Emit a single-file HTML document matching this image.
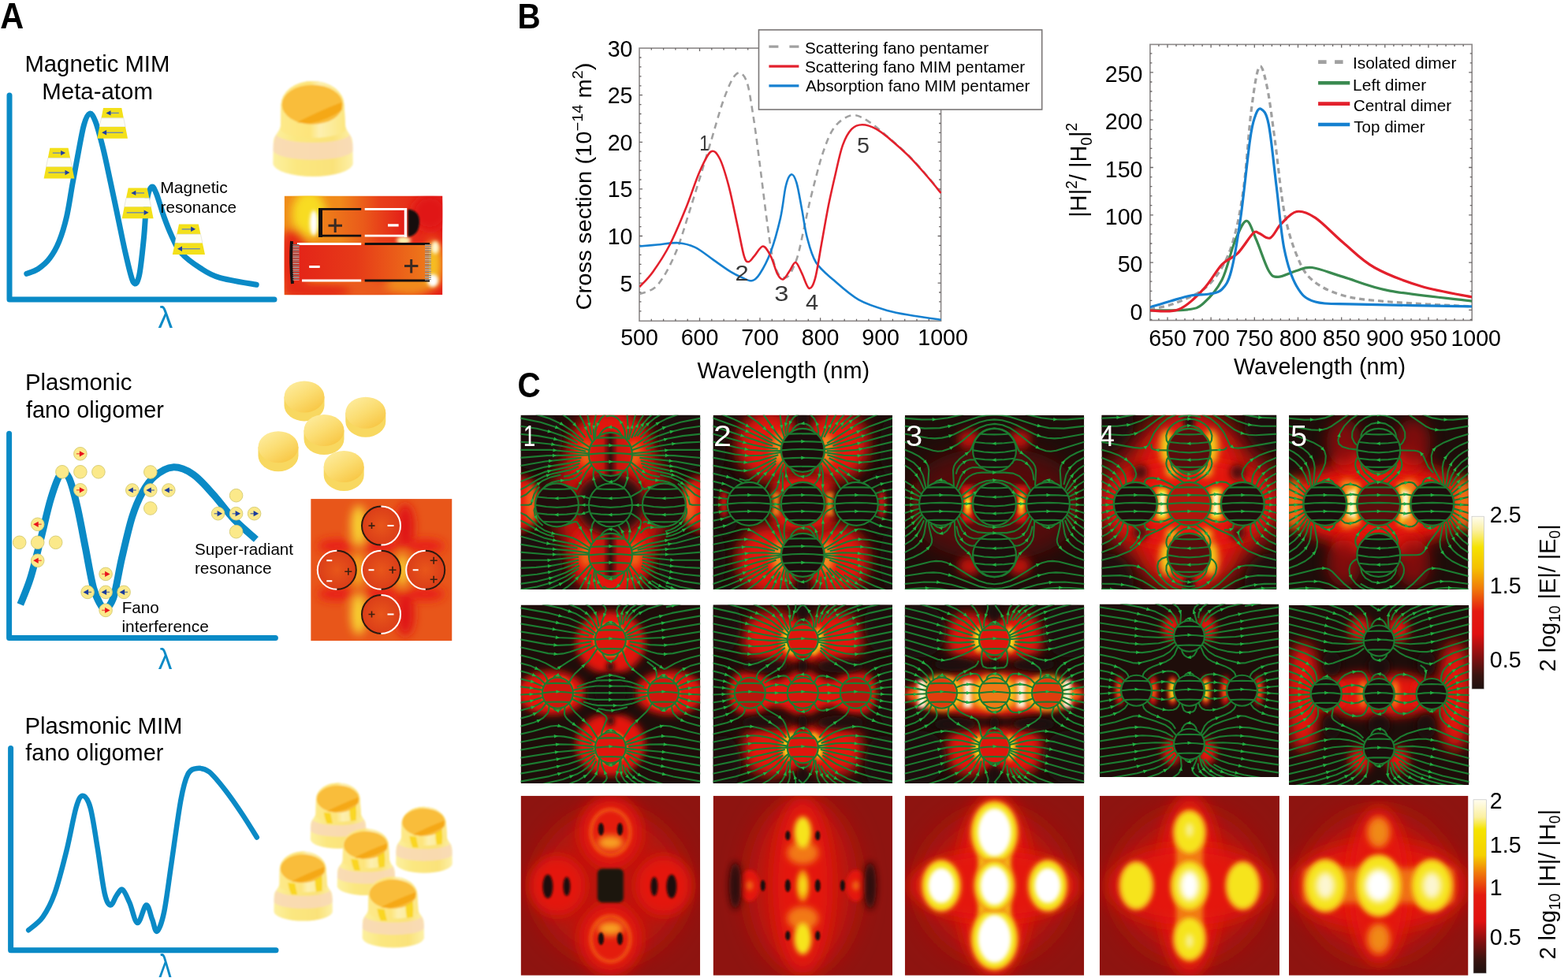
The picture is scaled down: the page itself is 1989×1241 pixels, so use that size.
<!DOCTYPE html>
<html><head><meta charset="utf-8"><title>Fano MIM oligomer figure</title>
<style>
html,body{margin:0;padding:0;background:#fff;overflow:hidden;}
svg{display:block;font-family:"Liberation Sans", Arial, Helvetica, sans-serif;}
</style></head><body>
<svg width="1989" height="1241" viewBox="0 0 1989 1241">
<defs>
<filter id="bl05" x="-20%" y="-20%" width="140%" height="140%"><feGaussianBlur stdDeviation="0.5"/></filter>
<filter id="bl1" x="-20%" y="-20%" width="140%" height="140%"><feGaussianBlur stdDeviation="1"/></filter>
<filter id="bl2" x="-50%" y="-50%" width="200%" height="200%"><feGaussianBlur stdDeviation="2"/></filter>
<filter id="bl6" x="-50%" y="-50%" width="200%" height="200%"><feGaussianBlur stdDeviation="6"/></filter>
<filter id="bl8" x="-50%" y="-50%" width="200%" height="200%"><feGaussianBlur stdDeviation="8"/></filter>
<filter id="bl12" x="-20%" y="-20%" width="140%" height="140%"><feGaussianBlur stdDeviation="1.2"/></filter>
<linearGradient id="gcylLow" x1="0" y1="0" x2="1" y2="0"><stop offset="0" stop-color="#fdf0a0"/><stop offset="0.3" stop-color="#fbe780"/><stop offset="0.75" stop-color="#fae27a"/><stop offset="1" stop-color="#fdf0a8"/></linearGradient>
<linearGradient id="gcylUp" x1="0" y1="0" x2="1" y2="0"><stop offset="0" stop-color="#fde98a"/><stop offset="0.45" stop-color="#fde47a"/><stop offset="0.6" stop-color="#fdf0b0"/><stop offset="1" stop-color="#fce680"/></linearGradient>
<linearGradient id="gcylBody" x1="0" y1="0" x2="1" y2="0"><stop offset="0" stop-color="#fbe890"/><stop offset="0.35" stop-color="#f9e070"/><stop offset="0.7" stop-color="#f8d850"/><stop offset="1" stop-color="#fbe8a0"/></linearGradient>
<radialGradient id="gcylTop" cx="0.4" cy="0.4" r="0.7"><stop offset="0" stop-color="#f7b83a"/><stop offset="0.7" stop-color="#f5a623"/><stop offset="1" stop-color="#f6b640"/></radialGradient>
<linearGradient id="gdiscTop" x1="0.2" y1="0.1" x2="0.8" y2="0.9"><stop offset="0" stop-color="#fdea98"/><stop offset="0.5" stop-color="#fbdc70"/><stop offset="1" stop-color="#f8c848"/></linearGradient>
<radialGradient id="gA2disc" cx="0.5" cy="0.5" r="0.6"><stop offset="0" stop-color="#e8561a"/><stop offset="1" stop-color="#d83818"/></radialGradient>

<filter id="b2" x="-100%" y="-100%" width="300%" height="300%"><feGaussianBlur stdDeviation="1.0"/></filter>
<filter id="b3" x="-100%" y="-100%" width="300%" height="300%"><feGaussianBlur stdDeviation="1.5"/></filter>
<filter id="b4" x="-100%" y="-100%" width="300%" height="300%"><feGaussianBlur stdDeviation="2.0"/></filter>
<filter id="b5" x="-100%" y="-100%" width="300%" height="300%"><feGaussianBlur stdDeviation="2.5"/></filter>
<filter id="b6" x="-100%" y="-100%" width="300%" height="300%"><feGaussianBlur stdDeviation="3.0"/></filter>
<filter id="b8" x="-100%" y="-100%" width="300%" height="300%"><feGaussianBlur stdDeviation="4.0"/></filter>
<filter id="b10" x="-100%" y="-100%" width="300%" height="300%"><feGaussianBlur stdDeviation="5.0"/></filter>
<filter id="b12" x="-100%" y="-100%" width="300%" height="300%"><feGaussianBlur stdDeviation="6.0"/></filter>
<filter id="b14" x="-100%" y="-100%" width="300%" height="300%"><feGaussianBlur stdDeviation="7.0"/></filter>
<filter id="b16" x="-100%" y="-100%" width="300%" height="300%"><feGaussianBlur stdDeviation="8.0"/></filter>
<filter id="b18" x="-100%" y="-100%" width="300%" height="300%"><feGaussianBlur stdDeviation="9.0"/></filter>
<filter id="b20" x="-100%" y="-100%" width="300%" height="300%"><feGaussianBlur stdDeviation="10.0"/></filter>
<filter id="b24" x="-100%" y="-100%" width="300%" height="300%"><feGaussianBlur stdDeviation="12.0"/></filter>
<filter id="b28" x="-100%" y="-100%" width="300%" height="300%"><feGaussianBlur stdDeviation="14.0"/></filter>
<filter id="b32" x="-100%" y="-100%" width="300%" height="300%"><feGaussianBlur stdDeviation="16.0"/></filter>
<filter id="b36" x="-100%" y="-100%" width="300%" height="300%"><feGaussianBlur stdDeviation="18.0"/></filter>
</defs>
<rect width="1989" height="1241" fill="#fff"/>
<text x="0.2" y="36" font-size="45.35" font-weight="bold" textLength="29.9" lengthAdjust="spacingAndGlyphs">A</text>
<text x="31.4" y="90.5" font-size="28.92" textLength="184" lengthAdjust="spacingAndGlyphs">Magnetic MIM</text>
<text x="53.3" y="125.5" font-size="28.92" textLength="140.6" lengthAdjust="spacingAndGlyphs">Meta-atom</text>
<text x="32" y="494.8" font-size="29.65" textLength="135.4" lengthAdjust="spacingAndGlyphs">Plasmonic</text>
<text x="32.9" y="529.7" font-size="29.65" textLength="175.1" lengthAdjust="spacingAndGlyphs">fano oligomer</text>
<text x="31.4" y="931" font-size="29.65" textLength="200" lengthAdjust="spacingAndGlyphs">Plasmonic MIM</text>
<text x="32.3" y="965.2" font-size="29.65" textLength="175.1" lengthAdjust="spacingAndGlyphs">fano oligomer</text>
<path d="M12,121V380H348M11.6,550.3V809.5H349.4M13.6,949.4V1205.8H350" stroke="#0a8ac6" stroke-width="7" fill="none" stroke-linecap="round" stroke-linejoin="round"/>
<path d="M33.8,347.3C36.2,346.3 43.5,344.4 48.4,341.2C53.2,338 58.5,333.7 62.9,327.9C67.3,322.1 71.4,315.1 75,306.2C78.6,297.3 81.8,286.8 84.6,274.7C87.4,262.6 89.5,246.9 91.9,233.6C94.3,220.3 96.7,207.5 99.1,195C101.5,182.5 104,167.2 106.4,158.7C108.8,150.2 111.2,145 113.6,144.2C116,143.4 118.1,146.6 120.9,153.8C123.7,161.1 127.4,174.8 130.6,187.7C133.8,200.6 137,216.3 140.2,231.2C143.4,246.1 146.7,261.9 149.9,277.2C153.1,292.5 156.4,309.6 159.6,323.1C162.8,336.6 166.4,353.8 169.2,358.2C172,362.6 174.3,359.2 176.5,349.7C178.7,340.2 180.9,317 182.5,301.3C184.1,285.6 184.6,266.1 186.2,255.4C187.8,244.7 190.2,238.9 192.2,237.3C194.2,235.7 195.7,239.5 198.3,245.7C200.9,251.9 204.7,265.8 207.9,274.7C211.1,283.6 214,291.2 217.6,298.9C221.2,306.6 223.6,313.8 229.7,320.7C235.8,327.6 245.8,334.8 253.9,340C261.9,345.2 266.1,348.6 278,352.1C289.9,355.7 317.3,359.8 325.2,361.3" stroke="#0a8ac6" stroke-width="7" fill="none" stroke-linecap="round"/>
<path d="M25.8,767C28,761.4 34.4,747.2 38.7,733.4C43,719.6 47.3,701.2 51.6,684.4C55.9,667.6 60.2,646.8 64.5,632.8C68.8,618.8 73.5,604.9 77.4,600.6C81.3,596.3 84.3,599.9 87.7,607C91.1,614.1 94.6,628.5 98,643.1C101.4,657.7 104.9,677.5 108.3,694.7C111.7,711.9 115.2,733.8 118.6,746.3C122,758.8 126.1,765.2 128.9,769.5C131.7,773.8 132.8,774.1 135.4,772C138,769.9 141.2,767.3 144.4,756.6C147.6,745.9 150.8,724.4 154.7,707.6C158.6,690.8 163.3,669.8 167.6,656C171.9,642.2 175.8,633.7 180.5,625.1C185.2,616.5 189.6,609.9 196,604.5C202.4,599.1 211,593.3 219.2,592.9C227.4,592.5 236.4,596.1 245,601.9C253.6,607.7 262.2,618.2 270.8,627.7C279.4,637.2 287.5,649.2 296.5,658.6C305.5,668 320.2,680.1 324.9,684.4" stroke="#0a8ac6" stroke-width="9" fill="none" stroke-linecap="butt"/>
<path d="M36.2,1180.2C39.2,1177.4 48.8,1171.4 54.3,1163.6C59.8,1155.8 64.4,1147.5 69.4,1133.4C74.4,1119.3 80,1097.2 84.5,1079.1C89,1061 93.1,1036.4 96.5,1024.8C99.9,1013.2 102,1009.7 105,1009.7C108,1009.7 111.5,1013.8 114.6,1024.8C117.7,1035.8 120.7,1057.9 123.7,1076C126.7,1094.1 129.9,1121.3 132.7,1133.4C135.5,1145.5 137.8,1148 140.3,1148.5C142.8,1149 145.3,1139.7 147.8,1136.4C150.3,1133.1 152.6,1127.4 155.4,1128.9C158.2,1130.4 161.2,1138.5 164.4,1145.5C167.6,1152.5 170.9,1170.6 174.4,1171.1C177.9,1171.6 182.4,1149.2 185.5,1148.5C188.6,1147.8 190.8,1161.1 193.1,1166.6C195.4,1172.1 196.6,1183.2 199.1,1181.7C201.6,1180.2 205.1,1171.6 208.1,1157.5C211.1,1143.4 213.7,1120.8 217.2,1097.2C220.7,1073.6 225.8,1034.8 229.3,1015.7C232.8,996.6 234.8,989.4 238.3,982.6C241.8,975.8 245.9,975.5 250.4,975C254.9,974.5 259.5,974.7 265.5,979.5C271.5,984.3 279.6,994.7 286.6,1003.7C293.6,1012.8 301.2,1024 307.7,1033.8C314.2,1043.6 322.8,1057.7 325.8,1062.5" stroke="#0a8ac6" stroke-width="6.5" fill="none" stroke-linecap="round"/>
<text x="200.4" y="416.2" font-size="38.34" fill="#0a8ac6" textLength="18.7" lengthAdjust="spacingAndGlyphs">λ</text>
<text x="200.8" y="849.4" font-size="37.24" fill="#0a8ac6" textLength="17.6" lengthAdjust="spacingAndGlyphs">λ</text>
<text x="201.3" y="1240" font-size="40.00" fill="#0a8ac6" textLength="16.5" lengthAdjust="spacingAndGlyphs">λ</text>
<path d="M63.3,187.7H86.6L89.1,200.5H60.8Z" fill="#f3e01a"/>
<path d="M60.8,200.5H89.1L91.4,211.7H58.5Z" fill="#fdfdf6" stroke="#d8d8c8" stroke-width="0.6"/>
<path d="M58.5,211.7H91.4L94.3,226.4H55.6Z" fill="#f3e01a"/>
<path d="M66.8,194.1H79.1" stroke="#6c8ab0" stroke-width="1.4"/>
<path d="M83.1,194.1l-6,-3.2v6.4z" fill="#1f3fa0"/>
<path d="M61.4,219H84.5" stroke="#6c8ab0" stroke-width="1.4"/>
<path d="M88.5,219l-6,-3.2v6.4z" fill="#1f3fa0"/>
<path d="M131,137H154.3L156.8,149.8H128.5Z" fill="#f3e01a"/>
<path d="M128.5,149.8H156.8L159.1,161H126.2Z" fill="#fdfdf6" stroke="#d8d8c8" stroke-width="0.6"/>
<path d="M126.2,161H159.1L162,175.7H123.3Z" fill="#f3e01a"/>
<path d="M138.5,143.4H150.8" stroke="#6c8ab0" stroke-width="1.4"/>
<path d="M134.5,143.4l6,-3.2v6.4z" fill="#1f3fa0"/>
<path d="M133.1,168.3H156.2" stroke="#6c8ab0" stroke-width="1.4"/>
<path d="M129.1,168.3l6,-3.2v6.4z" fill="#1f3fa0"/>
<path d="M162.7,238.5H186.6L189.3,251.3H160Z" fill="#f3e01a"/>
<path d="M160,251.3H189.3L191.6,262.5H157.7Z" fill="#fdfdf6" stroke="#d8d8c8" stroke-width="0.6"/>
<path d="M157.7,262.5H191.6L194.6,277.2H154.7Z" fill="#f3e01a"/>
<path d="M170.3,244.9H183" stroke="#6c8ab0" stroke-width="1.4"/>
<path d="M166.3,244.9l6,-3.2v6.4z" fill="#1f3fa0"/>
<path d="M160.7,269.8H184.6" stroke="#6c8ab0" stroke-width="1.4"/>
<path d="M188.6,269.8l-6,-3.2v6.4z" fill="#1f3fa0"/>
<path d="M227,284.4H251.8L254.5,297.2H224.3Z" fill="#f3e01a"/>
<path d="M224.3,297.2H254.5L256.9,308.4H221.9Z" fill="#fdfdf6" stroke="#d8d8c8" stroke-width="0.6"/>
<path d="M221.9,308.4H256.9L260,323.1H218.8Z" fill="#f3e01a"/>
<path d="M230.7,290.8H244.1" stroke="#6c8ab0" stroke-width="1.4"/>
<path d="M248.1,290.8l-6,-3.2v6.4z" fill="#1f3fa0"/>
<path d="M229,315.7H253.8" stroke="#6c8ab0" stroke-width="1.4"/>
<path d="M225,315.7l6,-3.2v6.4z" fill="#1f3fa0"/>
<text x="203.3" y="244.7" font-size="20.64" textLength="85.5" lengthAdjust="spacingAndGlyphs">Magnetic</text>
<text x="203.6" y="269.8" font-size="20.64">resonance</text>
<circle cx="24.7" cy="688.3" r="8.3" fill="#fbe98a" stroke="#d9cf7a" stroke-width="1"/>
<circle cx="70.7" cy="688.3" r="8.3" fill="#fbe98a" stroke="#d9cf7a" stroke-width="1"/>
<circle cx="47.7" cy="688.3" r="8.3" fill="#fbe98a" stroke="#d9cf7a" stroke-width="1"/>
<circle cx="47.7" cy="665.3" r="8.3" fill="#fbe98a" stroke="#d9cf7a" stroke-width="1"/><path d="M52.7,665.3H46.7" stroke="#e8141c" stroke-width="1.5" opacity="0.6"/><path d="M42.2,665.3L48.7,661.7V668.9Z" fill="#e8141c"/>
<circle cx="47.7" cy="711.3" r="8.3" fill="#fbe98a" stroke="#d9cf7a" stroke-width="1"/><path d="M52.7,711.3H46.7" stroke="#e8141c" stroke-width="1.5" opacity="0.6"/><path d="M42.2,711.3L48.7,707.7V714.9Z" fill="#e8141c"/>
<circle cx="78.9" cy="598.8" r="8.3" fill="#fbe98a" stroke="#d9cf7a" stroke-width="1"/>
<circle cx="124.9" cy="598.8" r="8.3" fill="#fbe98a" stroke="#d9cf7a" stroke-width="1"/>
<circle cx="101.9" cy="598.8" r="8.3" fill="#fbe98a" stroke="#d9cf7a" stroke-width="1"/>
<circle cx="101.9" cy="575.8" r="8.3" fill="#fbe98a" stroke="#d9cf7a" stroke-width="1"/><path d="M96.9,575.8H102.9" stroke="#e8141c" stroke-width="1.5" opacity="0.6"/><path d="M107.4,575.8L100.9,572.2V579.4Z" fill="#e8141c"/>
<circle cx="101.9" cy="621.8" r="8.3" fill="#fbe98a" stroke="#d9cf7a" stroke-width="1"/><path d="M96.9,621.8H102.9" stroke="#e8141c" stroke-width="1.5" opacity="0.6"/><path d="M107.4,621.8L100.9,618.2V625.4Z" fill="#e8141c"/>
<circle cx="167.8" cy="622" r="8.3" fill="#fbe98a" stroke="#d9cf7a" stroke-width="1"/><path d="M172.8,622H166.8" stroke="#1a3c9c" stroke-width="1.5" opacity="0.6"/><path d="M162.3,622L168.8,618.4V625.6Z" fill="#1a3c9c"/>
<circle cx="213.8" cy="622" r="8.3" fill="#fbe98a" stroke="#d9cf7a" stroke-width="1"/><path d="M218.8,622H212.8" stroke="#1a3c9c" stroke-width="1.5" opacity="0.6"/><path d="M208.3,622L214.8,618.4V625.6Z" fill="#1a3c9c"/>
<circle cx="190.8" cy="622" r="8.3" fill="#fbe98a" stroke="#d9cf7a" stroke-width="1"/><path d="M195.8,622H189.8" stroke="#1a3c9c" stroke-width="1.5" opacity="0.6"/><path d="M185.3,622L191.8,618.4V625.6Z" fill="#1a3c9c"/>
<circle cx="190.8" cy="599" r="8.3" fill="#fbe98a" stroke="#d9cf7a" stroke-width="1"/>
<circle cx="190.8" cy="645" r="8.3" fill="#fbe98a" stroke="#d9cf7a" stroke-width="1"/>
<circle cx="276.6" cy="651.7" r="8.3" fill="#fbe98a" stroke="#d9cf7a" stroke-width="1"/><path d="M271.6,651.7H277.6" stroke="#1a3c9c" stroke-width="1.5" opacity="0.6"/><path d="M282.1,651.7L275.6,648.1V655.3Z" fill="#1a3c9c"/>
<circle cx="322.6" cy="651.7" r="8.3" fill="#fbe98a" stroke="#d9cf7a" stroke-width="1"/><path d="M317.6,651.7H323.6" stroke="#1a3c9c" stroke-width="1.5" opacity="0.6"/><path d="M328.1,651.7L321.6,648.1V655.3Z" fill="#1a3c9c"/>
<circle cx="299.6" cy="651.7" r="8.3" fill="#fbe98a" stroke="#d9cf7a" stroke-width="1"/><path d="M294.6,651.7H300.6" stroke="#1a3c9c" stroke-width="1.5" opacity="0.6"/><path d="M305.1,651.7L298.6,648.1V655.3Z" fill="#1a3c9c"/>
<circle cx="299.6" cy="628.7" r="8.3" fill="#fbe98a" stroke="#d9cf7a" stroke-width="1"/>
<circle cx="299.6" cy="674.7" r="8.3" fill="#fbe98a" stroke="#d9cf7a" stroke-width="1"/>
<circle cx="111.1" cy="751.4" r="8.3" fill="#fbe98a" stroke="#d9cf7a" stroke-width="1"/><path d="M116.1,751.4H110.1" stroke="#1a3c9c" stroke-width="1.5" opacity="0.6"/><path d="M105.6,751.4L112.1,747.8V755Z" fill="#1a3c9c"/>
<circle cx="157.1" cy="751.4" r="8.3" fill="#fbe98a" stroke="#d9cf7a" stroke-width="1"/><path d="M162.1,751.4H156.1" stroke="#1a3c9c" stroke-width="1.5" opacity="0.6"/><path d="M151.6,751.4L158.1,747.8V755Z" fill="#1a3c9c"/>
<circle cx="134.1" cy="751.4" r="8.3" fill="#fbe98a" stroke="#d9cf7a" stroke-width="1"/><path d="M139.1,751.4H133.1" stroke="#1a3c9c" stroke-width="1.5" opacity="0.6"/><path d="M128.6,751.4L135.1,747.8V755Z" fill="#1a3c9c"/>
<circle cx="134.1" cy="728.4" r="8.3" fill="#fbe98a" stroke="#d9cf7a" stroke-width="1"/><path d="M129.1,728.4H135.1" stroke="#e8141c" stroke-width="1.5" opacity="0.6"/><path d="M139.6,728.4L133.1,724.8V732Z" fill="#e8141c"/>
<circle cx="134.1" cy="774.4" r="8.3" fill="#fbe98a" stroke="#d9cf7a" stroke-width="1"/><path d="M129.1,774.4H135.1" stroke="#e8141c" stroke-width="1.5" opacity="0.6"/><path d="M139.6,774.4L133.1,770.8V778Z" fill="#e8141c"/>
<text x="247.1" y="703.7" font-size="20.64">Super-radiant</text>
<text x="246.9" y="728" font-size="20.64" textLength="97.7" lengthAdjust="spacingAndGlyphs">resonance</text>
<text x="154.7" y="777.7" font-size="20.64">Fano</text>
<text x="154.4" y="802" font-size="20.64" textLength="110.4" lengthAdjust="spacingAndGlyphs">interference</text>
<g filter="url(#bl12)"><path d="M356.4,133.3A40.1,30.4 0 0 1 436.6,133.3L438.2,160.1C440.7,169.9 446.8,171.1 447.3,180.9L447.8,207.6A50.8,17.1 0 0 1 346.3,207.6L346.8,180.9C347.3,171.1 353.4,169.9 355.9,160.1Z" fill="url(#gcylLow)"/>
<path d="M356.4,133.3A40.1,30.4 0 0 1 436.6,133.3L438.2,163.8A41.1,11 0 0 1 355.9,163.8Z" fill="url(#gcylUp)"/>
<path d="M350.4,170.5A46.7,11 0 0 0 443.7,170.5L447.3,183.3L447.5,190.6A50.4,12.2 0 0 1 346.6,190.6L346.8,183.3Z" fill="#f8d8b8" opacity="0.85"/>
<ellipse cx="396.2" cy="132.7" rx="38.6" ry="25" fill="#f9bd3a"/>
<path d="M376.8,155.3Q402.1,141.9 433.6,129.7L433.6,139.4Q417.4,151.6 392,157.1Z" fill="#f4a50e" opacity="0.85"/></g>
<g filter="url(#bl05)">
<path d="M360.5,503.4V514.4A25.5,20 0 0 0 411.5,514.4V503.4Z" fill="#f8d860"/>
<ellipse cx="386" cy="503.4" rx="25.5" ry="20" fill="url(#gdiscTop)"/>
<path d="M438.3,523.7V534.7A25.5,20 0 0 0 489.3,534.7V523.7Z" fill="#f8d860"/>
<ellipse cx="463.8" cy="523.7" rx="25.5" ry="20" fill="url(#gdiscTop)"/>
<path d="M385.5,546V557A25.5,20 0 0 0 436.5,557V546Z" fill="#f8d860"/>
<ellipse cx="411" cy="546" rx="25.5" ry="20" fill="url(#gdiscTop)"/>
<path d="M327.5,567.2V578.2A25.5,20 0 0 0 378.5,578.2V567.2Z" fill="#f8d860"/>
<ellipse cx="353" cy="567.2" rx="25.5" ry="20" fill="url(#gdiscTop)"/>
<path d="M410.7,591.9V602.9A25.5,20 0 0 0 461.7,602.9V591.9Z" fill="#f8d860"/>
<ellipse cx="436.2" cy="591.9" rx="25.5" ry="20" fill="url(#gdiscTop)"/>
</g>
<g filter="url(#bl12)">
<path d="M400.9,1014.3A27.9,20.8 0 0 1 456.7,1014.3L457.8,1032.6C459.6,1039.3 463.8,1040.1 464.1,1046.7L464.5,1065.1A35.3,11.6 0 0 1 393.8,1065.1L394.2,1046.7C394.5,1040.1 398.7,1039.3 400.5,1032.6Z" fill="url(#gcylLow)"/>
<path d="M400.9,1014.3A27.9,20.8 0 0 1 456.7,1014.3L457.8,1035.1A28.6,7.5 0 0 1 400.5,1035.1Z" fill="url(#gcylUp)"/>
<path d="M396.6,1039.7A32.5,7.5 0 0 0 461.7,1039.7L464.1,1048.4L464.3,1053.4A35.1,8.3 0 0 1 394,1053.4L394.2,1048.4Z" fill="#f8d8b8" opacity="0.85"/>
<ellipse cx="428.6" cy="1013.9" rx="26.9" ry="17.1" fill="#f9bd3a"/>
<path d="M415,1029.3Q432.7,1020.1 454.6,1011.8L454.6,1018.5Q443.3,1026.8 425.6,1030.5Z" fill="#f4a50e" opacity="0.85"/>
<path d="M410.8,1030.9Q412.2,1040.1 415,1045.1L422.1,1045.1Q420,1036.8 419.3,1031.8Z" fill="#f8d000" opacity="0.75"/>
<path d="M443.3,1027.6Q443.3,1035.1 444.7,1041.8L451.8,1040.9Q452.5,1032.6 451.8,1022.6Z" fill="#f8d000" opacity="0.75"/>
<path d="M509.4,1043.9A28.3,21.3 0 0 1 565.9,1043.9L567,1062.6C568.8,1069.4 573.1,1070.3 573.4,1077.1L573.8,1095.8A35.8,11.9 0 0 1 502.2,1095.8L502.6,1077.1C502.9,1070.3 507.2,1069.4 509,1062.6Z" fill="url(#gcylLow)"/>
<path d="M509.4,1043.9A28.3,21.3 0 0 1 565.9,1043.9L567,1065.2A29,7.7 0 0 1 509,1065.2Z" fill="url(#gcylUp)"/>
<path d="M505.1,1069.8A32.9,7.7 0 0 0 570.9,1069.8L573.4,1078.8L573.6,1083.9A35.6,8.5 0 0 1 502.4,1083.9L502.6,1078.8Z" fill="#f8d8b8" opacity="0.85"/>
<ellipse cx="537.4" cy="1043.4" rx="27.2" ry="17.4" fill="#f9bd3a"/>
<path d="M523.7,1059.2Q541.6,1049.8 563.8,1041.3L563.8,1048.1Q552.3,1056.6 534.4,1060.5Z" fill="#f4a50e" opacity="0.85"/>
<path d="M519.4,1060.9Q520.8,1070.3 523.7,1075.4L530.8,1075.4Q528.7,1066.9 528,1061.7Z" fill="#f8d000" opacity="0.75"/>
<path d="M552.3,1057.5Q552.3,1065.2 553.8,1072L560.9,1071.1Q561.6,1062.6 560.9,1052.4Z" fill="#f8d000" opacity="0.75"/>
<path d="M435.1,1072.9A29,21.3 0 0 1 493.1,1072.9L494.2,1091.6C496.1,1098.4 500.5,1099.3 500.8,1106.1L501.2,1124.8A36.8,11.9 0 0 1 427.7,1124.8L428.1,1106.1C428.4,1099.3 432.8,1098.4 434.7,1091.6Z" fill="url(#gcylLow)"/>
<path d="M435.1,1072.9A29,21.3 0 0 1 493.1,1072.9L494.2,1094.2A29.8,7.7 0 0 1 434.7,1094.2Z" fill="url(#gcylUp)"/>
<path d="M430.6,1098.8A33.8,7.7 0 0 0 498.3,1098.8L500.8,1107.8L501,1112.9A36.5,8.5 0 0 1 427.9,1112.9L428.1,1107.8Z" fill="#f8d8b8" opacity="0.85"/>
<ellipse cx="463.9" cy="1072.4" rx="27.9" ry="17.4" fill="#f9bd3a"/>
<path d="M449.8,1088.2Q468.1,1078.8 490.9,1070.3L490.9,1077.1Q479.1,1085.6 460.8,1089.5Z" fill="#f4a50e" opacity="0.85"/>
<path d="M445.3,1089.9Q446.8,1099.3 449.8,1104.4L457.1,1104.4Q454.9,1095.9 454.2,1090.7Z" fill="#f8d000" opacity="0.75"/>
<path d="M479.1,1086.5Q479.1,1094.2 480.6,1101L488,1100.1Q488.7,1091.6 488,1081.4Z" fill="#f8d000" opacity="0.75"/>
<path d="M354.8,1102.6A29.4,22 0 0 1 413.7,1102.6L414.8,1122C416.7,1129 421.2,1129.9 421.5,1136.9L421.9,1156.3A37.2,12.3 0 0 1 347.4,1156.3L347.8,1136.9C348.1,1129.9 352.6,1129 354.5,1122Z" fill="url(#gcylLow)"/>
<path d="M354.8,1102.6A29.4,22 0 0 1 413.7,1102.6L414.8,1124.6A30.2,7.9 0 0 1 354.5,1124.6Z" fill="url(#gcylUp)"/>
<path d="M350.4,1129.4A34.3,7.9 0 0 0 418.9,1129.4L421.5,1138.7L421.7,1144A37,8.8 0 0 1 347.6,1144L347.8,1138.7Z" fill="#f8d8b8" opacity="0.85"/>
<ellipse cx="384.1" cy="1102.2" rx="28.3" ry="18" fill="#f9bd3a"/>
<path d="M369.8,1118.4Q388.4,1108.8 411.5,1100L411.5,1107Q399.5,1115.8 380.9,1119.8Z" fill="#f4a50e" opacity="0.85"/>
<path d="M365.3,1120.2Q366.8,1129.9 369.8,1135.2L377.2,1135.2Q375,1126.4 374.2,1121.1Z" fill="#f8d000" opacity="0.75"/>
<path d="M399.5,1116.7Q399.5,1124.6 401,1131.6L408.5,1130.8Q409.2,1122 408.5,1111.4Z" fill="#f8d000" opacity="0.75"/>
<path d="M467.4,1135A31,22.5 0 0 1 529.4,1135L530.6,1154.8C532.5,1162 537.2,1162.9 537.6,1170.1L538,1189.9A39.2,12.6 0 0 1 459.6,1189.9L460,1170.1C460.4,1162.9 465.1,1162 467,1154.8Z" fill="url(#gcylLow)"/>
<path d="M467.4,1135A31,22.5 0 0 1 529.4,1135L530.6,1157.5A31.8,8.1 0 0 1 467,1157.5Z" fill="url(#gcylUp)"/>
<path d="M462.7,1162.5A36.1,8.1 0 0 0 534.9,1162.5L537.6,1171.9L537.8,1177.3A39,9 0 0 1 459.8,1177.3L460,1171.9Z" fill="#f8d8b8" opacity="0.85"/>
<ellipse cx="498.2" cy="1134.5" rx="29.8" ry="18.4" fill="#f9bd3a"/>
<path d="M483.1,1151.2Q502.7,1141.3 527,1132.3L527,1139.5Q514.5,1148.5 494.9,1152.5Z" fill="#f4a50e" opacity="0.85"/>
<path d="M478.4,1153Q480,1162.9 483.1,1168.3L491,1168.3Q488.6,1159.3 487.8,1153.9Z" fill="#f8d000" opacity="0.75"/>
<path d="M514.5,1149.4Q514.5,1157.5 516,1164.7L523.9,1163.8Q524.7,1154.8 523.9,1144Z" fill="#f8d000" opacity="0.75"/>
</g>
<clipPath id="cpA1"><rect x="360.6" y="248.5" width="200.8" height="125.7"/></clipPath>
<linearGradient id="gA1bg" x1="0" y1="0" x2="1" y2="0"><stop offset="0" stop-color="#ef8a1a"/><stop offset="0.35" stop-color="#f08a1a"/><stop offset="0.6" stop-color="#e8401a"/><stop offset="1" stop-color="#e41c18"/></linearGradient>
<linearGradient id="gA1up" x1="0" y1="0" x2="1" y2="0"><stop offset="0" stop-color="#ee801a"/><stop offset="0.5" stop-color="#ea5a1a"/><stop offset="1" stop-color="#e41c18"/></linearGradient>
<linearGradient id="gA1lo" x1="0" y1="0" x2="1" y2="0"><stop offset="0" stop-color="#e42418"/><stop offset="0.45" stop-color="#e63a18"/><stop offset="1" stop-color="#ee7a1a"/></linearGradient>
<g clip-path="url(#cpA1)">
<rect x="360.6" y="248.5" width="200.8" height="125.7" fill="url(#gA1bg)"/>
<g filter="url(#bl6)">
<ellipse cx="392" cy="272" rx="22" ry="30" fill="#f8dc20"/>
<ellipse cx="372" cy="330" rx="22" ry="40" fill="#e62a18"/>
<ellipse cx="455" cy="368" rx="50" ry="14" fill="#ea5a1a"/>
<ellipse cx="400" cy="370" rx="45" ry="12" fill="#e42a18"/>
<ellipse cx="520" cy="360" rx="30" ry="16" fill="#f08a1a"/>
<ellipse cx="550" cy="335" rx="12" ry="30" fill="#f6c020"/>
<ellipse cx="545" cy="270" rx="22" ry="22" fill="#e01818"/>
</g>
<g filter="url(#bl2)">
<ellipse cx="398" cy="283" rx="5" ry="16" fill="#ffffff"/>
<ellipse cx="512" cy="305" rx="9" ry="5" fill="#fff4b0"/>
<ellipse cx="552" cy="314" rx="5" ry="8" fill="#fff8d0"/>
<ellipse cx="549" cy="356" rx="7" ry="8" fill="#ffffff"/>
</g>
<rect x="377" y="310" width="167" height="46" fill="url(#gA1lo)"/>
<rect x="408" y="265.5" width="106" height="33.5" fill="url(#gA1up)"/>
<path d="M517.5,265.5Q533,267 532,283Q531,299 517.5,300.5Z" fill="#141010" filter="url(#bl1)"/>
<path d="M408,265.3H458.2M408,299.2H458.2" stroke="#141010" stroke-width="2.8"/>
<path d="M462.7,265.3H512.9M462.7,299.2H512.9" stroke="#fff" stroke-width="2.8"/>
<path d="M406.5,264V301" stroke="#141010" stroke-width="5"/>
<path d="M514.5,264V301" stroke="#fff" stroke-width="3.5"/>
<path d="M377,309.5H458.2" stroke="#fff" stroke-width="2.8"/><path d="M383,356H458.2" stroke="#fff" stroke-width="2.8"/>
<path d="M462.7,309.5H545M462.7,356H545" stroke="#141010" stroke-width="2.8"/>
<path d="M370,306Q368,333 371,360" stroke="#141010" stroke-width="4" fill="none"/>
<path d="M375.5,310V356" stroke="#ddd" stroke-width="8" stroke-dasharray="1.3 1.3"/>
<path d="M375.5,310V356" stroke="#333" stroke-width="8" stroke-dasharray="0.9 1.7" opacity="0.7"/>
<path d="M543,310V356" stroke="#ddd" stroke-width="8" stroke-dasharray="1.3 1.3"/>
<path d="M543,310V356" stroke="#333" stroke-width="8" stroke-dasharray="0.9 1.7" opacity="0.6"/>
<path d="M416.5,286.3h17.5M425.2,277.5v17.5" stroke="#3a2a22" stroke-width="3"/>
<path d="M492,285.8h13.6" stroke="#fff" stroke-width="3.2"/>
<path d="M392.2,338.5h13.5" stroke="#fff" stroke-width="3.2"/>
<path d="M513,337.5h17.4M521.7,329v17.4" stroke="#3a2a22" stroke-width="3"/>
</g>
<clipPath id="cpA2"><rect x="394.2" y="633.1" width="179.3" height="180.2"/></clipPath>
<g clip-path="url(#cpA2)">
<rect x="394.2" y="633.1" width="179.3" height="180.2" fill="#e8561a"/>
<g filter="url(#bl6)">
<ellipse cx="455" cy="667.1" rx="10" ry="26" fill="#f8d030"/>
<ellipse cx="514" cy="667.1" rx="12" ry="28" fill="#e01818"/>
<ellipse cx="455" cy="779.5" rx="10" ry="26" fill="#f8d030"/>
<ellipse cx="514" cy="779.5" rx="12" ry="28" fill="#e01818"/>
<ellipse cx="427.3" cy="692.8" rx="24" ry="9" fill="#e82018"/>
<ellipse cx="427.3" cy="753.8" rx="24" ry="9" fill="#e82018"/>
<ellipse cx="483.5" cy="692.8" rx="24" ry="9" fill="#e82018"/>
<ellipse cx="483.5" cy="753.8" rx="24" ry="9" fill="#e82018"/>
<ellipse cx="539.7" cy="692.8" rx="24" ry="9" fill="#e82018"/>
<ellipse cx="539.7" cy="753.8" rx="24" ry="9" fill="#e82018"/>
<ellipse cx="453.8" cy="723.3" rx="8" ry="22" fill="#f6b020"/>
<ellipse cx="510" cy="723.3" rx="8" ry="22" fill="#f6b020"/>
<ellipse cx="512.2" cy="723.3" rx="6" ry="18" fill="#f8d030"/>
</g>
<circle cx="483.5" cy="667.1" r="24.5" fill="url(#gA2disc)"/>
<circle cx="427.3" cy="723.3" r="24.5" fill="url(#gA2disc)"/>
<circle cx="483.5" cy="723.3" r="24.5" fill="url(#gA2disc)"/>
<circle cx="539.7" cy="723.3" r="24.5" fill="url(#gA2disc)"/>
<circle cx="483.5" cy="779.5" r="24.5" fill="url(#gA2disc)"/>
<path d="M483.5,691.6A24.5,24.5 0 0 1 483.5,642.6" stroke="#2a1a10" stroke-width="2" fill="none"/>
<path d="M483.5,642.6A24.5,24.5 0 0 1 483.5,691.6" stroke="#fff" stroke-width="2" fill="none"/>
<path d="M467.5,667.1h8M471.5,663.1v8" stroke="#3a2010" stroke-width="1.6"/>
<path d="M491.5,667.1h8" stroke="#fff" stroke-width="2"/>
<path d="M483.5,804A24.5,24.5 0 0 1 483.5,755" stroke="#2a1a10" stroke-width="2" fill="none"/>
<path d="M483.5,755A24.5,24.5 0 0 1 483.5,804" stroke="#fff" stroke-width="2" fill="none"/>
<path d="M467.5,779.5h8M471.5,775.5v8" stroke="#3a2010" stroke-width="1.6"/>
<path d="M491.5,779.5h8" stroke="#fff" stroke-width="2"/>
<path d="M427.3,698.8A24.5,24.5 0 0 1 427.3,747.8" stroke="#2a1a10" stroke-width="2" fill="none"/>
<path d="M427.3,747.8A24.5,24.5 0 0 1 427.3,698.8" stroke="#fff" stroke-width="2" fill="none"/>
<path d="M483.5,698.8A24.5,24.5 0 0 1 483.5,747.8" stroke="#2a1a10" stroke-width="2" fill="none"/>
<path d="M483.5,747.8A24.5,24.5 0 0 1 483.5,698.8" stroke="#fff" stroke-width="2" fill="none"/>
<path d="M539.7,698.8A24.5,24.5 0 0 1 539.7,747.8" stroke="#2a1a10" stroke-width="2" fill="none"/>
<path d="M539.7,747.8A24.5,24.5 0 0 1 539.7,698.8" stroke="#fff" stroke-width="2" fill="none"/>
<path d="M414.3,711.3h7M414.3,737.3h7" stroke="#fff" stroke-width="2"/>
<path d="M437.3,725.3h9M441.8,720.8v9" stroke="#3a2010" stroke-width="1.6"/>
<path d="M467.5,723.3h7" stroke="#fff" stroke-width="2"/><path d="M493.5,723.3h9M498,718.8v9" stroke="#3a2010" stroke-width="1.6"/>
<path d="M523.7,723.3h7" stroke="#fff" stroke-width="2"/><path d="M545.7,711.3h9M550.2,706.8v9M545.7,735.3h9M550.2,730.8v9" stroke="#3a2010" stroke-width="1.6"/>
</g>
<text x="656.6" y="35.9" font-size="44.91" font-weight="bold" textLength="29.1" lengthAdjust="spacingAndGlyphs">B</text>
<rect x="811" y="61.1" width="382.6" height="346.2" fill="none" stroke="#8c8888" stroke-width="1.6"/>
<path d="M826.3,61.1v2.5M826.3,407.3v-2.5M841.6,61.1v2.5M841.6,407.3v-2.5M856.9,61.1v2.5M856.9,407.3v-2.5M872.2,61.1v2.5M872.2,407.3v-2.5M902.8,61.1v2.5M902.8,407.3v-2.5M918.1,61.1v2.5M918.1,407.3v-2.5M933.4,61.1v2.5M933.4,407.3v-2.5M948.7,61.1v2.5M948.7,407.3v-2.5M979.3,61.1v2.5M979.3,407.3v-2.5M994.6,61.1v2.5M994.6,407.3v-2.5M1010,61.1v2.5M1010,407.3v-2.5M1025.3,61.1v2.5M1025.3,407.3v-2.5M1055.9,61.1v2.5M1055.9,407.3v-2.5M1071.2,61.1v2.5M1071.2,407.3v-2.5M1086.5,61.1v2.5M1086.5,407.3v-2.5M1101.8,61.1v2.5M1101.8,407.3v-2.5M1132.4,61.1v2.5M1132.4,407.3v-2.5M1147.7,61.1v2.5M1147.7,407.3v-2.5M1163,61.1v2.5M1163,407.3v-2.5M1178.3,61.1v2.5M1178.3,407.3v-2.5M887.5,61.1v4M887.5,407.3v-4M964,61.1v4M964,407.3v-4M1040.6,61.1v4M1040.6,407.3v-4M1117.1,61.1v4M1117.1,407.3v-4M811,394.9h2.5M1193.6,394.9h-2.5M811,382.9h2.5M1193.6,382.9h-2.5M811,371h2.5M1193.6,371h-2.5M811,347.2h2.5M1193.6,347.2h-2.5M811,335.3h2.5M1193.6,335.3h-2.5M811,323.3h2.5M1193.6,323.3h-2.5M811,311.4h2.5M1193.6,311.4h-2.5M811,287.6h2.5M1193.6,287.6h-2.5M811,275.7h2.5M1193.6,275.7h-2.5M811,263.7h2.5M1193.6,263.7h-2.5M811,251.8h2.5M1193.6,251.8h-2.5M811,228h2.5M1193.6,228h-2.5M811,216.1h2.5M1193.6,216.1h-2.5M811,204.1h2.5M1193.6,204.1h-2.5M811,192.2h2.5M1193.6,192.2h-2.5M811,168.4h2.5M1193.6,168.4h-2.5M811,156.5h2.5M1193.6,156.5h-2.5M811,144.5h2.5M1193.6,144.5h-2.5M811,132.6h2.5M1193.6,132.6h-2.5M811,108.8h2.5M1193.6,108.8h-2.5M811,96.9h2.5M1193.6,96.9h-2.5M811,84.9h2.5M1193.6,84.9h-2.5M811,73h2.5M1193.6,73h-2.5M811,359.1h4M1193.6,359.1h-4M811,299.5h4M1193.6,299.5h-4M811,239.9h4M1193.6,239.9h-4M811,180.3h4M1193.6,180.3h-4M811,120.7h4M1193.6,120.7h-4" stroke="#6a6666" stroke-width="1.3"/>
<clipPath id="cpB1"><rect x="811" y="61" width="383" height="346.5"/></clipPath>
<g clip-path="url(#cpB1)" fill="none" stroke-width="2.6" stroke-linejoin="round">
<path d="M811.3,373.1C815.1,371.2 826.4,370.3 833.9,361.8C841.4,353.3 849.3,338.8 856.4,322.3C863.5,305.9 869.2,285.2 876.2,263.1C883.2,241 891.7,212.8 898.7,189.8C905.8,166.8 912.6,140.9 918.5,124.9C924.4,108.9 929.3,97.7 934,93.9C938.7,90.1 943.2,93.8 946.7,102.3C950.2,110.8 952.3,127.2 955.1,144.6C957.9,162 960.8,185.1 963.6,206.7C966.4,228.3 969.5,255.1 972.1,274.4C974.7,293.7 976.8,310.5 979.1,322.3C981.4,334.1 983.7,340.1 986,345C988.3,349.9 990.5,351.4 993,352C995.5,352.6 998.2,353.1 1001.3,348.8C1004.4,344.5 1008.4,335.7 1011.4,326.3C1014.4,316.9 1016.8,303.3 1019.3,292.4C1021.8,281.5 1023.5,272.1 1026.1,260.8C1028.7,249.5 1032.1,236 1035.1,224.7C1038.1,213.4 1040.7,203 1044.1,193.2C1047.5,183.4 1051.2,173.1 1055.4,166.1C1059.6,159.1 1064.1,154.7 1069,151.4C1073.9,148.1 1079.1,145.6 1084.7,146.2C1090.3,146.8 1096,150.4 1102.8,154.8C1109.6,159.2 1117,165.8 1125.3,172.9C1133.6,180 1144.1,189 1152.4,197.2C1160.7,205.4 1168.1,214.1 1175,222C1181.9,229.9 1190.5,240.8 1193.6,244.5" stroke="#a0a0a0" stroke-dasharray="8 6"/>
<path d="M811.3,312.5C815.1,312.2 825.7,311.2 833.9,310.5C842.1,309.8 852.6,307.6 860.6,308.2C868.6,308.8 874.5,310.4 881.8,313.9C889.1,317.4 896.9,324.2 904.4,329.4C911.9,334.6 920.8,341.1 926.9,344.9C933,348.7 936.5,350.1 941,352C945.5,353.9 949.9,356.9 953.7,356.2C957.5,355.5 959.6,353.8 963.6,347.7C967.6,341.6 973.3,331.4 977.7,319.5C982.1,307.6 986.8,290.5 990,276.6C993.2,262.7 994.5,245.2 996.8,236C999,226.8 1001.2,222.2 1003.5,221.4C1005.8,220.7 1008,224.2 1010.3,231.5C1012.6,238.8 1014.9,253.7 1017.1,265.3C1019.4,276.9 1020.8,290.1 1023.8,301.4C1026.8,312.7 1029.4,324 1035.1,333C1040.8,342 1048.7,347.7 1057.7,355.6C1066.7,363.5 1078,374 1089.3,380.4C1100.6,386.8 1113.6,390.5 1125.3,393.9C1137,397.3 1147.8,398.7 1159.2,400.7C1170.6,402.7 1187.9,404.9 1193.6,405.7" stroke="#1580d0"/>
<path d="M811.3,364.1C814.1,360.9 821.9,353.8 828.2,344.9C834.6,336 842.4,324.6 849.4,311C856.4,297.4 864.2,278.5 870.5,263C876.8,247.5 882.2,229.7 887.4,218C892.6,206.3 897.3,195.4 901.5,192.6C905.7,189.8 909,193.9 912.8,201C916.6,208.1 920.3,220.8 924.1,234.9C927.9,249 932.1,270.6 935.4,285.7C938.7,300.8 941.5,317.4 943.9,325.2C946.2,332.9 947.4,332.2 949.5,332.2C951.6,332.2 953.6,328.5 956.6,325.2C959.6,321.9 964.3,312.5 967.8,312.5C971.3,312.5 974.6,319.3 977.7,325.2C980.8,331.1 983.6,342.8 986.2,347.7C988.8,352.6 990.9,355.1 993.4,354.5C995.9,353.9 998.7,347.9 1001.3,344.3C1003.9,340.7 1006.6,332.6 1009.2,333C1011.8,333.4 1014.3,341.2 1017.1,346.6C1019.9,352.1 1023.3,364.6 1026.1,365.7C1028.9,366.8 1031.4,362.5 1034,353.3C1036.6,344.1 1039.1,325.9 1041.9,310.5C1044.7,295.1 1047.9,275.9 1050.9,260.8C1053.9,245.8 1056.9,233 1059.9,220.2C1062.9,207.4 1065.6,193.5 1069,184.1C1072.4,174.7 1076.1,168.1 1080.2,163.8C1084.3,159.5 1088.5,158.2 1093.8,158.2C1099.1,158.2 1105.8,160.6 1111.8,163.8C1117.8,167 1123.1,171.8 1129.9,177.4C1136.7,183.1 1144.9,190.2 1152.4,197.7C1159.9,205.2 1168.1,214.6 1175,222.5C1181.9,230.4 1190.5,241.2 1193.6,245" stroke="#e3202c"/>
</g>
<text x="811" y="438.3" font-size="28.6" text-anchor="middle">500</text>
<text x="887.5" y="438.3" font-size="28.6" text-anchor="middle">600</text>
<text x="964" y="438.3" font-size="28.6" text-anchor="middle">700</text>
<text x="1040.6" y="438.3" font-size="28.6" text-anchor="middle">800</text>
<text x="1117.1" y="438.3" font-size="28.6" text-anchor="middle">900</text>
<text x="1196.1" y="438.3" font-size="28.6" text-anchor="middle">1000</text>
<text x="802.5" y="369.5" font-size="28.6" text-anchor="end">5</text>
<text x="802.5" y="309.9" font-size="28.6" text-anchor="end">10</text>
<text x="802.5" y="250.3" font-size="28.6" text-anchor="end">15</text>
<text x="802.5" y="190.7" font-size="28.6" text-anchor="end">20</text>
<text x="802.5" y="131.1" font-size="28.6" text-anchor="end">25</text>
<text x="802.5" y="71.5" font-size="28.6" text-anchor="end">30</text>
<text x="884.4" y="480" font-size="30.38" textLength="218.7" lengthAdjust="spacingAndGlyphs">Wavelength (nm)</text>
<text transform="translate(750.2,236.5) rotate(-90)" font-size="27.9" text-anchor="middle" textLength="314" lengthAdjust="spacingAndGlyphs">Cross section (10<tspan font-size="19" dy="-11">−14</tspan><tspan dy="11"> m</tspan><tspan font-size="19" dy="-11">2</tspan><tspan dy="11">)</tspan></text>
<text x="887.2" y="191.2" font-size="27.00" fill="#383838" textLength="12.6" lengthAdjust="spacingAndGlyphs">1</text>
<text x="932.5" y="356.2" font-size="27.00" fill="#383838" textLength="17.2" lengthAdjust="spacingAndGlyphs">2</text>
<text x="982.2" y="381.6" font-size="27.00" fill="#383838" textLength="18.2" lengthAdjust="spacingAndGlyphs">3</text>
<text x="1022" y="392.8" font-size="27.00" fill="#383838" textLength="16.2" lengthAdjust="spacingAndGlyphs">4</text>
<text x="1087" y="194.3" font-size="27.00" fill="#383838" textLength="16" lengthAdjust="spacingAndGlyphs">5</text>
<rect x="962.5" y="37.9" width="359.2" height="101.1" fill="#fff" stroke="#7a7676" stroke-width="1.6"/>
<path d="M975.4,59.2H1013.4" stroke="#a0a0a0" stroke-width="3.2" stroke-dasharray="12 14"/>
<path d="M975.4,84.1H1013.4" stroke="#e3202c" stroke-width="3.2"/>
<path d="M975.4,108.8H1013.4" stroke="#1580d0" stroke-width="3.2"/>
<text x="1020.9" y="67.6" font-size="21.08" textLength="233.2" lengthAdjust="spacingAndGlyphs">Scattering fano pentamer</text>
<text x="1020.9" y="92.2" font-size="21.08" textLength="279.4" lengthAdjust="spacingAndGlyphs">Scattering fano MIM pentamer</text>
<text x="1021.9" y="116.4" font-size="21.08" textLength="284.5" lengthAdjust="spacingAndGlyphs">Absorption fano MIM pentamer</text>
<rect x="1458.9" y="56.4" width="408.3" height="350.1" fill="none" stroke="#8c8888" stroke-width="1.6"/>
<path d="M1469.9,56.4v2.5M1469.9,406.5v-2.5M1492,56.4v2.5M1492,406.5v-2.5M1503,56.4v2.5M1503,406.5v-2.5M1514.1,56.4v2.5M1514.1,406.5v-2.5M1525.1,56.4v2.5M1525.1,406.5v-2.5M1547.2,56.4v2.5M1547.2,406.5v-2.5M1558.2,56.4v2.5M1558.2,406.5v-2.5M1569.3,56.4v2.5M1569.3,406.5v-2.5M1580.3,56.4v2.5M1580.3,406.5v-2.5M1602.4,56.4v2.5M1602.4,406.5v-2.5M1613.4,56.4v2.5M1613.4,406.5v-2.5M1624.4,56.4v2.5M1624.4,406.5v-2.5M1635.5,56.4v2.5M1635.5,406.5v-2.5M1657.5,56.4v2.5M1657.5,406.5v-2.5M1668.6,56.4v2.5M1668.6,406.5v-2.5M1679.6,56.4v2.5M1679.6,406.5v-2.5M1690.6,56.4v2.5M1690.6,406.5v-2.5M1712.7,56.4v2.5M1712.7,406.5v-2.5M1723.7,56.4v2.5M1723.7,406.5v-2.5M1734.8,56.4v2.5M1734.8,406.5v-2.5M1745.8,56.4v2.5M1745.8,406.5v-2.5M1767.9,56.4v2.5M1767.9,406.5v-2.5M1778.9,56.4v2.5M1778.9,406.5v-2.5M1790,56.4v2.5M1790,406.5v-2.5M1801,56.4v2.5M1801,406.5v-2.5M1823.1,56.4v2.5M1823.1,406.5v-2.5M1834.1,56.4v2.5M1834.1,406.5v-2.5M1845.1,56.4v2.5M1845.1,406.5v-2.5M1856.2,56.4v2.5M1856.2,406.5v-2.5M1481,56.4v4M1481,406.5v-4M1536.1,56.4v4M1536.1,406.5v-4M1591.3,56.4v4M1591.3,406.5v-4M1646.5,56.4v4M1646.5,406.5v-4M1701.7,56.4v4M1701.7,406.5v-4M1756.8,56.4v4M1756.8,406.5v-4M1812,56.4v4M1812,406.5v-4M1458.9,405.5h2.5M1867.2,405.5h-2.5M1458.9,381.3h2.5M1867.2,381.3h-2.5M1458.9,369.3h2.5M1867.2,369.3h-2.5M1458.9,357.2h2.5M1867.2,357.2h-2.5M1458.9,345.2h2.5M1867.2,345.2h-2.5M1458.9,321h2.5M1867.2,321h-2.5M1458.9,309h2.5M1867.2,309h-2.5M1458.9,296.9h2.5M1867.2,296.9h-2.5M1458.9,284.9h2.5M1867.2,284.9h-2.5M1458.9,260.7h2.5M1867.2,260.7h-2.5M1458.9,248.7h2.5M1867.2,248.7h-2.5M1458.9,236.6h2.5M1867.2,236.6h-2.5M1458.9,224.6h2.5M1867.2,224.6h-2.5M1458.9,200.4h2.5M1867.2,200.4h-2.5M1458.9,188.4h2.5M1867.2,188.4h-2.5M1458.9,176.3h2.5M1867.2,176.3h-2.5M1458.9,164.3h2.5M1867.2,164.3h-2.5M1458.9,140.1h2.5M1867.2,140.1h-2.5M1458.9,128.1h2.5M1867.2,128.1h-2.5M1458.9,116h2.5M1867.2,116h-2.5M1458.9,104h2.5M1867.2,104h-2.5M1458.9,79.8h2.5M1867.2,79.8h-2.5M1458.9,67.8h2.5M1867.2,67.8h-2.5M1458.9,393.4h4M1867.2,393.4h-4M1458.9,333.1h4M1867.2,333.1h-4M1458.9,272.8h4M1867.2,272.8h-4M1458.9,212.5h4M1867.2,212.5h-4M1458.9,152.2h4M1867.2,152.2h-4M1458.9,91.9h4M1867.2,91.9h-4" stroke="#6a6666" stroke-width="1.3"/>
<clipPath id="cpB2"><rect x="1459" y="56.5" width="408" height="350"/></clipPath>
<g clip-path="url(#cpB2)" fill="none" stroke-width="3.2" stroke-linejoin="round">
<path d="M1458.4,392.8C1463.7,391.5 1478.7,389.3 1490,385C1501.3,380.7 1516.4,374.8 1526.4,367.2C1536.4,359.6 1543.4,350.7 1550,339.5C1556.6,328.3 1561.2,317.1 1565.8,300C1570.4,282.9 1574.1,263.9 1577.7,236.9C1581.3,209.9 1584.2,163.3 1587.5,138C1590.8,112.7 1594.1,89.5 1597.4,84.9C1600.7,80.3 1604,95 1607.3,110.5C1610.6,126 1613.6,151.4 1617.2,177.7C1620.8,204 1624.4,244.2 1629,268.5C1633.6,292.8 1638.9,309.2 1644.8,323.7C1650.7,338.2 1654.6,346.8 1664.5,355.3C1674.4,363.9 1687.5,370.4 1704,375C1720.5,379.6 1735.9,380.7 1763.2,383C1790.5,385.3 1850.4,387.9 1867.8,388.9" stroke="#a0a0a0" stroke-dasharray="7 5"/>
<path d="M1458.4,394C1466.4,393.8 1495.3,394.3 1506.6,392.8C1517.9,391.3 1519.2,391.2 1526.4,385C1533.6,378.8 1543.4,368.1 1550,355.3C1556.6,342.5 1560.7,320.5 1565.8,308C1570.9,295.5 1576.2,281 1580.8,280.3C1585.4,279.6 1588.8,293.5 1593.5,304C1598.2,314.5 1604.7,335.6 1609.3,343.5C1613.9,351.4 1615.2,351.4 1621.1,351.4C1627,351.4 1637.6,345.5 1644.8,343.5C1652,341.5 1654.6,338.2 1664.5,339.5C1674.4,340.8 1687.5,346.5 1704,351.4C1720.5,356.3 1735.9,364 1763.2,369.1C1790.5,374.2 1850.4,380 1867.8,382.2" stroke="#3a8a50"/>
<path d="M1458.4,394C1464.5,393.8 1483.5,397.3 1494.8,392.8C1506.1,388.3 1517.2,376.7 1526.4,367.2C1535.6,357.7 1542.8,343.2 1550,335.6C1557.2,328 1563.2,328.3 1569.8,321.7C1576.4,315.1 1584.9,300.4 1589.5,296.1C1594.1,291.8 1593.8,295.1 1597.4,296.1C1601,297.1 1606.6,304 1611.2,302C1615.8,300 1619.4,289.8 1625,284.2C1630.6,278.6 1637.5,269.8 1644.8,268.5C1652,267.2 1658.6,269.8 1668.5,276.4C1678.4,283 1691.5,297.5 1704,308C1716.5,318.5 1727,330.3 1743.5,339.5C1760,348.7 1782,356.9 1802.7,363.2C1823.4,369.4 1857,374.7 1867.8,377" stroke="#e3202c"/>
<path d="M1458.4,390C1462.8,388.7 1476.3,384.5 1485,382C1493.7,379.5 1502.4,376.5 1510.6,375C1518.8,373.5 1527.6,374.3 1534.2,373C1540.8,371.7 1545.4,372.1 1550,367.2C1554.6,362.3 1558,358.6 1561.9,343.5C1565.9,328.4 1569.8,304 1573.7,276.4C1577.7,248.8 1582.5,199.1 1585.6,177.7C1588.6,156.3 1589.7,154.6 1592,148C1594.3,141.4 1596.5,136.5 1599.4,138.2C1602.3,139.8 1606,141.4 1609.3,157.9C1612.6,174.4 1615.9,210.6 1619.2,236.9C1622.5,263.2 1624.7,294.8 1629,315.8C1633.3,336.9 1638.2,352 1644.8,363.2C1651.4,374.4 1655.3,379.2 1668.5,383C1681.7,386.8 1690.5,385.1 1723.7,386.1C1756.9,387.1 1843.8,388.4 1867.8,388.9" stroke="#1580d0"/>
</g>
<text x="1481" y="438.5" font-size="28.6" text-anchor="middle">650</text>
<text x="1536.1" y="438.5" font-size="28.6" text-anchor="middle">700</text>
<text x="1591.3" y="438.5" font-size="28.6" text-anchor="middle">750</text>
<text x="1646.5" y="438.5" font-size="28.6" text-anchor="middle">800</text>
<text x="1701.7" y="438.5" font-size="28.6" text-anchor="middle">850</text>
<text x="1756.8" y="438.5" font-size="28.6" text-anchor="middle">900</text>
<text x="1812" y="438.5" font-size="28.6" text-anchor="middle">950</text>
<text x="1872.2" y="438.5" font-size="28.6" text-anchor="middle">1000</text>
<text x="1449.5" y="405.6" font-size="28.6" text-anchor="end">0</text>
<text x="1449.5" y="345.3" font-size="28.6" text-anchor="end">50</text>
<text x="1449.5" y="285" font-size="28.6" text-anchor="end">100</text>
<text x="1449.5" y="224.7" font-size="28.6" text-anchor="end">150</text>
<text x="1449.5" y="164.4" font-size="28.6" text-anchor="end">200</text>
<text x="1449.5" y="104.1" font-size="28.6" text-anchor="end">250</text>
<text x="1565" y="474.6" font-size="29.94" textLength="218.1" lengthAdjust="spacingAndGlyphs">Wavelength (nm)</text>
<text transform="translate(1377.6,215.8) rotate(-90)" font-size="29.5" text-anchor="middle" textLength="120" lengthAdjust="spacingAndGlyphs">|H|<tspan font-size="19.5" dy="-11.5">2</tspan><tspan dy="11.5">/ |H</tspan><tspan font-size="19.5" dy="7">0</tspan><tspan dy="-7">|</tspan><tspan font-size="19.5" dy="-11.5">2</tspan></text>
<path d="M1672.1,78.6H1712.3" stroke="#a0a0a0" stroke-width="4.6" stroke-dasharray="10.5 10.5"/>
<text x="1715.9" y="86.6" font-size="20.35" textLength="131.5" lengthAdjust="spacingAndGlyphs">Isolated dimer</text>
<path d="M1672.1,105.2H1712.3" stroke="#3a8a50" stroke-width="4.6"/>
<text x="1716.1" y="114.8" font-size="20.35" textLength="93.1" lengthAdjust="spacingAndGlyphs">Left dimer</text>
<path d="M1672.1,131.6H1712.3" stroke="#e3202c" stroke-width="4.6"/>
<text x="1716.7" y="141.4" font-size="20.35" textLength="124.6" lengthAdjust="spacingAndGlyphs">Central dimer</text>
<path d="M1672.1,158H1712.3" stroke="#1580d0" stroke-width="4.6"/>
<text x="1717.3" y="167.6" font-size="20.35" textLength="90.3" lengthAdjust="spacingAndGlyphs">Top dimer</text>
<text x="656.4" y="504.2" font-size="44.91" font-weight="bold" textLength="29.2" lengthAdjust="spacingAndGlyphs">C</text>
<clipPath id="cp00"><rect x="660.6" y="526.8" width="227.6" height="221.2"/></clipPath>
<g clip-path="url(#cp00)">
<rect x="660.6" y="526.8" width="227.6" height="221.2" fill="#1e0d0a"/>
<ellipse cx="774.4" cy="635.4" rx="70" ry="118" fill="#e4140e" filter="url(#b24)" opacity="0.85"/>
<ellipse cx="774.4" cy="637.4" rx="0.1" ry="0.1" fill="#e4140e"/>
<ellipse cx="774.4" cy="576.4" rx="52" ry="50" fill="#e4140e" filter="url(#b14)"/>
<ellipse cx="744.4" cy="576.4" rx="10" ry="16" fill="#f27812" filter="url(#b10)" opacity="0.8"/>
<ellipse cx="804.4" cy="576.4" rx="10" ry="16" fill="#f27812" filter="url(#b10)" opacity="0.8"/>
<ellipse cx="774.4" cy="704.4" rx="52" ry="50" fill="#e4140e" filter="url(#b14)"/>
<ellipse cx="744.4" cy="704.4" rx="10" ry="16" fill="#f27812" filter="url(#b10)" opacity="0.8"/>
<ellipse cx="804.4" cy="704.4" rx="10" ry="16" fill="#f27812" filter="url(#b10)" opacity="0.8"/>
<ellipse cx="774.4" cy="639.4" rx="44" ry="40" fill="#1e0d0a" filter="url(#b14)"/>
<ellipse cx="662.4" cy="639.4" rx="20" ry="36" fill="#e4140e" filter="url(#b12)"/>
<ellipse cx="886.4" cy="639.4" rx="20" ry="36" fill="#e4140e" filter="url(#b12)"/>
<ellipse cx="674.4" cy="639.4" rx="8" ry="26" fill="#ff8020" filter="url(#b8)" opacity="0.7"/>
<ellipse cx="874.4" cy="639.4" rx="8" ry="26" fill="#ff8020" filter="url(#b8)" opacity="0.7"/>
<ellipse cx="774.4" cy="576.4" rx="5" ry="30" fill="#3a0a08" filter="url(#b6)" opacity="0.9"/>
<ellipse cx="774.4" cy="704.4" rx="5" ry="30" fill="#3a0a08" filter="url(#b6)" opacity="0.9"/>
<ellipse cx="679.4" cy="557.4" rx="34" ry="40" fill="#1e0d0a" filter="url(#b20)"/>
<ellipse cx="679.4" cy="717.4" rx="34" ry="40" fill="#1e0d0a" filter="url(#b20)"/>
<ellipse cx="869.4" cy="557.4" rx="34" ry="40" fill="#1e0d0a" filter="url(#b20)"/>
<ellipse cx="869.4" cy="717.4" rx="34" ry="40" fill="#1e0d0a" filter="url(#b20)"/>
<ellipse cx="774.4" cy="603.4" rx="10" ry="6" fill="#1e0d0a" filter="url(#b6)"/>
<ellipse cx="774.4" cy="675.4" rx="10" ry="6" fill="#1e0d0a" filter="url(#b6)"/>
<circle cx="774.4" cy="576.4" r="27.5" fill="url(#gStripe)" filter="url(#b2)"/>
<circle cx="706.4" cy="640.9" r="27.5" fill="#241008" filter="url(#b2)"/>
<circle cx="774.4" cy="640.9" r="27.5" fill="#1e0d0a" filter="url(#b2)"/>
<circle cx="842.4" cy="640.9" r="27.5" fill="#241008" filter="url(#b2)"/>
<circle cx="774.4" cy="704.4" r="27.5" fill="url(#gStripe)" filter="url(#b2)"/>
<g fill="none" stroke="#1c7c31" stroke-width="2.1"><circle cx="774.4" cy="576.4" r="27.5"/><circle cx="706.4" cy="640.9" r="27.5"/><circle cx="774.4" cy="640.9" r="27.5"/><circle cx="842.4" cy="640.9" r="27.5"/><circle cx="774.4" cy="704.4" r="27.5"/></g>
<path d="M659.1,530.5 685.6,535.7 706.5,542.6 723.4,551.3 748.3,567.9M659.1,540.6 680.9,543.8 699.3,548.2 715.4,553.8 732.5,562M659.1,550.6 683,553.1 702.6,556.8 718,561.2 748.2,571.6M659.1,560.7 681.1,561.7 700,563.7 715.7,566.5 743,572.7M659.1,570.9 697.1,570.7 747.9,575.5M659.1,581 694,578.1 747,577.4M659.1,591.2 691.6,585.5 737.4,580.9M659.2,601.3 691,592.6 722.6,587.6 736.2,584.4M659.2,611.5 690.8,598.9 722.1,592.3 735.4,588M659.3,621.6 666.5,618.1 682.7,608.2 690.8,604.3 701.3,601 722.8,596.4 733.9,592M659.2,631.4 667.3,627.5 680.5,615.4 688.8,609.7 698.9,605.4 711.5,602.5M659.1,640.8 671.1,640.6 673.8,639.7 677.5,627.2 680.5,622.1 684.3,617.5M659.2,650.2 667.3,654 681.3,666.8 690.5,672.9 700.7,676.8 719.4,680.5 727,682.8 734.2,686.4 748.4,695.6M659.3,660 666.5,663.5 686.2,675.3 694.5,678.7 703.2,681.1M659.2,670.1 689.8,682.4 700.5,685.1 726,690 748.5,698.2M659.2,680.3 691,689 732.4,695.8M659.1,690.5 691.7,696 727.5,698.9 747.3,701.7M659.1,700.6 695,703.5 747,703.6M659.1,710.7 696.1,710.8 733.9,706.8M659.1,720.9 680.1,719.9 698,718.1 713.7,715.3 734.2,710.5M659.1,731 681,728.7 698.7,725.6 715.1,721.1 733.9,714.3M659.1,741 681.8,737.6 700.3,733 717.2,726.8 735,717.8M800.5,567.9 825.4,551.3 842.3,542.6 863.2,535.7 889.7,530.5M816.3,562 833.4,553.8 849.5,548.2 867.9,543.8 889.7,540.6M800.6,571.6 830.8,561.2 846.2,556.8 865.8,553.1 889.7,550.6M819.4,569.6 837,565.7 852.8,563.2 869.7,561.6 889.7,560.7M800.9,575.5 851.7,570.7 889.7,570.9M801.8,577.4 854.8,578.1 889.7,581M811.4,580.9 857.2,585.5 889.7,591.2M812.6,584.4 826.2,587.6 857.8,592.6 889.6,601.3M813.4,588 826.7,592.3 858,598.9 889.6,611.5M814.9,592 826,596.4 847.5,601 858,604.3 866.1,608.2 882.3,618.1 889.5,621.6M837.3,602.5 849.9,605.4 860,609.7 868.3,615.4 881.5,627.5 889.6,631.4M859.9,613.6 865.8,618.9 869.9,624.6 872.8,631 875,639.7 877.7,640.6 889.7,640.8M800.4,695.6 814.6,686.4 821.8,682.8 829.4,680.5 848.1,676.8 858.3,672.9 867.5,666.8 881.5,654 889.6,650.2M844.6,681.3 853.3,679 861.7,675.7 882.3,663.5 889.5,660M800.3,698.2 822.8,690 848.3,685.1 859,682.4 889.6,670.1M808.7,697.8 824.2,694.1 857.8,689 889.6,680.3M801.5,701.7 821.3,698.9 857.1,696 889.7,690.5M801.8,703.6 853.8,703.5 889.7,700.6M814.9,706.8 852.7,710.8 889.7,710.7M814.6,710.5 835.1,715.3 850.8,718.1 868.7,719.9 889.7,720.9M814.9,714.3 833.7,721.1 850.1,725.6 867.8,728.7 889.7,731M813.8,717.8 831.6,726.8 848.5,733 867,737.6 889.7,741M679.8,525.7 697,531 712.5,538.1 725.8,546.8 740.2,559.2M713.1,525.7 721.3,531.4 728,537.4 742.5,555.2M734.5,525.6 739.5,534.3 747.8,554.6 751.6,561.6M745.1,525.4 750,551.9M756,525.3 753.5,538.1 752.8,546.1 753.3,555 753.9,558 754.8,558.1M768,525.5 762.8,530.2 758.2,537.9 755.5,546.4 755,555.4M793,556.2 793.1,550.4 791.9,544.5 789.2,538.1 785.7,533.2 782,529.8 777.6,527.7 773.6,527.3 768.8,528.6M794.4,558.3 795.3,558.1 795.8,556.2 796.9,547.2 795.5,525.3M797.4,558.2 806.3,525.4M801.1,555.8 810.3,535.8 816.8,525.7M804.9,554.1 816.6,536.7 821.9,530.7 827.9,525.4M808.3,553.4 815.9,544.1 822.9,536.9 829.8,531.2 838.2,525.8M812,554.8 823.2,544.8 833.9,537.3 846.3,530.9 860.3,525.7M658.7,748.5 681.3,744.5 700.5,739 717.1,731.9 734.2,721.6M690.9,749.1 701.2,745.4 711.2,740.9 720.8,735.4 729.7,729M713,749.1 720.5,744.1 728.2,737.7 749.7,715.4M734.5,749.2 751.2,718.6M745.1,749.4 749.5,728.9M756.1,749.4 753.4,734.7 753.5,727.7 754.4,723M768.1,749.2 762.7,744.7 758.9,738.9 756.5,731.3 756,726.3 756.5,724.8M791.9,725.5 791.5,730.3 789.6,736 786.5,741.1 782.9,744.6 778.5,746.9 774.6,747.6 769.7,746.7 765.4,744.2M794.2,722.5 795.1,722.7 795.4,723.6 796.6,732.6 795.3,749.5M796.6,720.1 800.1,728.3 806.2,749.4M804.9,729.4 811.7,741.7 816.8,749.1M798.9,716.6 817.1,739.1 827.9,749.4M811.8,727.8 824.9,740.1 839.1,749.5M826.4,736.8 837.5,743.6 849.3,749M844.4,743.3 861.3,749.3M813.5,721.4 829.5,731.7 844.8,738.9 862.9,744.7 884.5,749.1M799.2,586.2 800.2,586.3 812.8,596.1 819.5,600.5 826.9,603.3 836.8,605.1M795,594.2 796.3,601 795.8,607.9 793.2,615.5 791.3,619 790.4,619.1M787.7,600.1 788.5,600.2 787.2,602.9 783.4,607.5 779.3,610.3 774.5,611.5 770.6,610.8 766.3,608.3 762.2,603.9 760.6,599.9M758.4,619.1 757.5,619 755.6,615.5 753,607.9 752.5,601 753.8,594.2M715,604.7 722.8,603.1 729.3,600.5 736,596.1 748.6,586.3 749.6,586.2M788.4,552.8 786.3,548.6 782.9,544.9 778.5,542.5 774.6,541.9 769.7,542.7 765.4,545.3 761.6,549.9 760.4,552.6 761.1,552.8M747.9,640.8 732.9,640.9M748.9,648.6 737.6,652.4 734.6,652.6 730.7,651.8M716.6,666.4 728.9,662.1 731.8,662.2 743.9,682.8 750.4,691.6M679.9,643.8 678.3,644.8 677.5,647.6 678.9,654.5 682.9,661.4 688.6,667M687.9,620.7 693.4,615.4 700.6,611.9 708.4,610.1 722.3,608.8 728.1,607.1 733.1,603.9 738.2,599.1M715.3,614.9 731.7,620.7 744.2,598.1 750.7,589.5M749,632.8 737.6,629.3 730.7,630.1M815.9,641 800.9,640.9M798.2,691.5 802.9,685.2 807.9,676.5 812.1,667.4 813.1,662.5 812.1,659.8 810,657.7 802.6,652.6 799,651M795.5,687.7 796.4,687.6 798.2,681.9 799,672.9 797.3,665.2 794.4,659.9 793.5,659.7M791.4,683.2 791.3,679.8 789.3,674.1 784.8,667.5 783.3,666.6M786.8,679.9 784.7,676.8 781.8,674.1 778.3,672.1 774.4,671.4 770.5,672.1 767,674.1 764.1,676.8 762,679.9M755.3,659.7 754.4,659.9 751.5,665.2 749.8,672.9 750.6,681.9 752.4,687.6 753.3,687.7M797.9,589.8 798.8,589.9 800.7,592.3 806.5,601.6 812.9,614.1 814.9,619.7 814.2,621.6 812,623.5 799,630.8M843.9,674.2 850.6,672.2 856.1,669.7 861,666.3 865.3,662.1 869.1,656.3 871,650.6 870.9,645.7 869.9,644 868.9,643.8M812.3,676.4 817.3,671.5 821.8,669.4 837.7,669.2 844.3,668.3M815.7,663.7 817,662.2 818.9,661.9 832.2,666.4M815.4,618.3 817.1,620.7 818.1,620.6 833.5,614.9M807.2,595.5 814.9,603.3 820.7,607.1 826.5,608.8 840.4,610.1 848.2,611.9 855.4,615.4 860.9,620.7M784.5,729.8 780.2,733.5 774.4,734.9 768.6,733.5 764.3,729.8M757.2,555.6 765.8,555.4 774.4,555.3 783,555.4 791.6,555.6M749.7,566 762.1,565.4 774.4,565.1 786.7,565.4 799.1,566M747.7,576.4 761.1,575.3 774.4,574.9 787.8,575.3 801.1,576.4M749.7,586.8 762.1,586.1 774.4,585.8 786.7,586.1 799.1,586.8M757.2,597.2 765.8,596.9 774.4,596.8 783,596.9 791.6,597.2M723.6,620.1 715,620.7 706.4,620.9 697.8,620.7 689.2,620.1M731.1,630.5 718.7,631.8 706.4,632.4 694.1,631.8 681.7,630.5M733.1,640.9 719.8,643 706.4,643.9 693.1,643 679.7,640.9M731.1,651.3 718.7,652.6 706.4,653.1 694.1,652.6 681.7,651.3M723.6,661.7 715,662.2 706.4,662.4 697.8,662.2 689.2,661.7M791.6,620.1 783,620.7 774.4,620.9 765.8,620.7 757.2,620.1M799.1,630.5 786.7,631.8 774.4,632.4 762.1,631.8 749.7,630.5M801.1,640.9 787.8,643 774.4,643.9 761.1,643 747.7,640.9M799.1,651.3 786.7,652.6 774.4,653.1 762.1,652.6 749.7,651.3M791.6,661.7 783,662.2 774.4,662.4 765.8,662.2 757.2,661.7M859.6,620.1 851,620.7 842.4,620.9 833.8,620.7 825.2,620.1M867.1,630.5 854.7,631.8 842.4,632.4 830.1,631.8 817.7,630.5M869.1,640.9 855.8,643 842.4,643.9 829.1,643 815.7,640.9M867.1,651.3 854.7,652.6 842.4,653.1 830.1,652.6 817.7,651.3M859.6,661.7 851,662.2 842.4,662.4 833.8,662.2 825.2,661.7M757.2,683.6 765.8,683.4 774.4,683.3 783,683.4 791.6,683.6M749.7,694 762.1,693.4 774.4,693.1 786.7,693.4 799.1,694M747.7,704.4 761.1,703.3 774.4,702.9 787.8,703.3 801.1,704.4M749.7,714.8 762.1,714.1 774.4,713.8 786.7,714.1 799.1,714.8M757.2,725.2 765.8,724.9 774.4,724.8 783,724.9 791.6,725.2" fill="none" stroke="#1c7c31" stroke-width="2.1" stroke-linejoin="round"/>
<path d="M709.3,543.6L703.8,544.2L705.3,539.8ZM699.8,548.3L694.4,549.4L695.5,544.9ZM707.4,558.2L702,559L703.2,554.6ZM704.4,564.5L699.1,565.9L699.9,561.3ZM706.5,571.6L701.4,573.5L701.8,568.9ZM706,577.9L701,580.3L700.9,575.7ZM701.1,584.6L696.3,587.3L695.9,582.8ZM700.4,591.1L695.8,594.1L695.1,589.6ZM699.6,597.1L695.2,600.4L694.2,595.9ZM697.9,602.1L693.9,605.8L692.5,601.4ZM685.9,611.7L683.1,616.4L680.5,612.7ZM676.1,632L676.9,637.4L672.5,636.1ZM704.7,677.6L699.3,678.9L700.2,674.3ZM683.2,673.5L677.7,672.9L680.1,669ZM706.4,686.3L701,687.6L701.9,683.1ZM698.4,690.2L693.1,691.7L693.8,687.1ZM706.1,697.2L700.9,699.1L701.3,694.5ZM706,703.5L701,705.8L701,701.2ZM699.6,710.4L694.8,713.2L694.4,708.7ZM700,717.8L695.2,720.7L694.8,716.1ZM700.2,725.3L695.7,728.4L694.9,723.9ZM701.3,732.8L697,736.2L695.9,731.8ZM845.2,541.7L841.2,545.4L839.7,541.1ZM854.8,546.9L850.5,550.3L849.4,545.8ZM847.2,556.5L843,560.1L841.7,555.7ZM857.3,562.7L852.5,565.5L852.1,560.9ZM848.2,571.1L843.5,573.8L843,569.2ZM848.8,578L843.8,580.2L843.9,575.6ZM853.7,585.2L848.5,586.9L848.9,582.4ZM854.4,592L849.1,593.5L849.8,589ZM855.1,598.3L849.7,599.5L850.7,595ZM856.6,603.9L851.1,604.6L852.5,600.2ZM867.8,615.1L862.4,614.2L865,610.4ZM873.8,634.8L870.3,630.5L874.8,629.4ZM850,676.4L845.6,679.6L844.7,675.1ZM870.3,670.6L867.2,675.2L864.8,671.2ZM848.3,685.1L843.9,688.3L843,683.8ZM852.4,689.8L847.8,692.8L847.1,688.3ZM848.7,696.7L843.9,699.4L843.5,694.8ZM848.8,703.5L843.8,705.8L843.8,701.2ZM855.2,711L850,712.8L850.5,708.2ZM854.8,718.5L849.6,720.2L850.1,715.7ZM854.5,726.3L849.2,727.7L850,723.2ZM853.4,734.2L848,735.3L849.1,730.8ZM715,539.7L709.5,538.9L712,535.1ZM731.1,541.3L726.2,538.9L729.7,536ZM744.4,546.3L740.4,542.5L744.6,540.8ZM748.1,541.6L744.9,537.1L749.4,536.2ZM752.9,545L751.1,539.8L755.6,540.2ZM757,541.7L756.3,536.2L760.7,537.6ZM785.7,533.1L790.5,535.9L786.7,538.5ZM796.4,539.2L799,544L794.4,544.3ZM802.6,538.9L803.6,544.3L799.1,543.1ZM809.5,537.6L809.5,543.1L805.3,541.2ZM816.9,536.3L816,541.7L812.2,539.1ZM823.9,535.8L822.1,541L818.8,537.8ZM837,535.7L833.6,540.1L831.5,536ZM701,738.9L696.8,742.5L695.6,738ZM714,739.6L710.4,743.8L708.5,739.6ZM734.4,731.2L732.6,736.4L729.3,733.2ZM744.3,731.2L743.9,736.7L739.9,734.5ZM747.9,736.2L749.1,741.6L744.6,740.7ZM753.1,733.3L756.3,737.8L751.8,738.6ZM757.9,735.7L761.6,739.8L757.3,741.2ZM781.8,745.7L783.8,740.5L787,743.8ZM796.1,738.6L794.2,733.4L798.8,733.8ZM802.8,737.4L799.2,733.3L803.6,732ZM811.9,742.1L807.5,738.9L811.5,736.6ZM814.6,736L809.6,733.6L813.2,730.7ZM826.7,741.8L821.5,740.1L824.7,736.7ZM840.2,744.8L834.7,744.8L836.6,740.7ZM855.7,747.3L850.2,747.8L851.7,743.4ZM850.1,740.6L844.6,741.2L846,736.9ZM819.1,600.2L813.6,599.4L816.1,595.6ZM795.6,610.4L793.7,605.3L798.2,605.6ZM771.8,612.2L776.1,608.8L777.2,613.2ZM752.8,604.5L755.4,609.3L750.8,609.6ZM736,596.1L733.1,600.8L730.6,596.9ZM771.1,542.5L775.7,539.3L776.5,543.9ZM737.4,640.9L742.4,638.5L742.4,643.1ZM737.1,652.5L741.1,648.8L742.5,653.1ZM738.1,672.9L733.6,669.8L737.6,667.4ZM681.4,658.9L676.9,655.7L680.9,653.4ZM716,609.4L711.2,612.1L710.8,607.5ZM737.8,609.7L737.4,615.1L733.4,612.9ZM737.1,629.2L742.6,628.5L741.2,632.9ZM805.4,640.9L810.4,638.7L810.4,643.3ZM812.5,666.5L812.5,672L808.3,670.1ZM799.3,670.4L801.1,675.6L796.5,675.2ZM787.5,671.5L792.2,674.4L788.4,676.9ZM771.5,670.8L776.8,669.5L775.9,674ZM750.1,676.4L747.3,671.6L751.9,671.2ZM813.5,615.3L809.2,611.9L813.3,609.8ZM866,661.5L864,666.6L860.8,663.3ZM830.1,669.3L825.1,671.6L825.1,667ZM826.6,664.5L821.1,665L822.6,660.7ZM826.8,617.4L822.9,621.3L821.3,616.9ZM836.3,609.7L831.1,611.5L831.5,606.9ZM771.5,735.6L775.8,732.2L776.9,736.7ZM777.4,565L772.5,567.4L772.3,562.8ZM777.4,585.8L772.5,588.2L772.3,583.6ZM703.4,632.5L708.3,630L708.5,634.6ZM703.4,653.3L708.3,650.8L708.5,655.4ZM771.4,632.5L776.3,630L776.5,634.6ZM771.4,653.3L776.3,650.8L776.5,655.4ZM839.4,632.5L844.3,630L844.5,634.6ZM839.4,653.3L844.3,650.8L844.5,655.4ZM777.4,693L772.5,695.4L772.3,690.8ZM777.4,713.8L772.5,716.2L772.3,711.6Z" fill="#22b042"/>
</g>
<text x="663.7" y="566.4" font-size="37.00" fill="#fff" textLength="15.6" lengthAdjust="spacingAndGlyphs">1</text>
<clipPath id="cp01"><rect x="904.6" y="526.8" width="227.4" height="221.2"/></clipPath>
<g clip-path="url(#cp01)">
<rect x="904.6" y="526.8" width="227.4" height="221.2" fill="#1e0d0a"/>
<ellipse cx="976.3" cy="565.4" rx="42" ry="44" fill="#e4140e" filter="url(#b18)"/>
<ellipse cx="1060.3" cy="565.4" rx="42" ry="44" fill="#e4140e" filter="url(#b18)"/>
<ellipse cx="988.3" cy="569.4" rx="9" ry="20" fill="#f8a020" filter="url(#b10)" opacity="0.9"/>
<ellipse cx="1048.3" cy="569.4" rx="9" ry="20" fill="#f8a020" filter="url(#b10)" opacity="0.9"/>
<ellipse cx="1018.3" cy="531.4" rx="8" ry="16" fill="#1e0d0a" filter="url(#b10)"/>
<ellipse cx="976.3" cy="710.4" rx="42" ry="44" fill="#e4140e" filter="url(#b18)"/>
<ellipse cx="1060.3" cy="710.4" rx="42" ry="44" fill="#e4140e" filter="url(#b18)"/>
<ellipse cx="988.3" cy="706.4" rx="9" ry="20" fill="#f8a020" filter="url(#b10)" opacity="0.9"/>
<ellipse cx="1048.3" cy="706.4" rx="9" ry="20" fill="#f8a020" filter="url(#b10)" opacity="0.9"/>
<ellipse cx="1018.3" cy="744.4" rx="8" ry="16" fill="#1e0d0a" filter="url(#b10)"/>
<ellipse cx="1018.3" cy="617.4" rx="40" ry="14" fill="#e4140e" filter="url(#b12)"/>
<ellipse cx="1018.3" cy="659.4" rx="40" ry="14" fill="#e4140e" filter="url(#b12)"/>
<path d="M978.3,624.4H990.3Q986.8,639.4 990.3,654.4H978.3Q981.8,639.4 978.3,624.4Z" fill="#f27812" filter="url(#b5)"/>
<path d="M1046.3,624.4H1058.3Q1054.8,639.4 1058.3,654.4H1046.3Q1049.8,639.4 1046.3,624.4Z" fill="#f27812" filter="url(#b5)"/>
<ellipse cx="918.3" cy="639.4" rx="6" ry="20" fill="#e4140e" filter="url(#b8)" opacity="0.9"/>
<ellipse cx="1118.3" cy="639.4" rx="6" ry="20" fill="#e4140e" filter="url(#b8)" opacity="0.9"/>
<ellipse cx="914.3" cy="639.4" rx="26" ry="44" fill="#1e0d0a" filter="url(#b16)" opacity="0.95"/>
<ellipse cx="906.3" cy="567.4" rx="14" ry="40" fill="#1e0d0a" filter="url(#b16)" opacity="0.8"/>
<ellipse cx="906.3" cy="709.4" rx="14" ry="40" fill="#1e0d0a" filter="url(#b16)" opacity="0.8"/>
<ellipse cx="1122.3" cy="639.4" rx="26" ry="44" fill="#1e0d0a" filter="url(#b16)" opacity="0.95"/>
<ellipse cx="1130.3" cy="567.4" rx="14" ry="40" fill="#1e0d0a" filter="url(#b16)" opacity="0.8"/>
<ellipse cx="1130.3" cy="709.4" rx="14" ry="40" fill="#1e0d0a" filter="url(#b16)" opacity="0.8"/>
<ellipse cx="918.3" cy="639.4" rx="5" ry="18" fill="#e4140e" filter="url(#b6)" opacity="0.9"/>
<ellipse cx="1118.3" cy="639.4" rx="5" ry="18" fill="#e4140e" filter="url(#b6)" opacity="0.9"/>
<circle cx="1018.3" cy="571.4" r="27.5" fill="#1e0d0a" filter="url(#b2)"/>
<circle cx="950.3" cy="639.4" r="27.5" fill="#1e0d0a" filter="url(#b2)"/>
<circle cx="1018.3" cy="639.4" r="27.5" fill="#1e0d0a" filter="url(#b2)"/>
<circle cx="1086.3" cy="639.4" r="27.5" fill="#1e0d0a" filter="url(#b2)"/>
<circle cx="1018.3" cy="704.4" r="27.5" fill="#1e0d0a" filter="url(#b2)"/>
<g fill="none" stroke="#1c7c31" stroke-width="2.1"><circle cx="1018.3" cy="571.4" r="27.5"/><circle cx="950.3" cy="639.4" r="27.5"/><circle cx="1018.3" cy="639.4" r="27.5"/><circle cx="1086.3" cy="639.4" r="27.5"/><circle cx="1018.3" cy="704.4" r="27.5"/></g>
<path d="M903.2,530.2 933.3,540.9 978.8,561.7 991.9,566.6M903.2,540.3 980.1,565.7M903.2,550.3 955.3,564.5 970.9,567.7 986.8,569.8M903.2,560.3 934.3,567.8 951,570.8 968.9,572.3 990.9,572.1M903.1,570.4 932.5,576.5 949.4,578.3 966.4,577.7 991.1,574M903.1,580.4 931.6,585.8 947.6,586.9 963.4,584.5 987.3,577.2M903.1,590.4 934.5,596.6 941.5,597.4 947.5,597.1 953.3,595.9 960.9,593.2 985,581.2M903.1,600.4 927.4,606.3 935.8,609.4 942.9,613.2M903.1,610.4 920.6,614.6 931.4,619.7M903.1,620.5 915.9,622.9 926.4,626.2M903.1,630.6 923.9,633.2M903.1,640.8 923.1,640.4M903.1,651 924.8,647.7M903.1,661.1 916.8,658.3 928.2,654.5M903.1,671.2 921.6,666.7 934.2,661M903.1,681.2 920.7,677.3 940.9,671.7 947.9,671.2 955.2,674.3 985.7,693.4 992.7,697M903.1,691.2 933.5,685 947.5,684.2 954.4,685.3 962.1,687.5 987.2,697.4M903.1,701.2 931.5,695.3 946.4,693.7 961.4,694.6 982.9,699M903.2,711.3 933.4,704.3 950.2,701.7 967.1,701.2 991.1,702.9M903.2,721.3 953.6,708.6 971.4,706 991.3,704.8M903.2,731.3 961.4,713.3 989.7,706.8M903.2,741.4 930.6,732.1 984.5,710.5M1044.7,566.6 1057.8,561.7 1103.3,540.9 1133.4,530.2M1056.5,565.7 1133.4,540.3M1044.8,570.2 1061.7,568.3 1079.4,565 1133.4,550.3M1048.7,572.2 1069.7,572.2 1086.6,570.7 1103.3,567.5 1133.4,560.3M1045.5,574 1070.2,577.7 1087.2,578.3 1104.1,576.5 1133.5,570.4M1049.3,577.2 1073.2,584.5 1089,586.9 1105,585.8 1133.5,580.4M1051.6,581.2 1075.7,593.2 1083.3,595.9 1089.1,597.1 1095.1,597.4 1102.1,596.6 1133.5,590.4M1093.7,613.2 1100.8,609.4 1109.2,606.3 1133.5,600.4M1105.2,619.7 1116,614.6 1133.5,610.4M1110.2,626.2 1120.7,622.9 1133.5,620.5M1112.7,633.2 1133.5,630.6M1113.5,640.4 1133.5,640.8M1111.8,647.7 1133.5,651M1108.4,654.5 1119.8,658.3 1133.5,661.1M1102.4,661 1115,666.7 1133.5,671.2M1043.9,697 1050.9,693.4 1081.4,674.3 1088.7,671.2 1095.7,671.7 1115.9,677.3 1133.5,681.2M1049.4,697.4 1074.5,687.5 1082.2,685.3 1089.1,684.2 1103.1,685 1133.5,691.2M1052.7,699.3 1074.2,694.8 1090.2,693.7 1105.1,695.3 1133.5,701.2M1045.5,702.9 1069.5,701.2 1086.4,701.7 1103.2,704.3 1133.4,711.3M1045.3,704.8 1065.2,706 1083,708.6 1133.4,721.3M1046.9,706.8 1075.2,713.3 1133.4,731.3M1052.1,710.5 1106,732.1 1133.4,741.4M914.9,525.6 929.8,531.4 944.3,538.3 979.7,558.9M947.1,525.7 960.9,535.6 984.8,556.9 991.9,562.4 992.8,562.5M968.3,525.8 986.7,551.9 992.4,558.9M989.4,525.3 991.9,545.1 994.6,553.7 995.4,555.5 996.3,555.7M1000.4,525.5 998,532 996.5,538.9 996.2,545.8 996.9,551.8M1013.1,525.5 1007.2,529.2 1002.4,535.5 999.4,543.9 999.1,551.7M1037.2,552.2 1038,552 1038.2,547 1036.5,538.2 1032.8,531.1 1027.3,525.4M1040.7,556.2 1041.6,556.1 1042.5,554.3 1045.7,545.9 1050,525.3M1045.4,554.8 1060.6,525.6M1052.7,549.6 1063.9,534.2 1071.6,525.1M1056.1,550.4 1070.6,535.2 1082,525.5M1067.2,544.1 1079.7,534 1092.2,525.7M1049.2,562.4 1087.2,538.4 1099.6,531.9 1113.3,525.8M904.8,749 921.8,743.1 937.5,736.6 974,717.9M925.9,749.1 949.2,737.6 974.5,721.4M947.1,749.1 960.9,739.3 983.5,719.6 992.3,713M968.3,749 987,723 993.6,715.6M978.7,749.3 989.3,725.6M989.4,749.5 991.9,730.7 994.6,722.1 995.4,720.3 996.3,720.1M1000.4,749.3 997.7,741.8 996.5,734.9 996.4,727.9 997.6,722.2M1013.1,749.3 1007.2,745.6 1002.4,739.3 999.7,731.8 999.3,724M1036.8,723.8 1037.9,724.8 1038,728.7 1036.1,737.5 1032.3,744.5 1027.3,749.4M1041.4,731.7 1041,740.6 1039.1,749.4M1041.1,719 1045.8,729.9 1050,749.5M1048.7,726.1 1060.6,749.2M1042.9,715.5 1043.9,715.6 1049.3,721.5 1064.4,741.4 1071.6,749.7M1052.3,721.1 1070.6,739.6 1082,749.3M1059.6,724.3 1077.2,739 1092.2,749.1M1070.7,729.6 1087.3,740.7 1103.2,749.3M1060.6,718.1 1094.8,736.9 1109.4,743.5 1124.3,749.2M1039,589.2 1040.1,596 1039.2,603.9 1036.6,610.4 1032,615.7M1032.8,594.6 1030.6,598.8 1027,602.2 1023.4,604 1018.5,604.8 1013.5,604.1 1009.1,601.8 1005,597.5 1003.7,594.8 1004.5,594.6M1004.6,615.7 1000,610.4 997.4,603.9 996.5,596 997.6,589.2M1032.6,548.2 1030.5,543.9 1027.1,540.3 1022.7,538 1018.8,537.3 1013.8,538 1009.5,540.4 1006,544 1004.4,548M976.8,639.3 991.7,640.4M975.2,649.1 976.1,649.2 979.9,652.4 984.6,658.9 986.7,664.5 991.1,680.9 995.3,689.8M969.3,658.3 970.2,658.4 988.2,686.1 993.3,692.3 994.2,692.4M937.8,607.6 945.4,609.8 950.3,608.9 984.5,584.6M959.6,614 960.5,613.9 963.1,609.6 967.6,604.3 984.1,588.1M969.3,620.5 970.3,620.4 972.9,616.1 987.8,591.3 994,583.5M975.1,629.6 976,629.5 980.7,625.8 985.4,619.3 987.3,613.6 990.8,597 993.9,588.6M1044.8,639.7 1059.8,639M1039.8,688.3 1040.7,688.1 1041.4,686.3 1043.4,678.5 1044.1,658.6 1045,653.7 1047.1,650.3 1050.1,647.7 1059.2,643.6M1036.3,684.6 1037.2,684.4 1037,680.4 1035,673.7 1031.5,668.9 1026.9,665.5M1033.1,681.8 1033.9,681.6 1032.4,678 1028.5,673.4 1024.2,670.9 1018.3,669.9 1012.4,670.9 1008.1,673.4 1004.2,678 1002.7,681.6 1003.5,681.8M976.9,642.4 983.6,644.1 989.8,647.4 992.7,650.1 994.7,654.3 997.8,658.2 995.4,665.8 994.5,674.7 995.4,683.7 996.6,687.5 997.4,687.7M976.8,634.3 987,630.2 990.1,627.7 991.9,625.3 992.9,620.5 992.7,599.5M1041.6,589.8 1044.1,601.5 1043.6,619.5 1044.3,624.4 1046.5,627.7 1049.6,630.2 1059.8,634.3M1056.9,685.1 1069.4,673.6 1076.2,665 1077.1,664.9M1042.4,692.4 1043.3,692.3 1048.4,686.1 1066.4,658.4 1067.3,658.3M1042.6,583.5 1048.8,591.3 1063.7,616.1 1066.3,620.4 1067.3,620.5M1045.7,582.3 1066.9,602.1 1072.9,608.8 1076.1,613.9 1077,614M1063.4,592.8 1084.5,607.9 1088.2,609.6 1091.2,609.8M1032.2,727.8 1030.6,731.8 1027.1,735.4 1022.8,737.8 1017.8,738.5 1013.9,737.8 1009.5,735.5 1006.1,731.9 1004,727.6M1001.1,550.6 1009.7,550.4 1018.3,550.3 1026.9,550.4 1035.5,550.6M993.6,561 1006,560.4 1018.3,560.1 1030.6,560.4 1043,561M991.6,571.4 1004.9,570.3 1018.3,569.9 1031.7,570.3 1045,571.4M993.6,581.8 1006,581.1 1018.3,580.8 1030.6,581.1 1043,581.8M1001.1,592.2 1009.7,591.9 1018.3,591.8 1026.9,591.9 1035.5,592.2M933.1,618.6 941.7,618.4 950.3,618.3 958.9,618.4 967.5,618.6M925.6,629 938,628.4 950.3,628.1 962.6,628.4 975,629M923.6,639.4 936.9,638.3 950.3,637.9 963.6,638.3 977,639.4M925.6,649.8 938,649.1 950.3,648.8 962.6,649.1 975,649.8M933.1,660.2 941.7,659.9 950.3,659.8 958.9,659.9 967.5,660.2M1001.1,618.6 1009.7,618.4 1018.3,618.3 1026.9,618.4 1035.5,618.6M993.6,629 1006,628.4 1018.3,628.1 1030.6,628.4 1043,629M991.6,639.4 1004.9,638.3 1018.3,637.9 1031.7,638.3 1045,639.4M993.6,649.8 1006,649.1 1018.3,648.8 1030.6,649.1 1043,649.8M1001.1,660.2 1009.7,659.9 1018.3,659.8 1026.9,659.9 1035.5,660.2M1069.1,618.6 1077.7,618.4 1086.3,618.3 1094.9,618.4 1103.5,618.6M1061.6,629 1074,628.4 1086.3,628.1 1098.6,628.4 1111,629M1059.6,639.4 1072.9,638.3 1086.3,637.9 1099.7,638.3 1113,639.4M1061.6,649.8 1074,649.1 1086.3,648.8 1098.6,649.1 1111,649.8M1069.1,660.2 1077.7,659.9 1086.3,659.8 1094.9,659.9 1103.5,660.2M1001.1,683.6 1009.7,683.4 1018.3,683.3 1026.9,683.4 1035.5,683.6M993.6,694 1006,693.4 1018.3,693.1 1030.6,693.4 1043,694M991.6,704.4 1004.9,703.3 1018.3,702.9 1031.7,703.3 1045,704.4M993.6,714.8 1006,714.1 1018.3,713.8 1030.6,714.1 1043,714.8M1001.1,725.2 1009.7,724.9 1018.3,724.8 1026.9,724.9 1035.5,725.2" fill="none" stroke="#1c7c31" stroke-width="2.1" stroke-linejoin="round"/>
<path d="M950.6,548.8L945.1,548.8L947,544.6ZM944.5,553.9L939,554.5L940.4,550.2ZM947.5,562.4L942.1,563.3L943.3,558.9ZM949.5,570.5L944.2,571.9L945,567.4ZM949.9,578.4L944.7,580.1L945.2,575.5ZM948.6,586.9L943.4,588.9L943.7,584.3ZM948.5,597.1L943.6,599.6L943.4,595ZM926.4,606L921,607.1L922.1,602.6ZM920.6,614.6L915.2,615.7L916.3,611.2ZM917.9,623.2L912.5,624.6L913.4,620.1ZM916.5,632.3L911.3,634L911.8,629.4ZM916.1,640.6L911.1,643L911.1,638.4ZM916.9,648.9L912.3,651.9L911.6,647.4ZM918.8,658L914.3,661.2L913.4,656.7ZM922,666.6L917.7,670L916.6,665.6ZM953.4,673.5L947.9,673.7L949.6,669.4ZM949,684.1L944.1,686.7L943.8,682.1ZM945.9,693.8L941.2,696.6L940.7,692ZM949.7,701.8L945.1,704.8L944.4,700.3ZM949.7,709.6L945.4,713L944.3,708.5ZM949,717.1L944.9,720.8L943.6,716.4ZM946.9,725.5L943.1,729.5L941.4,725.3ZM1091.5,546.3L1087.9,550.5L1086,546.3ZM1097.8,552L1093.8,555.8L1092.4,551.4ZM1092.4,561.4L1088.2,565L1087,560.5ZM1094.5,569.2L1090,572.4L1089.1,567.8ZM1092.7,577.7L1088,580.6L1087.4,576ZM1094,586.6L1089.2,589.2L1088.9,584.6ZM1094.1,597.3L1089,599.4L1089.2,594.8ZM1116,604.6L1111.7,608L1110.6,603.6ZM1121.8,613.2L1117.5,616.6L1116.4,612.1ZM1124.6,622.1L1120.1,625.3L1119.3,620.8ZM1126.1,631.6L1121.4,634.5L1120.8,629.9ZM1126.5,640.7L1121.5,642.9L1121.5,638.3ZM1125.6,649.8L1120.3,651.3L1121,646.8ZM1123.7,659.1L1118.4,660.4L1119.3,655.9ZM1120.4,668L1115,669.1L1116.1,664.6ZM1088.8,671.2L1085.1,675.2L1083.3,671ZM1093.6,684.5L1088.5,686.5L1088.8,681.9ZM1096.1,694.3L1090.9,696.1L1091.4,691.5ZM1092.9,702.7L1087.6,704.2L1088.3,699.7ZM1092.7,711L1087.3,712L1088.4,707.6ZM1093.3,718.9L1087.9,719.6L1089.2,715.2ZM1095.3,727.8L1089.8,728.1L1091.5,723.8ZM950.7,542L945.3,541.5L947.6,537.5ZM972.4,545.9L967.2,544.3L970.2,540.8ZM981.8,545L977.1,542.2L980.8,539.6ZM991.8,544.1L988.9,539.4L993.4,538.9ZM996,541.3L994.8,535.9L999.3,536.9ZM1001.1,539.2L1000.6,533.7L1004.9,535.2ZM1034.9,535L1039.2,538.4L1035.1,540.5ZM1047.2,538.5L1048.5,543.9L1044,542.9ZM1054.4,537.5L1054.1,543L1050,540.9ZM1063.6,534.6L1062.5,540L1058.8,537.3ZM1070.6,535.2L1068.8,540.4L1065.5,537.3ZM1081.6,532.5L1079.2,537.4L1076.3,533.8ZM1083,541.1L1080,545.7L1077.5,541.8ZM942.9,733.9L939.5,738.2L937.4,734.1ZM953.4,734.9L950.5,739.5L948,735.6ZM972.2,729.4L970,734.5L966.9,731ZM982.3,729.6L981.2,735L977.5,732.3ZM985.2,734.7L985.3,740.2L981.1,738.3ZM991.8,731.2L993.4,736.5L988.9,735.9ZM996.1,733L999.3,737.5L994.8,738.3ZM1001.2,736.1L1005.1,740L1000.8,741.6ZM1034.5,740.4L1034.9,734.9L1038.9,737.1ZM1040.3,743.6L1039.1,738.2L1043.6,739.2ZM1047.3,736.8L1044,732.4L1048.5,731.4ZM1056,740.3L1051.7,737L1055.8,734.8ZM1059.3,734.6L1054.5,732L1058.1,729.3ZM1068.8,737.8L1063.7,735.9L1066.9,732.7ZM1077.6,739.3L1072.3,737.9L1075.2,734.4ZM1089,741.8L1083.6,741L1086.1,737.2ZM1094.3,736.7L1088.8,736.3L1091.1,732.2ZM1038.9,606.5L1037.2,601.3L1041.8,601.8ZM1015,604.3L1020.3,602.7L1019.6,607.3ZM997,600.5L999.8,605.2L995.3,605.7ZM1015.5,537.8L1020.1,534.8L1020.8,539.3ZM987.3,640.1L982.1,642L982.5,637.4ZM988.4,670.8L984.9,666.5L989.3,665.3ZM983,678.2L978.4,675.2L982.2,672.7ZM964.6,598.7L961.9,603.5L959.2,599.8ZM973.4,598.6L971.4,603.8L968.2,600.5ZM982.9,599.4L982.3,604.9L978.4,602.5ZM988.4,608.2L989.6,613.6L985.1,612.6ZM1055.3,639.2L1050.4,641.7L1050.2,637.2ZM1044,659.6L1046.2,664.6L1041.6,664.5ZM1034.1,670.9L1037.8,675L1033.4,676.4ZM1015.3,669.4L1020.7,668L1019.9,672.5ZM996.4,662.6L995.7,657.2L1000.1,658.5ZM993.4,618.5L994.5,623.8L990.1,622.9ZM1043.6,619.4L1041.5,614.4L1046.1,614.5ZM1069.7,673.3L1067.6,678.4L1064.5,675ZM1056.8,673.1L1056,678.6L1052.2,676.1ZM1056.7,604.6L1052.2,601.4L1056.2,599.1ZM1064.3,599.7L1059.1,597.9L1062.2,594.6ZM1079.2,604.2L1073.8,603.1L1076.5,599.4ZM1015.1,738.9L1019.7,735.9L1020.4,740.4ZM1021.3,560L1016.4,562.4L1016.2,557.8ZM1021.3,580.8L1016.4,583.2L1016.2,578.6ZM953.3,628L948.4,630.4L948.2,625.8ZM953.3,648.8L948.4,651.2L948.2,646.6ZM1021.3,628L1016.4,630.4L1016.2,625.8ZM1021.3,648.8L1016.4,651.2L1016.2,646.6ZM1089.3,628L1084.4,630.4L1084.2,625.8ZM1089.3,648.8L1084.4,651.2L1084.2,646.6ZM1021.3,693L1016.4,695.4L1016.2,690.8ZM1021.3,713.8L1016.4,716.2L1016.2,711.6Z" fill="#22b042"/>
</g>
<text x="905.1" y="566.4" font-size="37.00" fill="#fff" textLength="22.9" lengthAdjust="spacingAndGlyphs">2</text>
<clipPath id="cp02"><rect x="1147.8" y="526.8" width="227.4" height="221.2"/></clipPath>
<g clip-path="url(#cp02)">
<rect x="1147.8" y="526.8" width="227.4" height="221.2" fill="#1e0d0a"/>
<ellipse cx="1261.5" cy="617.4" rx="100" ry="50" fill="#5a0e08" filter="url(#b28)" opacity="0.9"/>
<ellipse cx="1261.5" cy="661.4" rx="100" ry="50" fill="#5a0e08" filter="url(#b28)" opacity="0.9"/>
<ellipse cx="1229.5" cy="557.4" rx="14" ry="12" fill="#e4140e" filter="url(#b12)" opacity="0.8"/>
<ellipse cx="1293.5" cy="557.4" rx="14" ry="12" fill="#e4140e" filter="url(#b12)" opacity="0.8"/>
<ellipse cx="1229.5" cy="718.4" rx="14" ry="12" fill="#e4140e" filter="url(#b12)" opacity="0.8"/>
<ellipse cx="1293.5" cy="718.4" rx="14" ry="12" fill="#e4140e" filter="url(#b12)" opacity="0.8"/>
<path d="M1218.5,616.4H1236.5Q1230.5,639.4 1236.5,662.4H1218.5Q1224.5,639.4 1218.5,616.4Z" fill="#e4140e" filter="url(#b6)"/>
<path d="M1286.5,616.4H1304.5Q1298.5,639.4 1304.5,662.4H1286.5Q1292.5,639.4 1286.5,616.4Z" fill="#e4140e" filter="url(#b6)"/>
<path d="M1223,626.4H1232Q1229.5,639.4 1232,652.4H1223Q1225.5,639.4 1223,626.4Z" fill="#f8a018" filter="url(#b4)"/>
<path d="M1291,626.4H1300Q1297.5,639.4 1300,652.4H1291Q1293.5,639.4 1291,626.4Z" fill="#f8a018" filter="url(#b4)"/>
<ellipse cx="1227.5" cy="639.4" rx="3" ry="6" fill="#f6e41a" filter="url(#b3)"/>
<ellipse cx="1295.5" cy="639.4" rx="3" ry="6" fill="#f6e41a" filter="url(#b3)"/>
<ellipse cx="1161.5" cy="639.4" rx="4" ry="28" fill="#8a1a10" filter="url(#b8)" opacity="0.8"/>
<ellipse cx="1361.5" cy="639.4" rx="4" ry="28" fill="#8a1a10" filter="url(#b8)" opacity="0.8"/>
<circle cx="1261.5" cy="571.4" r="27.5" fill="#1e0d0a" filter="url(#b2)"/>
<circle cx="1193.5" cy="639.4" r="27.5" fill="#1e0d0a" filter="url(#b2)"/>
<circle cx="1261.5" cy="639.4" r="27.5" fill="#1e0d0a" filter="url(#b2)"/>
<circle cx="1329.5" cy="639.4" r="27.5" fill="#1e0d0a" filter="url(#b2)"/>
<circle cx="1261.5" cy="704.4" r="27.5" fill="#1e0d0a" filter="url(#b2)"/>
<g fill="none" stroke="#1c7c31" stroke-width="2.1"><circle cx="1261.5" cy="571.4" r="27.5"/><circle cx="1193.5" cy="639.4" r="27.5"/><circle cx="1261.5" cy="639.4" r="27.5"/><circle cx="1329.5" cy="639.4" r="27.5"/><circle cx="1261.5" cy="704.4" r="27.5"/></g>
<path d="M1146.3,530.6 1169.2,532.4 1186.2,532.2 1202.1,530.3 1222.6,525.6M1146.3,540.5 1173.1,543.6 1192.1,543.1 1208.7,539.7 1242,528.8 1251.8,526.9 1261.8,526.3 1270.8,526.9 1280.6,528.7 1314.8,539.8 1330.4,543.1 1349.4,543.6 1376.2,540.6M1146.3,550.4 1176.9,555.8 1185.8,556.4 1194.8,555.6 1202.6,553.9 1210.1,551.2 1233.4,539.6 1242.6,535.7 1252.3,533.2 1261.2,532.4 1271.2,533.3 1280.8,535.9 1289.1,539.3 1312.4,551 1320.8,554 1328.6,555.7 1337.6,556.4 1346.6,555.8 1377.1,550.3M1146.4,560.3 1183.6,571.7 1189.6,572.7 1195.5,572.3 1204,569.5 1213.7,564.3 1221.1,559.1 1234.9,547.5 1242.5,542.7 1251.8,539.2 1261.7,537.9 1271.6,539.2 1280.9,542.9 1288.4,547.8 1308.8,563.9 1318.4,569.2 1326.9,572.2 1332.8,572.7 1339.7,571.7 1377,560.2M1146.4,570.1 1156.6,574.2 1165.5,578.9 1171.8,583.7 1175.7,588.3 1177.4,591.9 1178.3,596.8 1177,617.5M1146.5,580 1158.7,586.8 1166.5,594.5 1170.9,603.4 1174.7,619.9M1146.5,589.8 1155,595.2 1161.5,601.4 1166.5,608.9 1172.4,621.6 1173.3,621.7M1146.5,609.8 1155.9,615.7 1168.8,626.7 1169.7,626.9M1146.4,620 1167.9,630.7M1146.3,630.4 1166.8,635.1M1146.3,640.9 1166.3,640.1M1146.4,651.3 1167.4,645.1M1146.5,661.6 1156.3,656.6 1168.1,649.3M1146.6,671.8 1157.3,664.5 1169.5,652.8M1146.6,681.8 1154,676.8 1159.9,671.4 1171.5,655.2M1146.5,691.7 1155.9,685.9 1162.3,679.7 1167.2,672.1 1172.1,660.1M1146.5,701.6 1159.7,694.6 1164.4,690.8 1168.3,686.3 1170.8,682 1172.4,677.3 1175.3,659.7M1146.4,711.4 1158.6,707 1168.5,702.1 1175.9,697.1 1180.5,691.9 1182,688.2 1182.2,684.2 1178.5,668.6 1177.8,661.9M1146.4,721.3 1180.3,712.7 1187.2,711.9 1194.2,712.3 1201,714.1 1209.2,717.7 1233,732.5 1241.9,737 1251.4,740.1 1261.3,741.2 1271.2,740.1 1281.7,736.8 1290.6,732.2 1313.5,717.9 1321.7,714.2 1328.4,712.4 1335.4,711.9 1343.3,712.8 1376.3,721.2M1146.3,731.1 1175,726.8 1184,726.4 1192.9,727 1208.4,730.9 1241.9,744.1 1251.7,746.3 1261.6,747 1271.6,746.2 1281.3,744 1314.8,730.8 1330.3,727 1339.3,726.4 1348.3,726.8 1376.9,731.2M1146.3,741 1172.2,738.5 1190.2,738.9 1206.9,741.8 1232.9,749.2M1300.4,525.6 1320.9,530.3 1336.8,532.2 1353.8,532.4 1376.7,530.6M1346,617.5 1344.7,596.8 1345.6,591.9 1347.3,588.3 1351.2,583.7 1357.5,578.9 1366.4,574.2 1376.6,570.1M1349.5,615.1 1352.4,602.5 1357.1,593.7 1365.2,586.2 1376.5,580M1349.7,621.7 1350.6,621.6 1356.5,608.9 1361.5,601.4 1368,595.2 1376.5,589.8M1353.2,622.8 1364.5,608.8 1369.8,604.2 1376.4,599.8M1353.3,626.9 1354.2,626.7 1367.1,615.7 1376.5,609.8M1355.1,630.7 1376.6,620M1356.2,635.1 1376.7,630.4M1356.7,640.1 1376.7,640.9M1355.6,645.1 1376.6,651.3M1354.9,649.3 1366.7,656.6 1376.5,661.6M1354.2,653.4 1365.7,664.5 1376.4,671.8M1351.5,655.2 1363.1,671.4 1369,676.8 1376.4,681.8M1350.9,660.1 1355.8,672.1 1360.7,679.7 1367.1,685.9 1376.5,691.7M1347.7,659.7 1350.6,677.3 1352.2,682 1354.7,686.3 1358.6,690.8 1363.3,694.6 1376.5,701.6M1345.2,661.9 1344.5,668.6 1340.8,684.2 1341,688.2 1342.5,691.9 1347.1,697.1 1354.5,702.1 1364.4,707 1376.6,711.4M1290.1,749.2 1316.1,741.8 1332.8,738.9 1350.8,738.5 1376.7,741M1145.8,748.2 1164.8,746.6 1178.8,746.3 1191.7,747 1205.6,749.1M1314,749.2 1328.7,746.7 1342.7,745.7 1357.7,746 1376.6,747.5M1209.1,617.5 1209.9,617.3 1209.9,616.3 1209,596.4 1210.2,591.5 1212,588 1217.4,582.1 1230.2,572.5 1232.3,569.1 1236.8,558 1242.3,550.9 1247,547.3 1251.5,545.1 1261.3,543.3 1271.1,545 1275.6,547.1 1280.5,550.7 1286.1,557.7 1292.6,572.2 1305.3,581.9 1310.8,587.7 1313.1,592.1 1314.1,597 1313.1,615 1313.5,617.5M1283,588.5 1284.1,587.7 1286.2,584 1289.7,583.1 1295.6,584 1301.6,587.4 1305.9,591.6 1309,596.8 1310.6,602.5 1311.3,609.5M1214.6,623 1215.5,622.9 1220.5,614.2 1224.7,608.6 1229.2,604.6 1234.4,601.7 1239.2,600.3 1245.2,599.6 1274.2,599.6 1285.1,600.6 1293.3,604.2 1300.4,611.2 1307.7,623M1212.7,620.3 1218.6,604.7 1221.3,600.6 1224.9,597.1 1229.2,594.5 1234,593.1 1239.9,593 1246.2,594.2M1212.6,601.6 1214.4,595.9 1217.1,591.6 1220.6,588.1 1225.6,584.8 1230.3,583.2 1235.3,583.4 1236.8,584 1238.9,587.7 1240,588.5M1220,639.4 1234,638.9M1218.3,649.2 1220.1,649.9 1235.2,661.3 1242.2,665.3 1251.7,668.3 1261.6,669.2 1271.6,668.2 1281.1,665.2 1288.8,660.6 1304,649.3M1213.1,658 1214,658.2 1220.3,672.9 1226.2,679.6 1230.5,682.1 1235.3,683.5 1241.2,683.5 1245.1,682.3M1206.3,663.4 1206.6,663.9 1204.7,668.5 1201.3,673.3 1197.2,676.3 1193.4,677.2 1189.5,676.3 1186.2,674 1183.1,670.2 1180.5,664.8M1201.1,665.5 1201.9,665.6 1201.5,666.2 1198.3,668.6 1193.5,669.9 1188.7,668.7 1185.5,666.3 1184.8,665.6 1185.5,665.5M1201.8,613.2 1198.3,610.2 1193.5,608.9 1188.7,610.1 1185.5,612.5 1184.8,613.2 1185.5,613.3M1218.3,629.6 1220.1,628.9 1235.1,617.4 1242,613.3 1251.5,610.1 1261.4,609.1 1271.4,610.1 1280.8,613.2 1287.7,617.3 1302.8,628.8 1304.6,629.5M1289,639 1303,639.4M1219.7,633.8 1225.4,631.9 1232.5,628.3 1239,623.6 1240.5,621.1 1244.7,617.3 1252.6,613.2M1270.4,613.2 1278.3,617.3 1282.5,621.1 1284,623.6 1290.5,628.3 1297.6,631.9 1303.3,633.8M1337.5,665.5 1338.2,665.6 1337.5,666.3 1334.3,668.7 1329.5,669.9 1324.7,668.6 1321.5,666.2 1321.1,665.6 1321.9,665.5M1277.9,682.3 1281.8,683.5 1287.7,683.5 1292.5,682.1 1296.8,679.6 1302.7,672.9 1309,658.2 1309.9,658M1337.5,613.3 1338.2,613.2 1337.5,612.5 1334.3,610.1 1329.5,608.9 1324.7,610.2 1321.2,613.2M1210.7,660.7 1211.7,679.5 1213.4,685.2 1215.9,689.6 1219.8,694.1 1230.3,703.4 1236.8,717.9 1242.3,725 1247.1,728.6 1251.6,730.7 1261.4,732.5 1271.2,730.8 1275.7,728.7 1280.5,725.2 1286.1,718.2 1292.6,703.6 1303,694.3 1307,689.8 1309.5,685.5 1311,680.7 1312.2,660.8 1313,660.6M1213.2,667.4 1216.1,679 1221.1,686.5 1225,689.6 1229.4,691.9 1233.3,692.7 1236.9,692.1M1215.6,654.5 1216.5,654.6 1225.5,666.6 1232.5,672.2 1240.9,675.4 1251.8,676.2 1276.8,676.1 1286.6,674.1 1291.1,671.9 1295.8,668.2 1300.5,663 1306.3,654.9 1307.2,654.7M1286.1,692.1 1289.7,692.7 1293.6,691.9 1298,689.6 1301.9,686.5 1306.9,679 1309.8,667.4M1278.7,550.6 1270.1,551.2 1261.5,551.4 1252.9,551.2 1244.3,550.6M1286.2,561 1273.8,562.3 1261.5,562.9 1249.2,562.3 1236.8,561M1288.2,571.4 1274.8,573.5 1261.5,574.4 1248.2,573.5 1234.8,571.4M1286.2,581.8 1273.8,583.1 1261.5,583.6 1249.2,583.1 1236.8,581.8M1278.7,592.2 1270.1,592.7 1261.5,592.9 1252.9,592.7 1244.3,592.2M1176.3,618.6 1184.9,618.4 1193.5,618.3 1202.1,618.4 1210.7,618.6M1168.8,629 1181.2,628.4 1193.5,628.1 1205.8,628.4 1218.2,629M1166.8,639.4 1180.2,638.3 1193.5,637.9 1206.8,638.3 1220.2,639.4M1168.8,649.8 1181.2,649.1 1193.5,648.8 1205.8,649.1 1218.2,649.8M1176.3,660.2 1184.9,659.9 1193.5,659.8 1202.1,659.9 1210.7,660.2M1278.7,618.6 1270.1,619.2 1261.5,619.4 1252.9,619.2 1244.3,618.6M1286.2,629 1273.8,630.3 1261.5,630.9 1249.2,630.3 1236.8,629M1288.2,639.4 1274.8,641.5 1261.5,642.4 1248.2,641.5 1234.8,639.4M1286.2,649.8 1273.8,651.1 1261.5,651.6 1249.2,651.1 1236.8,649.8M1278.7,660.2 1270.1,660.7 1261.5,660.9 1252.9,660.7 1244.3,660.2M1312.3,618.6 1320.9,618.4 1329.5,618.3 1338.1,618.4 1346.7,618.6M1304.8,629 1317.2,628.4 1329.5,628.1 1341.8,628.4 1354.2,629M1302.8,639.4 1316.2,638.3 1329.5,637.9 1342.8,638.3 1356.2,639.4M1304.8,649.8 1317.2,649.1 1329.5,648.8 1341.8,649.1 1354.2,649.8M1312.3,660.2 1320.9,659.9 1329.5,659.8 1338.1,659.9 1346.7,660.2M1278.7,683.6 1270.1,684.2 1261.5,684.4 1252.9,684.2 1244.3,683.6M1286.2,694 1273.8,695.3 1261.5,695.9 1249.2,695.3 1236.8,694M1288.2,704.4 1274.8,706.5 1261.5,707.4 1248.2,706.5 1234.8,704.4M1286.2,714.8 1273.8,716.1 1261.5,716.6 1249.2,716.1 1236.8,714.8M1278.7,725.2 1270.1,725.7 1261.5,725.9 1252.9,725.7 1244.3,725.2" fill="none" stroke="#1c7c31" stroke-width="2.1" stroke-linejoin="round"/>
<path d="M1187.7,532.2L1182.8,534.5L1182.7,529.9ZM1207.5,539.9L1203.1,543.2L1202.2,538.7ZM1320.9,541.1L1315.5,542.3L1316.5,537.8ZM1208.5,551.8L1204.5,555.6L1203,551.3ZM1320.6,553.9L1315.1,554.4L1316.7,550.1ZM1209.7,566.4L1206.4,570.8L1204.2,566.8ZM1318.8,569.5L1313.3,569.1L1315.6,565ZM1175.9,588.6L1171,586.3L1174.5,583.3ZM1168.2,598.1L1163.9,594.6L1168,592.6ZM1164.5,606L1159.8,603.1L1163.6,600.5ZM1160.8,619.9L1155.5,618.4L1158.5,614.9ZM1159.9,626.7L1154.4,626.5L1156.4,622.4ZM1159.5,633.4L1154.1,634.6L1155.1,630.1ZM1159.3,640.4L1154.4,642.9L1154.2,638.3ZM1159.8,647.4L1155.6,651L1154.3,646.6ZM1160.1,654.3L1157.1,658.9L1154.6,655ZM1160.9,661L1158.9,666.2L1155.7,662.8ZM1162.5,667.7L1161.5,673.1L1157.7,670.5ZM1164.5,676.3L1163.7,681.8L1159.9,679.3ZM1170,683.4L1169.6,688.8L1165.6,686.6ZM1179.5,693.1L1177.9,698.3L1174.4,695.2ZM1208.8,717.5L1203.3,717.6L1205.1,713.4ZM1319.4,715.2L1315.8,719.4L1313.9,715.1ZM1208,730.8L1202.6,731.8L1203.7,727.3ZM1321.1,729.2L1316.8,732.7L1315.7,728.2ZM1193.1,739.4L1187.8,740.8L1188.6,736.3ZM1341.3,532.2L1336.2,534.5L1336.3,529.9ZM1350.9,584L1349.5,589.3L1345.9,586.4ZM1359.7,591.3L1357.6,596.4L1354.5,593.1ZM1361.9,601L1361,606.4L1357.1,603.8ZM1365.4,607.6L1364.1,612.9L1360.5,610.1ZM1366.8,616L1364.5,621L1361.5,617.5ZM1368.5,624L1365.1,628.3L1363,624.2ZM1369.4,632.1L1365,635.5L1364,631ZM1369.7,640.6L1364.6,642.7L1364.8,638.1ZM1369,649L1363.5,649.8L1364.8,645.4ZM1368,657.4L1362.5,656.7L1365,652.8ZM1366.8,665.5L1361.6,663.7L1364.8,660.4ZM1364,672.6L1359.2,669.9L1363,667.2ZM1361.8,681.4L1357.1,678.4L1361,675.9ZM1355.9,688.6L1351.5,685.4L1355.5,683.1ZM1347.5,697.5L1342.5,695.3L1345.9,692.3ZM1335.8,738.4L1331.3,741.5L1330.5,737ZM1178.8,746.3L1173.8,748.7L1173.7,744.1ZM1348.2,745.8L1343.2,748L1343.2,743.4ZM1228.9,573.4L1226.4,578.3L1223.6,574.6ZM1298.3,576.6L1293,575.4L1295.8,571.7ZM1304.8,590.5L1299.6,588.7L1302.8,585.4ZM1264.1,599.6L1259.1,601.9L1259.1,597.3ZM1225.5,596.5L1223.5,601.6L1220.3,598.4ZM1226.1,584.5L1223.2,589.1L1220.7,585.3ZM1230,639L1225.1,641.5L1224.9,636.9ZM1264.2,669.4L1259,671.2L1259.4,666.6ZM1226.2,679.7L1221.2,677.4L1224.7,674.4ZM1191.2,677.7L1195.6,674.3L1196.6,678.8ZM1190.5,669.2L1195.9,668.1L1194.8,672.6ZM1190.1,609.7L1194.4,606.3L1195.5,610.8ZM1264.4,608.9L1259.7,611.6L1259.2,607.1ZM1299,639.3L1293.9,641.5L1294.1,636.9ZM1239.6,623.2L1236.9,627.9L1234.2,624.2ZM1288.3,626.7L1282.9,625.6L1285.6,621.9ZM1326.7,670.6L1331,667.2L1332.1,671.6ZM1300.7,675.1L1299.1,680.4L1295.7,677.4ZM1327.1,608.3L1332.5,607.3L1331.4,611.7ZM1231.2,704.2L1226,702.6L1229,699.2ZM1296.8,699.8L1294.6,704.8L1291.6,701.4ZM1221.9,687.6L1217.2,684.7L1221,682.2ZM1264.3,676.2L1259.4,678.5L1259.3,673.9ZM1304.5,682.6L1303.6,688L1299.8,685.5ZM1258.5,563L1263.4,560.5L1263.6,565.1ZM1258.5,583.8L1263.4,581.3L1263.6,585.9ZM1196.5,628L1191.6,630.4L1191.4,625.8ZM1196.5,648.8L1191.6,651.2L1191.4,646.6ZM1258.5,631L1263.4,628.5L1263.6,633.1ZM1258.5,651.8L1263.4,649.3L1263.6,653.9ZM1332.5,628L1327.6,630.4L1327.4,625.8ZM1332.5,648.8L1327.6,651.2L1327.4,646.6ZM1258.5,696L1263.4,693.5L1263.6,698.1ZM1258.5,716.8L1263.4,714.3L1263.6,718.9Z" fill="#22b042"/>
</g>
<text x="1149.1" y="566.4" font-size="37.00" fill="#fff" textLength="21.1" lengthAdjust="spacingAndGlyphs">3</text>
<clipPath id="cp03"><rect x="1397.5" y="526.8" width="221.7" height="221.2"/></clipPath>
<g clip-path="url(#cp03)">
<rect x="1397.5" y="526.8" width="221.7" height="221.2" fill="#1e0d0a"/>
<ellipse cx="1508.3" cy="637.4" rx="110" ry="110" fill="#a01810" filter="url(#b32)"/>
<ellipse cx="1508.3" cy="637.4" rx="70" ry="112" fill="#e4140e" filter="url(#b24)"/>
<ellipse cx="1508.3" cy="639.4" rx="112" ry="56" fill="#e4140e" filter="url(#b20)"/>
<ellipse cx="1480.3" cy="567.4" rx="9" ry="22" fill="#f6e41a" filter="url(#b10)" opacity="0.9"/>
<ellipse cx="1536.3" cy="567.4" rx="9" ry="22" fill="#f6e41a" filter="url(#b10)" opacity="0.9"/>
<ellipse cx="1486.3" cy="597.4" rx="8" ry="8" fill="#f6e41a" filter="url(#b8)" opacity="0.8"/>
<ellipse cx="1530.3" cy="597.4" rx="8" ry="8" fill="#f6e41a" filter="url(#b8)" opacity="0.8"/>
<ellipse cx="1508.3" cy="535.4" rx="7" ry="10" fill="#1e0d0a" filter="url(#b6)"/>
<ellipse cx="1480.3" cy="708.4" rx="9" ry="22" fill="#f6e41a" filter="url(#b10)" opacity="0.9"/>
<ellipse cx="1536.3" cy="708.4" rx="9" ry="22" fill="#f6e41a" filter="url(#b10)" opacity="0.9"/>
<ellipse cx="1486.3" cy="678.4" rx="8" ry="8" fill="#f6e41a" filter="url(#b8)" opacity="0.8"/>
<ellipse cx="1530.3" cy="678.4" rx="8" ry="8" fill="#f6e41a" filter="url(#b8)" opacity="0.8"/>
<ellipse cx="1508.3" cy="740.4" rx="7" ry="10" fill="#1e0d0a" filter="url(#b6)"/>
<path d="M1466.3,619.4H1482.3Q1477.3,639.4 1482.3,659.4H1466.3Q1471.3,639.4 1466.3,619.4Z" fill="#f6e41a" filter="url(#b6)"/>
<path d="M1534.3,619.4H1550.3Q1545.3,639.4 1550.3,659.4H1534.3Q1539.3,639.4 1534.3,619.4Z" fill="#f6e41a" filter="url(#b6)"/>
<path d="M1470.3,626.4H1478.3Q1475.8,639.4 1478.3,652.4H1470.3Q1472.8,639.4 1470.3,626.4Z" fill="#fffbe8" filter="url(#b4)"/>
<path d="M1538.3,626.4H1546.3Q1543.8,639.4 1546.3,652.4H1538.3Q1540.8,639.4 1538.3,626.4Z" fill="#fffbe8" filter="url(#b4)"/>
<ellipse cx="1404.3" cy="537.4" rx="34" ry="36" fill="#1e0d0a" filter="url(#b20)"/>
<ellipse cx="1446.3" cy="599.4" rx="10" ry="10" fill="#3a0a08" filter="url(#b10)" opacity="0.9"/>
<ellipse cx="1404.3" cy="737.4" rx="34" ry="36" fill="#1e0d0a" filter="url(#b20)"/>
<ellipse cx="1446.3" cy="675.4" rx="10" ry="10" fill="#3a0a08" filter="url(#b10)" opacity="0.9"/>
<ellipse cx="1612.3" cy="537.4" rx="34" ry="36" fill="#1e0d0a" filter="url(#b20)"/>
<ellipse cx="1570.3" cy="599.4" rx="10" ry="10" fill="#3a0a08" filter="url(#b10)" opacity="0.9"/>
<ellipse cx="1612.3" cy="737.4" rx="34" ry="36" fill="#1e0d0a" filter="url(#b20)"/>
<ellipse cx="1570.3" cy="675.4" rx="10" ry="10" fill="#3a0a08" filter="url(#b10)" opacity="0.9"/>
<circle cx="1508.3" cy="571.4" r="27.5" fill="#5a0c08" filter="url(#b2)"/>
<circle cx="1440.3" cy="639.4" r="27.5" fill="#240c08" filter="url(#b2)"/>
<circle cx="1508.3" cy="639.4" r="27.5" fill="#b01410" filter="url(#b2)"/>
<circle cx="1576.3" cy="639.4" r="27.5" fill="#240c08" filter="url(#b2)"/>
<circle cx="1508.3" cy="704.4" r="27.5" fill="#5a0c08" filter="url(#b2)"/>
<g fill="none" stroke="#1c7c31" stroke-width="2.1"><circle cx="1508.3" cy="571.4" r="27.5"/><circle cx="1440.3" cy="639.4" r="27.5"/><circle cx="1508.3" cy="639.4" r="27.5"/><circle cx="1576.3" cy="639.4" r="27.5"/><circle cx="1508.3" cy="704.4" r="27.5"/></g>
<path d="M1396,530.8 1421,529.6 1440.5,525.6M1396,540.7 1417,540.8 1432.9,538.9 1446.2,534.6 1464.1,525.7M1396,550.6 1423.9,552.3 1432.9,551.7 1440.7,550 1450.7,545.3 1469.1,531.5 1478.4,525.8M1396,560.5 1438.4,567.9 1446.3,568.6 1452.3,568 1456.3,565.1 1464.1,548.9 1471.3,539.3 1481.2,531 1492,525.8M1396.1,570.3 1408.6,573.8 1419.8,578.1 1428.4,583.1 1434.5,588.3 1439.2,594.7 1441.3,601.3 1440.6,605.2 1435.7,612.5M1396.1,580.2 1410.9,586.3 1416.7,590.1 1421.2,594 1424.9,598.8 1427.1,603.3 1428.2,608.1 1428.5,615M1396.1,590.1 1406.9,595.3 1414.8,601.4 1420.2,608.6 1424.1,617.7M1396.2,600 1403.3,603.6 1409.9,608.2 1415.5,613.8 1420.2,620.3 1421.1,620.4M1396.2,610 1407.6,616.1 1417.7,624.3M1396.1,620.2 1405.4,623.8 1415.2,628.7M1396,630.5 1413.6,634.2M1396,640.9 1413,640.3M1396,651.2 1414.4,646.3M1396.1,661.5 1405.3,657.6 1416.6,651.3M1396.2,671.6 1407.5,665.3 1418.7,655.6M1396.2,681.6 1404.2,677.6 1411.4,672.2 1416.2,667.1 1421.8,659.1M1396.1,691.5 1407,686.5 1415.8,680 1421.3,672.8 1425.5,662M1396.1,701.4 1412.9,694.9 1418.9,691.3 1424.2,686.8 1427.8,682 1429.8,677.5 1430.6,672.5 1430.1,664.7M1396,711.2 1417.3,705.7 1433.1,699.3 1442,693 1453.2,680.3 1474.1,670.7 1491.1,660.3M1396,721.1 1427.8,717.4 1436.8,717.5 1443.6,718.8 1451.6,723 1470.3,741 1482.8,749.2M1396,730.9 1421,730.1 1436.8,732.2 1448.9,736.9 1469.5,749.2M1396,740.8 1413,740.9 1426.9,742.2 1438.6,744.8 1450.9,749.2M1576.2,525.6 1595.7,529.6 1620.7,530.8M1552.6,525.7 1570.5,534.6 1583.8,538.9 1599.7,540.8 1620.7,540.7M1538.3,525.8 1547.6,531.5 1566,545.3 1576,550 1583.8,551.7 1592.8,552.3 1620.7,550.6M1524.7,525.8 1535.5,531 1545.4,539.3 1552.6,548.9 1560.4,565.1 1564.4,568 1570.4,568.6 1578.3,567.9 1620.7,560.5M1581,612.5 1576.1,605.2 1575.4,601.3 1577.5,594.7 1582.2,588.3 1588.3,583.1 1596.9,578.1 1608.1,573.8 1620.6,570.3M1588.2,615 1588.5,608.1 1589.6,603.3 1591.8,598.8 1595.5,594 1600,590.1 1605.8,586.3 1620.6,580.2M1592.6,617.7 1596.5,608.6 1601.9,601.4 1609.8,595.3 1620.6,590.1M1595.6,620.4 1596.5,620.3 1601.2,613.8 1606.8,608.2 1613.4,603.6 1620.5,600M1599,624.3 1609.1,616.1 1620.5,610M1601.5,628.7 1611.3,623.8 1620.6,620.2M1603.1,634.2 1620.7,630.5M1603.7,640.3 1620.7,640.9M1602.3,646.3 1620.7,651.2M1600.1,651.3 1611.4,657.6 1620.6,661.5M1598,655.6 1609.2,665.3 1620.5,671.6M1594.9,659.1 1600.5,667.1 1605.3,672.2 1612.5,677.6 1620.5,681.6M1591.2,662 1595.4,672.8 1600.9,680 1609.7,686.5 1620.6,691.5M1586.6,664.7 1586.1,672.5 1586.9,677.5 1588.9,682 1592.5,686.8 1597.8,691.3 1603.8,694.9 1620.6,701.4M1525.6,660.3 1542.6,670.7 1563.5,680.3 1574.7,693 1583.6,699.3 1599.4,705.7 1620.7,711.2M1533.9,749.2 1546.4,741 1565.1,723 1573.1,718.8 1579.9,717.5 1588.9,717.4 1620.7,721.1M1547.2,749.2 1567.8,736.9 1579.9,732.2 1595.7,730.1 1620.7,730.9M1565.8,749.2 1578.1,744.8 1589.8,742.2 1603.7,740.9 1620.7,740.8M1494.7,529.2 1501.5,527.5 1509.5,526.9 1516.4,527.7 1523.2,529.6M1395.5,747.4 1411.5,747.8 1424.4,749.1M1481.4,706.2 1473.8,708.7 1469.5,712.8 1468.1,718.6 1469.3,725.4 1473.6,733.3 1479.7,739.9 1487.9,745.5 1497.3,749M1498.6,746.7 1509.5,747.9 1519.3,746.4 1528.5,742.5 1536.3,736.2 1541.8,727.9 1543.3,720.2 1542.6,716.2 1541.3,713.6 1538.6,710.6 1535.2,708.6M1583.6,749.1 1600.5,746.6 1620.4,746M1556.2,567.3 1554.6,569.7 1551.8,570.7 1534.9,571.4M1514.7,612.6 1527.2,604.5 1531.6,600.4 1534.6,596.4 1536.7,591.9 1537.4,588 1536.5,583.1 1534.5,579.8M1493.1,594.2 1495.6,596.9 1499.7,599.7 1504.4,601.4 1508.3,601.9 1512.3,601.4 1517,599.7 1521.1,596.9 1523.6,594.2M1485.6,586.3 1485.6,589.2 1486.8,593 1488.8,596.4 1492.2,600.1 1500.5,605.5 1508.3,607.3 1516,605.6 1524.4,600.2 1527.8,596.5 1529.8,593.1 1531.1,589.3 1531.1,586.5M1482.2,579.8 1480.2,583.1 1479.3,588 1480,591.9 1482.1,596.4 1485.1,600.4 1489.5,604.5 1502,612.6M1481.8,571.4 1468.9,571.1 1463,570.2 1460.8,568.2 1460.4,563.3M1482.3,563 1479.8,558.8 1479.3,552.9 1481,547.1 1484.3,542.1 1488.7,538 1494.7,534.5 1501.4,532.4 1508.3,531.6 1515.3,532.3 1521.9,534.5 1527.9,538 1532.3,542.1 1535.6,547.1 1537.4,552.8 1536.9,558.7 1534.5,563M1490.3,551.5 1489.5,551.3 1491.5,547.9 1496.7,543.2 1502.2,540.8 1508.1,540 1514,540.7 1519.6,542.9 1524.2,546.7 1527.1,551.6M1466.9,639.4 1481.8,639.3M1464.6,650.4 1473.5,651.3 1483.4,649.8M1458.5,659.2 1464.7,662 1470.7,662.5 1478.5,660.8 1487.6,656.8M1450.9,664.4 1451.7,664.6 1452.7,669.4 1454.9,671.5 1459.7,672.6 1465.6,671.9M1433.1,695.6 1437.6,691.8 1441.5,687.1 1444.8,681 1446.2,676.2 1445.1,673.5 1437,666.6M1450.7,614.3 1451.6,614.2 1452.4,610.3 1454.3,608 1458,606.6 1462.9,606.4 1468.8,607.5 1475.4,609.8 1483.6,613.7 1491.2,618.3M1458.5,619.6 1464.7,616.7 1470.6,616.1 1478.5,617.5 1487.7,621.4M1464.6,628.4 1473.5,627.4 1483.4,628.8M1534.9,639.4 1549.8,639.5M1532.6,650.3 1543.5,652 1552.4,651M1516.7,665.4 1527.1,673.1 1533.4,680.8 1534.9,684.5 1535.5,688.5 1534.5,693.3 1533.1,694.4M1487.5,686.9 1489.5,681.5 1494.8,675.6 1501.6,671.4 1508.3,669.9 1515.1,671.4 1521.9,675.6 1527.2,681.5 1529.2,686.9M1526.4,619.5 1539,613.6 1548.7,611.3 1555.6,612.1 1561.8,616.6M1532.6,628.5 1542.5,627 1551.4,628M1579.7,666.6 1571.6,673.5 1570.6,675.2 1571.9,681 1576.4,688.8M1553,672.3 1558,672.5 1561.8,671.5 1564,669.4 1565,664.6 1565.8,664.4M1529.1,656.8 1538.2,660.8 1546,662.5 1552,662 1558.2,659.2M1486.4,720 1485.5,720.2 1485.6,721.2 1486.8,726 1488.8,729.5 1492.2,733.1 1500,737.5 1508.9,738.8 1517.7,737.1 1524.5,733.1 1527.9,729.4 1529.9,726 1531.1,721.1 1531.2,720.1 1530.3,720M1482.3,712.8 1479.6,718 1479.4,723.9 1481.9,730.4 1487.1,736.5 1492.9,740.5 1500.3,743.3 1508.2,744.2 1516.2,743.3M1482.2,696 1480.2,692.7 1479.4,688.8 1479.8,684.9 1481.2,681.1 1487.4,673.3 1498.4,664.7M1525.6,550.6 1517,551.2 1508.3,551.4 1499.7,551.2 1491.1,550.6M1533,561 1520.7,562.3 1508.3,562.9 1496,562.3 1483.7,561M1535,571.4 1521.7,573.5 1508.3,574.4 1495,573.5 1481.6,571.4M1533,581.8 1520.7,583.1 1508.3,583.6 1496,583.1 1483.7,581.8M1525.6,592.2 1517,592.7 1508.3,592.9 1499.7,592.7 1491.1,592.2M1423.1,618.6 1431.7,618.4 1440.3,618.3 1449,618.4 1457.6,618.6M1415.7,629 1428,628.4 1440.3,628.1 1452.7,628.4 1465,629M1413.6,639.4 1427,638.3 1440.3,637.9 1453.7,638.3 1467,639.4M1415.7,649.8 1428,649.1 1440.3,648.8 1452.7,649.1 1465,649.8M1423.1,660.2 1431.7,659.9 1440.3,659.8 1449,659.9 1457.6,660.2M1491.1,618.6 1499.7,618.4 1508.3,618.3 1517,618.4 1525.6,618.6M1483.7,629 1496,628.4 1508.3,628.1 1520.7,628.4 1533,629M1481.6,639.4 1495,638.3 1508.3,637.9 1521.7,638.3 1535,639.4M1483.7,649.8 1496,649.1 1508.3,648.8 1520.7,649.1 1533,649.8M1491.1,660.2 1499.7,659.9 1508.3,659.8 1517,659.9 1525.6,660.2M1559.1,618.6 1567.7,618.4 1576.3,618.3 1585,618.4 1593.6,618.6M1551.7,629 1564,628.4 1576.3,628.1 1588.7,628.4 1601,629M1549.6,639.4 1563,638.3 1576.3,637.9 1589.7,638.3 1603,639.4M1551.7,649.8 1564,649.1 1576.3,648.8 1588.7,649.1 1601,649.8M1559.1,660.2 1567.7,659.9 1576.3,659.8 1585,659.9 1593.6,660.2M1525.6,683.6 1517,684.2 1508.3,684.4 1499.7,684.2 1491.1,683.6M1533,694 1520.7,695.3 1508.3,695.9 1496,695.3 1483.7,694M1535,704.4 1521.7,706.5 1508.3,707.4 1495,706.5 1481.6,704.4M1533,714.8 1520.7,716.1 1508.3,716.6 1496,716.1 1483.7,714.8M1525.6,725.2 1517,725.7 1508.3,725.9 1499.7,725.7 1491.1,725.2" fill="none" stroke="#1c7c31" stroke-width="2.1" stroke-linejoin="round"/>
<path d="M1421.4,529.5L1416.6,532.1L1416.3,527.5ZM1434.3,538.7L1429.7,541.6L1429.1,537ZM1443.7,549.4L1439.3,552.7L1438.3,548.2ZM1455.9,565.4L1453.2,570.2L1450.5,566.4ZM1430.9,585.2L1425.7,583.7L1428.7,580.2ZM1421.2,594L1415.9,592.4L1418.9,589ZM1415.9,602.3L1410.6,601.1L1413.4,597.4ZM1412.3,610.6L1407.2,608.7L1410.4,605.4ZM1410.2,617.5L1404.7,617.2L1406.9,613.1ZM1408.5,625.3L1403,625.1L1405.1,621ZM1407.8,632.9L1402.4,634.2L1403.4,629.7ZM1407.5,640.5L1402.6,642.9L1402.4,638.3ZM1408.1,648L1403.9,651.5L1402.7,647.1ZM1409.2,655.4L1405.9,659.8L1403.7,655.8ZM1410.5,662.8L1408.2,667.8L1405.2,664.3ZM1413.4,670.8L1410.7,675.6L1408,671.9ZM1417.3,678.9L1414.7,683.7L1411.9,680ZM1423.3,687.5L1421,692.5L1418,689ZM1447.3,687L1445.7,692.3L1442.3,689.3ZM1447.2,720.7L1441.7,720.4L1443.8,716.3ZM1437.8,732.4L1432.5,734L1433.2,729.4ZM1426.9,742.2L1421.7,744.1L1422.2,739.5ZM1601.2,529.8L1596.1,531.9L1596.4,527.3ZM1588.3,539.4L1583.1,541.1L1583.6,536.5ZM1578.9,550.6L1573.5,551.8L1574.5,547.3ZM1565.7,568.9L1560.3,567.8L1563,564.1ZM1590.3,581.3L1588,586.3L1585,582.8ZM1600,590L1597.8,595.1L1594.8,591.6ZM1605.5,598.6L1603,603.5L1600.2,599.9ZM1608.6,606.4L1606.7,611.5L1603.5,608.3ZM1611.7,614.7L1608.4,619.1L1606.3,615ZM1613.5,622.6L1610.1,626.9L1608,622.8ZM1614.8,631.7L1610.4,635L1609.4,630.5ZM1615.2,640.7L1610.1,642.8L1610.3,638.2ZM1614.4,649.6L1609,650.5L1610.2,646ZM1612.8,658.3L1607.3,657.9L1609.5,653.9ZM1610.7,666.7L1605.4,665.1L1608.5,661.7ZM1608.2,674.4L1602.8,673.3L1605.5,669.6ZM1604.2,682.5L1598.8,681.3L1601.6,677.6ZM1597.9,691.4L1592.6,689.9L1595.6,686.4ZM1573.4,691.6L1568.3,689.3L1571.8,686.3ZM1574.9,717.9L1571.5,722.2L1569.4,718.2ZM1584.8,731.6L1580.2,734.5L1579.6,730ZM1595.7,741.7L1591,744.4L1590.6,739.9ZM1512,526.7L1507.1,529.4L1506.8,524.8ZM1413,747.9L1407.9,750.1L1408.1,745.5ZM1473.4,733L1469,729.6L1473,727.5ZM1535.5,736.9L1533,741.8L1530.1,738.2ZM1605,746.5L1600,748.9L1599.9,744.3ZM1543.3,571.1L1548.2,568.5L1548.4,573.1ZM1534,597.3L1532.8,602.6L1529.1,599.8ZM1511.3,602.2L1506.1,604L1506.6,599.4ZM1511.2,608L1505.8,609.1L1506.8,604.6ZM1486.4,602L1481.5,599.5L1485.2,596.7ZM1465.5,570.6L1470.8,569.1L1470,573.7ZM1511.3,531.3L1506.6,534.1L1506.1,529.6ZM1511,539.5L1506.4,542.5L1505.7,538ZM1477.3,639.4L1472.4,641.7L1472.3,637.1ZM1477,650.8L1472.4,653.8L1471.7,649.3ZM1476.1,661.3L1471.7,664.6L1470.7,660.1ZM1458.8,672.4L1453.5,673.5L1454.5,669ZM1446.1,678.5L1445.7,684L1441.7,681.8ZM1472.7,608.8L1467.2,609.4L1468.8,605ZM1476.1,617.1L1470.8,618.5L1471.6,613.9ZM1477,627.9L1471.7,629.4L1472.3,624.9ZM1545.3,639.4L1540.3,641.7L1540.4,637.1ZM1545.4,652.3L1540.1,653.8L1540.8,649.2ZM1532.7,679.9L1527.7,677.5L1531.3,674.6ZM1511.3,670.6L1505.9,671.7L1506.9,667.2ZM1547.1,611.7L1542.8,615.1L1541.7,610.6ZM1545,626.7L1540.3,629.7L1539.7,625.1ZM1571.5,679.2L1568.1,674.9L1572.6,673.8ZM1564.6,670.7L1560.4,674.3L1559.2,669.8ZM1546.5,662.6L1541.1,663.7L1542.1,659.2ZM1511.4,739.2L1506.1,740.7L1506.8,736.2ZM1491.3,739.4L1485.9,738.5L1488.5,734.7ZM1485.6,675.6L1484.3,681L1480.7,678.1ZM1505.4,563L1510.2,560.5L1510.5,565.1ZM1505.4,583.8L1510.2,581.3L1510.5,585.9ZM1443.3,628L1438.4,630.4L1438.3,625.8ZM1443.3,648.8L1438.4,651.2L1438.3,646.6ZM1511.3,628L1506.4,630.4L1506.3,625.8ZM1511.3,648.8L1506.4,651.2L1506.3,646.6ZM1579.3,628L1574.4,630.4L1574.3,625.8ZM1579.3,648.8L1574.4,651.2L1574.3,646.6ZM1505.4,696L1510.2,693.5L1510.5,698.1ZM1505.4,716.8L1510.2,714.3L1510.5,718.9Z" fill="#22b042"/>
</g>
<text x="1394" y="566.4" font-size="37.00" fill="#fff" textLength="19.8" lengthAdjust="spacingAndGlyphs">4</text>
<clipPath id="cp04"><rect x="1635" y="526.8" width="227.5" height="221.2"/></clipPath>
<g clip-path="url(#cp04)">
<rect x="1635" y="526.8" width="227.5" height="221.2" fill="#1e0d0a"/>
<ellipse cx="1748.8" cy="639.4" rx="118" ry="56" fill="#e4140e" filter="url(#b20)"/>
<ellipse cx="1748.8" cy="639.4" rx="118" ry="36" fill="#e4140e" filter="url(#b12)"/>
<ellipse cx="1712.8" cy="585.4" rx="20" ry="18" fill="#e4140e" filter="url(#b14)"/>
<ellipse cx="1784.8" cy="585.4" rx="20" ry="18" fill="#e4140e" filter="url(#b14)"/>
<ellipse cx="1704.8" cy="561.4" rx="22" ry="30" fill="#8a1008" filter="url(#b18)" opacity="0.9"/>
<ellipse cx="1792.8" cy="561.4" rx="22" ry="30" fill="#8a1008" filter="url(#b18)" opacity="0.9"/>
<ellipse cx="1712.8" cy="690.4" rx="20" ry="18" fill="#e4140e" filter="url(#b14)"/>
<ellipse cx="1784.8" cy="690.4" rx="20" ry="18" fill="#e4140e" filter="url(#b14)"/>
<ellipse cx="1704.8" cy="714.4" rx="22" ry="30" fill="#8a1008" filter="url(#b18)" opacity="0.9"/>
<ellipse cx="1792.8" cy="714.4" rx="22" ry="30" fill="#8a1008" filter="url(#b18)" opacity="0.9"/>
<ellipse cx="1640.8" cy="639.4" rx="12" ry="34" fill="#f27812" filter="url(#b12)" opacity="0.9"/>
<ellipse cx="1856.8" cy="639.4" rx="12" ry="34" fill="#f27812" filter="url(#b12)" opacity="0.9"/>
<path d="M1704.8,613.4H1724.8Q1718.8,639.4 1724.8,665.4H1704.8Q1710.8,639.4 1704.8,613.4Z" fill="#f6e41a" filter="url(#b6)"/>
<path d="M1772.8,613.4H1792.8Q1786.8,639.4 1792.8,665.4H1772.8Q1778.8,639.4 1772.8,613.4Z" fill="#f6e41a" filter="url(#b6)"/>
<path d="M1709.8,621.4H1719.8Q1716.8,639.4 1719.8,657.4H1709.8Q1712.8,639.4 1709.8,621.4Z" fill="#fffbe8" filter="url(#b4)"/>
<path d="M1777.8,621.4H1787.8Q1784.8,639.4 1787.8,657.4H1777.8Q1780.8,639.4 1777.8,621.4Z" fill="#fffbe8" filter="url(#b4)"/>
<ellipse cx="1708.8" cy="615.4" rx="10" ry="8" fill="#f27812" filter="url(#b8)"/>
<ellipse cx="1788.8" cy="615.4" rx="10" ry="8" fill="#f27812" filter="url(#b8)"/>
<ellipse cx="1708.8" cy="663.4" rx="10" ry="8" fill="#f27812" filter="url(#b8)"/>
<ellipse cx="1788.8" cy="663.4" rx="10" ry="8" fill="#f27812" filter="url(#b8)"/>
<circle cx="1748.8" cy="571.4" r="27.5" fill="#1e0d0a" filter="url(#b2)"/>
<circle cx="1680.8" cy="639.4" r="27.5" fill="#1e0d0a" filter="url(#b2)"/>
<circle cx="1748.8" cy="639.4" r="27.5" fill="#5c0e0a" filter="url(#b2)"/>
<circle cx="1816.8" cy="639.4" r="27.5" fill="#1e0d0a" filter="url(#b2)"/>
<circle cx="1748.8" cy="704.4" r="27.5" fill="#1e0d0a" filter="url(#b2)"/>
<g fill="none" stroke="#1c7c31" stroke-width="2.1"><circle cx="1748.8" cy="571.4" r="27.5"/><circle cx="1680.8" cy="639.4" r="27.5"/><circle cx="1748.8" cy="639.4" r="27.5"/><circle cx="1816.8" cy="639.4" r="27.5"/><circle cx="1748.8" cy="704.4" r="27.5"/></g>
<path d="M1633.5,530.6 1654.4,532.6 1668.4,532.5 1680.2,530.4 1693.3,525.5M1633.5,540.4 1663.1,545.4 1671.1,545.8 1678.1,545.1 1683.8,543.4 1689.2,540.7 1711.4,525.4M1633.6,550.3 1650.8,555.5 1665.7,561.4 1675.2,566.8 1680,571.9 1681.8,578.6 1681.1,587.5 1678.3,595 1670.4,610 1669,613.7 1668.9,614.5 1669.7,614.7M1633.6,560.1 1644.7,564.7 1653.4,569.7 1659.5,574.8 1664.3,581.2 1666.6,586.7 1667.8,593.6 1666,616.3M1633.7,569.9 1640.8,573.6 1647.4,578.2 1652.5,583 1656.1,587.7 1658.9,593 1660.8,598.7 1663.4,617.5 1663.9,618M1633.8,579.8 1642.9,586 1650.5,593.9 1655.9,603.4 1660.2,615.7M1633.8,599.7 1645.5,609.1 1658.4,624.1M1633.8,609.8 1644.6,617 1656,626.7M1633.7,620 1655.1,630.7M1633.5,630.4 1654,635.1M1633.5,640.9 1653.5,640.1M1633.6,651.3 1654.6,645.1M1633.7,661.7 1655.4,649.3M1633.8,671.8 1644.4,664.3 1656.8,652.8M1633.8,681.9 1640.3,677.2 1646.1,671.7 1657.6,656.6M1633.8,691.9 1641.9,686 1648.1,679.5 1653.7,671.2 1658.8,660.4M1633.7,701.8 1644.6,694.6 1652.6,685.7 1657.1,676.8 1662,659.5 1662.8,659.4M1633.7,711.6 1641.8,707.7 1648.5,703.4 1653.8,698.8 1657.5,694.1 1660.4,688.9 1662.2,683.1 1663.7,667.2M1633.6,721.4 1645.8,716.9 1655.6,712 1662.9,706.7 1668,700.6 1670.5,694.1 1671,687.1 1666.6,662.7M1633.6,731.3 1670.4,721.9 1677.3,721 1682.3,721.3 1686.1,722.6 1689.4,724.8 1705.5,741.2 1715.8,749.2M1633.5,741.1 1658.3,737.7 1673.3,737.7 1685.8,741.1 1701.7,749.5M1804.2,525.5 1817.3,530.4 1829.1,532.5 1843.1,532.6 1864,530.6M1786.1,525.4 1808.3,540.7 1813.7,543.4 1819.4,545.1 1826.4,545.8 1834.4,545.4 1864,540.4M1827.8,614.7 1828.6,614.5 1828.5,613.7 1827.1,610 1819.2,595 1816.4,587.5 1815.7,578.6 1817.5,571.9 1822.3,566.8 1831.8,561.4 1846.7,555.5 1863.9,550.3M1831.5,616.3 1829.7,593.6 1830.9,586.7 1833.2,581.2 1838,574.8 1844.1,569.7 1852.8,564.7 1863.9,560.1M1833.6,618 1834.1,617.5 1836.7,598.7 1838.6,593 1841.4,587.7 1845,583 1850.1,578.2 1856.7,573.6 1863.8,569.9M1836.7,617.6 1841.2,604.3 1846.5,594.7 1853.9,586.6 1863.7,579.8M1840.5,616.6 1845.4,607.9 1850.8,600.7 1856.4,595 1863.7,589.7M1839.1,624.1 1852,609.1 1863.7,599.7M1840.5,626.8 1841.5,626.7 1854.5,615.8 1863.7,609.8M1842.4,630.7 1863.8,620M1843.5,635.1 1864,630.4M1844,640.1 1864,640.9M1842.9,645.1 1863.9,651.3M1842.1,649.3 1863.8,661.7M1840.7,652.8 1853.1,664.3 1863.7,671.8M1838.6,655.3 1851.4,671.7 1857.2,677.2 1863.7,681.9M1838.7,660.4 1843.8,671.2 1849.4,679.5 1855.6,686 1863.7,691.9M1834.7,659.4 1835.5,659.5 1840.4,676.8 1844.9,685.7 1852.9,694.6 1863.8,701.8M1833.7,664.2 1835.1,682.2 1836.7,687.9 1839.4,693.3 1843.7,698.8 1849,703.4 1855.7,707.7 1863.8,711.6M1830.9,662.7 1826.5,687.1 1827,694.1 1829.5,700.6 1834.6,706.7 1841.9,712 1851.7,716.9 1863.9,721.4M1781.7,749.2 1792,741.2 1808.1,724.8 1811.4,722.6 1815.2,721.3 1820.2,721 1827.1,721.9 1863.9,731.3M1795.8,749.5 1811.7,741.1 1824.2,737.7 1839.2,737.7 1864,741.1M1721.7,570.6 1710.8,569.3 1703.2,567.1 1698.5,563.4 1697.3,558.7 1699.6,550 1705.2,540.6 1712.8,532.6 1722.6,525.8M1722.6,565.1 1720.9,564.4 1718,561.6 1715.1,555.3 1715.4,548.3 1718.7,541.1 1724,535.2 1731.5,530.3 1740,527.3 1748.9,526.3 1757.8,527.4 1766.3,530.4 1773.8,535.4 1779,541.4 1782.2,548.7 1782.3,555.6 1779.2,561.8 1776.4,564.6 1774.6,565.3M1633,748.3 1650,746.6 1661.9,746.2 1672.9,747 1682.7,749.2M1721.8,708.9 1716.7,712 1712.9,716.7 1711.4,722.4 1712.1,728.3 1715,734.7 1720.1,740.8 1726.5,745.6 1733.7,749.1M1725.7,740.6 1735.2,746 1745.9,748.4 1751.9,748.4 1757.8,747.4 1768,743.3 1772.8,739.7 1776.2,736.1 1778.9,731.9 1780.7,727.2 1781,722.3 1780.2,718.4 1777.8,714 1774.9,711.3M1814.2,749 1823.9,746.8 1834.9,745.8 1846.9,746.2 1863.8,747.9M1818.1,600.1 1811.6,592.4 1805.5,578.8 1801.8,574.1 1798.2,572.5 1794.2,571.8 1775.3,571.4M1759.6,614.6 1772.4,602.2 1776.9,595.6 1778.3,590.8 1778.2,586.8 1776.9,583.1 1774.6,579.9M1726.4,587.3 1727.2,593 1731.4,599.8 1740.4,607.6 1745.4,610.9 1748.3,611.8 1751.2,611.3 1754.6,609.3 1765.5,600.5 1769.9,593.9 1771.1,590.1 1771.1,587.2M1736.3,595.4 1735.6,595.6 1737,597 1741.1,599.8 1744.8,601.3 1748.8,601.9 1752.7,601.3 1756.4,599.8 1760.5,597 1761.9,595.6 1761.2,595.4M1722.9,579.9 1720.6,583.1 1719.3,586.8 1719.2,590.8 1720.6,595.6 1725.1,602.2 1737.9,614.6M1726.5,555.6 1726.6,551.8 1728,548 1732.9,541.8 1739.8,537.7 1748.6,536.1 1757.4,537.6 1765.1,542.2 1768.4,545.9 1770.2,549.5 1771.2,554.4 1771.2,555.4 1770.3,555.5M1707.3,639.4 1722.2,639.3M1705.1,650.2 1713.9,651.6 1723.7,650.1M1699.4,658.6 1700.3,658.7 1705.6,663.2 1711.4,664.4 1719.2,662.8 1728.8,657.7M1692.9,663.6 1693.7,663.8 1693.4,664.8 1691.4,669.3 1689.1,671.2 1686.2,672.1 1683.2,672 1679.5,670.7 1676.1,668.5 1673.6,665.8M1691.9,614.5 1691.7,613.1 1690,610.7 1685.7,608.4 1679.8,609.3 1675.2,612.5M1699.4,620.2 1700.3,620.1 1705.6,615.5 1712.4,614.2 1720.1,615.9 1728.9,620.7M1705.1,628.6 1714.9,627.1 1723.7,628.4M1775.3,639.4 1790.2,639.5M1773,650.2 1782.9,651.8 1791.7,650.3M1767,659 1778.9,666 1787.6,668.4 1791.5,668 1794.2,666.7 1796.5,664.7 1799.1,660.6 1800,660.4M1757.6,665.2 1758.5,665.3 1766,673.3 1770.8,679.7 1772.9,685.3 1772.5,691.1M1731.4,683.1 1733.8,679.1 1738.8,674.2 1743.9,671.1 1748.8,669.9 1753.6,671.1 1758.7,674.2 1763.7,679.1 1766.1,683.1M1767,619.8 1778.2,613.6 1787,611.7 1790.9,612.3 1793.6,613.5 1798.3,618.7 1799.2,618.8M1773,628.5 1782.9,627.1 1791.7,628.7M1821.6,666.2 1822.4,666.3 1821.9,666.9 1817.7,669.6 1811.8,670.4 1807.4,668.2 1805.1,664.1M1823.2,613 1824,612.8 1821.9,610.6 1817.8,607.8 1814,606.5 1811.1,606.5 1808.2,607.5 1806.1,609.5 1804.1,614.1 1803.9,615 1804.7,615.2M1827.9,664.3 1827.5,666.6 1824.3,672.8 1813.6,687.3 1806.7,699.5 1803.9,702.3 1801.2,703.6 1797.2,704.3 1775.3,704.4M1727.2,720.3 1726.4,720.5 1726.3,721.5 1727.3,726.4 1729.2,729.9 1732.4,733.7 1740.1,738.2 1749,739.7 1757.8,738.1 1764.6,734.1 1769.6,727.8 1770.8,724 1771,720.2M1722.9,695.9 1720.6,692.7 1719.4,688.9 1719.3,684.9 1720.5,681.1 1724.9,674.5 1736,663.2M1766,550.6 1757.4,551.2 1748.8,551.4 1740.1,551.2 1731.5,550.6M1773.4,561 1761.1,562.3 1748.8,562.9 1736.4,562.3 1724.1,561M1775.5,571.4 1762.1,573.5 1748.8,574.4 1735.4,573.5 1722,571.4M1773.4,581.8 1761.1,583.1 1748.8,583.6 1736.4,583.1 1724.1,581.8M1766,592.2 1757.4,592.7 1748.8,592.9 1740.1,592.7 1731.5,592.2M1663.5,618.6 1672.1,618.4 1680.8,618.3 1689.4,618.4 1698,618.6M1656.1,629 1668.4,628.4 1680.8,628.1 1693.1,628.4 1705.4,629M1654,639.4 1667.4,638.3 1680.8,637.9 1694.1,638.3 1707.5,639.4M1656.1,649.8 1668.4,649.1 1680.8,648.8 1693.1,649.1 1705.4,649.8M1663.5,660.2 1672.1,659.9 1680.8,659.8 1689.4,659.9 1698,660.2M1731.5,618.6 1740.1,618.4 1748.8,618.3 1757.4,618.4 1766,618.6M1724.1,629 1736.4,628.4 1748.8,628.1 1761.1,628.4 1773.4,629M1722,639.4 1735.4,638.3 1748.8,637.9 1762.1,638.3 1775.5,639.4M1724.1,649.8 1736.4,649.1 1748.8,648.8 1761.1,649.1 1773.4,649.8M1731.5,660.2 1740.1,659.9 1748.8,659.8 1757.4,659.9 1766,660.2M1799.5,618.6 1808.1,618.4 1816.8,618.3 1825.4,618.4 1834,618.6M1792.1,629 1804.4,628.4 1816.8,628.1 1829.1,628.4 1841.4,629M1790,639.4 1803.4,638.3 1816.8,637.9 1830.1,638.3 1843.5,639.4M1792.1,649.8 1804.4,649.1 1816.8,648.8 1829.1,649.1 1841.4,649.8M1799.5,660.2 1808.1,659.9 1816.8,659.8 1825.4,659.9 1834,660.2M1766,683.6 1757.4,684.2 1748.8,684.4 1740.1,684.2 1731.5,683.6M1773.4,694 1761.1,695.3 1748.8,695.9 1736.4,695.3 1724.1,694M1775.5,704.4 1762.1,706.5 1748.8,707.4 1735.4,706.5 1722,704.4M1773.4,714.8 1761.1,716.1 1748.8,716.6 1736.4,716.1 1724.1,714.8M1766,725.2 1757.4,725.7 1748.8,725.9 1740.1,725.7 1731.5,725.2" fill="none" stroke="#1c7c31" stroke-width="2.1" stroke-linejoin="round"/>
<path d="M1666.9,532.5L1661.9,534.8L1661.9,530.2ZM1678.1,545.1L1673.3,547.9L1672.8,543.3ZM1680.1,572.1L1675.1,570L1678.4,566.9ZM1665.5,582.7L1660.6,580.1L1664.3,577.3ZM1658.1,591.6L1653.8,588.2L1657.8,586.1ZM1652.5,597.4L1648,594.2L1652,591.9ZM1649,613.2L1644,610.9L1647.5,607.9ZM1647.6,619.6L1642.3,618.1L1645.3,614.6ZM1647.1,626.7L1641.6,626.5L1643.6,622.4ZM1646.7,633.4L1641.3,634.5L1642.3,630.1ZM1646.5,640.4L1641.6,642.9L1641.4,638.3ZM1647,647.4L1642.8,651L1641.5,646.6ZM1647.1,654L1643.9,658.5L1641.7,654.5ZM1648,661L1645.9,666L1642.8,662.7ZM1648.8,668.1L1647.6,673.5L1644,670.7ZM1650.6,675.8L1649.8,681.2L1645.9,678.7ZM1654.9,681.3L1654.6,686.8L1650.5,684.7ZM1658.8,692.6L1657.4,697.9L1653.9,695ZM1669.2,699.1L1667.7,704.4L1664.2,701.5ZM1682.3,721.3L1677.1,723.3L1677.4,718.7ZM1671.7,737.7L1666.7,740L1666.8,735.4ZM1836.6,532.5L1831.6,534.8L1831.6,530.2ZM1825.4,545.7L1820.2,547.5L1820.7,542.9ZM1821.4,567.7L1819.7,572.9L1816.4,569.8ZM1835.7,577.9L1834.5,583.3L1830.8,580.5ZM1842.2,586.3L1841.9,591.8L1837.8,589.6ZM1847.4,592.9L1847,598.4L1843,596.2ZM1851.9,599.1L1850.8,604.4L1847.1,601.7ZM1852.4,608.6L1850.9,613.9L1847.4,610.9ZM1854.1,616.1L1851.8,621.1L1848.8,617.5ZM1855.8,624L1852.3,628.3L1850.3,624.2ZM1856.7,632.1L1852.3,635.4L1851.3,630.9ZM1857,640.6L1851.9,642.7L1852.1,638.1ZM1856.3,649.1L1850.8,649.9L1852.1,645.5ZM1855.6,657L1850.1,656.5L1852.4,652.5ZM1853.9,665L1848.6,663.3L1851.8,659.9ZM1851.8,672.2L1846.9,669.7L1850.5,666.8ZM1850.2,680.8L1845.5,677.9L1849.3,675.3ZM1845.4,686.7L1841.1,683.3L1845.2,681.2ZM1841.6,696L1836.7,693.5L1840.3,690.7ZM1832.2,703.7L1827.2,701.3L1830.8,698.4ZM1821.2,720.9L1816.4,723.6L1816.1,719ZM1831.8,737.7L1826.8,740L1826.7,735.4ZM1699.7,549.4L1700.6,554.9L1696.2,553.7ZM1751.9,526.7L1746.7,528.4L1747.2,523.8ZM1660.9,746.2L1656,748.7L1655.9,744.1ZM1714.8,734.3L1710.6,730.7L1714.8,728.8ZM1768,743.3L1764.2,747.3L1762.5,743ZM1841.9,746.1L1836.8,748.2L1837,743.6ZM1801.1,573.3L1806.1,575.8L1802.4,578.7ZM1776.1,596.8L1775.1,602.2L1771.4,599.6ZM1751.7,611.2L1747.2,614.4L1746.4,609.9ZM1751.7,601.5L1747.1,604.5L1746.5,599.9ZM1724.8,601.8L1720.1,599L1723.9,596.3ZM1752,536.7L1746.7,538.2L1747.5,533.6ZM1717.7,639.4L1712.8,641.7L1712.7,637.1ZM1717.3,651.1L1712.8,654.2L1712.1,649.6ZM1716.8,663.3L1712.4,666.6L1711.5,662.1ZM1682.3,671.9L1687.3,669.8L1687.2,674.4ZM1681.6,609L1686.2,606L1686.8,610.6ZM1716.8,615.1L1711.4,616.3L1712.4,611.8ZM1717.4,626.7L1712.8,629.7L1712.1,625.2ZM1785.7,639.4L1780.7,641.7L1780.8,637.1ZM1785.3,652.2L1780,653.7L1780.8,649.1ZM1787.1,668.2L1781.7,669.1L1782.9,664.7ZM1770.2,678.8L1765.3,676.2L1769,673.4ZM1751.7,669.2L1747.4,672.6L1746.2,668.2ZM1786.5,611.8L1782.1,615.1L1781.1,610.6ZM1785.4,626.8L1780.7,629.7L1780.1,625.2ZM1810.2,670.6L1814.8,667.6L1815.5,672.2ZM1809.5,606.4L1814.6,604.3L1814.5,608.9ZM1807.2,698.4L1807.7,692.9L1811.7,695.2ZM1751.4,740.1L1746.1,741.6L1746.9,737ZM1724.3,675.3L1723.5,680.8L1719.6,678.2ZM1745.8,563L1750.6,560.5L1750.9,565.1ZM1745.8,583.8L1750.6,581.3L1750.9,585.9ZM1683.7,628L1678.8,630.4L1678.7,625.8ZM1683.7,648.8L1678.8,651.2L1678.7,646.6ZM1751.7,628L1746.8,630.4L1746.7,625.8ZM1751.7,648.8L1746.8,651.2L1746.7,646.6ZM1819.7,628L1814.8,630.4L1814.7,625.8ZM1819.7,648.8L1814.8,651.2L1814.7,646.6ZM1745.8,696L1750.6,693.5L1750.9,698.1ZM1745.8,716.8L1750.6,714.3L1750.9,718.9Z" fill="#22b042"/>
</g>
<text x="1636.9" y="566.4" font-size="37.00" fill="#fff" textLength="21.1" lengthAdjust="spacingAndGlyphs">5</text>
<clipPath id="cp10"><rect x="660.6" y="767.5" width="227.6" height="226.5"/></clipPath>
<g clip-path="url(#cp10)">
<rect x="660.6" y="767.5" width="227.6" height="226.5" fill="#1e0d0a"/>
<ellipse cx="774.4" cy="815.8" rx="44" ry="40" fill="#e4140e" filter="url(#b10)"/>
<circle cx="774.4" cy="811.8" r="20" fill="none" stroke="#f0a020" stroke-width="3" filter="url(#b3)" opacity="0.8"/>
<ellipse cx="774.4" cy="944.8" rx="44" ry="40" fill="#e4140e" filter="url(#b10)"/>
<circle cx="774.4" cy="948.8" r="20" fill="none" stroke="#f0a020" stroke-width="3" filter="url(#b3)" opacity="0.8"/>
<ellipse cx="699.4" cy="879.2" rx="44" ry="28" fill="#e4140e" filter="url(#b10)"/>
<circle cx="707.4" cy="879.2" r="20" fill="none" stroke="#f0a020" stroke-width="2.5" filter="url(#b3)" opacity="0.6"/>
<ellipse cx="849.4" cy="879.2" rx="44" ry="28" fill="#e4140e" filter="url(#b10)"/>
<circle cx="841.4" cy="879.2" r="20" fill="none" stroke="#f0a020" stroke-width="2.5" filter="url(#b3)" opacity="0.6"/>
<ellipse cx="774.4" cy="845.8" rx="5" ry="6" fill="#1e0d0a" filter="url(#b6)"/>
<ellipse cx="774.4" cy="914.8" rx="5" ry="6" fill="#1e0d0a" filter="url(#b6)"/>
<ellipse cx="774.4" cy="879.8" rx="30" ry="26" fill="#1e0d0a" filter="url(#b8)"/>
<circle cx="774.4" cy="811.8" r="19.5" fill="#e01810" filter="url(#b2)"/>
<circle cx="707.4" cy="879.2" r="19.5" fill="#d01810" filter="url(#b2)"/>
<circle cx="774.4" cy="879.2" r="19.5" fill="#1e0d0a" filter="url(#b2)"/>
<circle cx="841.4" cy="879.2" r="19.5" fill="#d01810" filter="url(#b2)"/>
<circle cx="774.4" cy="948.8" r="19.5" fill="#e01810" filter="url(#b2)"/>
<g fill="none" stroke="#1c7c31" stroke-width="2.1"><circle cx="774.4" cy="811.8" r="19.5"/><circle cx="707.4" cy="879.2" r="19.5"/><circle cx="841.4" cy="879.2" r="19.5"/><circle cx="774.4" cy="948.8" r="19.5"/></g>
<path d="M659.1,771.2 696.5,777.9 722.6,784.8 739.1,791.9 746.7,796.7 756.2,804 757.2,804.1M659.1,781.2 692.6,787.1 720.9,793.3 737.2,798.3 753.6,805.5M659.1,791.2 730.1,803.3 746.7,806.7M659.1,801.2 707.5,809 755.4,811.1M659.1,811.2 692.6,817.4 707.5,818.9 724.4,818.1 750.1,814.3M659.1,821.1 695.3,829.1 707.2,830.1 714.1,829.4 722.9,827.3 749.4,818.2M659.1,831.1 672.8,834.4 684.2,838.1 692.4,841.6 704.6,848.5 706.5,848.9 720.7,839.6 756.8,818.4M659.1,841.1 673.6,845.1 684.4,850.2 690.4,855.5 693,859.7 694.7,864.4 695.6,864.6M659.1,851.1 669.8,853.9 678.1,857.2 684.1,860.8 691.3,867.7 692.3,867.8M659.1,861.2 675.6,865.2 690.1,871.6M659.1,871.3 674,873 688.7,875.8M659.1,881.6 688.1,880.2M659.1,891.8 673.9,889.2 689.2,884.6M659.1,901.9 676.4,897 682.7,893.9 691,888.6M659.1,911.9 671.7,908.5 680.8,904.4 687.2,899.6 692.6,892.5 693.5,892.3M659.1,921.9 676.5,917.1 683.8,914 689,911 694.5,905.3 696,901.6 696.7,895.6 697.6,895.4M659.1,931.9 675.7,928.1 698.8,921.5 707.7,920.8 715.4,922.8 727.4,927.8 756.7,942.8M659.1,941.9 693.5,935.1 707.4,934 715.4,934.6 725.2,936.4 750.2,943.6M659.1,951.8 692.6,946 708.5,944.4 725.5,944.7 755.4,947.6M659.1,961.8 706.5,954.2 753.3,950.1M659.1,971.8 725.1,960.1 756.1,952.3M659.1,981.8 694.6,975.6 720.9,969.5 737.9,963.7 754.8,955.1M659.1,991.8 696.5,985.1 722.6,978.1 731.9,974.5 739.8,970.2 746.4,965.7 754.8,958.6M791.6,804.1 792.6,804 802.1,796.7 809.7,791.9 826.2,784.8 852.3,777.9 889.7,771.2M794.3,806 810.7,798.6 827.9,793.3 856.2,787.1 889.7,781.2M793.3,808.9 816.7,803.7 889.7,791.2M793.4,811.1 841.3,809 889.7,801.2M798.7,814.3 824.4,818.1 841.3,818.9 856.2,817.4 889.7,811.2M799.4,818.2 825.9,827.3 834.7,829.4 841.6,830.1 853.5,829.1 889.7,821.1M792,818.4 828.1,839.6 842.3,848.9 844.2,848.5 856.4,841.6 864.6,838.1 876,834.4 889.7,831.1M853.2,864.6 854.1,864.4 855.8,859.7 858.4,855.5 864.4,850.2 875.2,845.1 889.7,841.1M856.5,867.8 857.5,867.7 864.7,860.8 870.7,857.2 879,853.9 889.7,851.1M858.7,871.6 873.2,865.2 889.7,861.2M860.1,875.8 874.8,873 889.7,871.3M860.7,880.2 889.7,881.6M859.6,884.6 874.9,889.2 889.7,891.8M857.8,888.6 866.1,893.9 872.4,897 889.7,901.9M855.3,892.3 856.2,892.5 861.6,899.6 868,904.4 877.1,908.5 889.7,911.9M851.2,895.4 852.1,895.6 852.8,901.6 854.3,905.3 859.8,911 865,914 872.3,917.1 889.7,921.9M792.1,942.8 821.4,927.8 833.4,922.8 841.1,920.8 850,921.5 873.1,928.1 889.7,931.9M792.9,945.1 822.6,936.6 840.4,934 855.3,935.1 889.7,941.9M797.4,947.2 824.3,944.6 841.3,944.4 857.2,946.1 889.7,951.8M793.5,949.9 842.3,954.2 889.7,961.8M792.7,952.3 823.7,960.1 889.7,971.8M794,955.1 810.9,963.7 827.9,969.5 854.2,975.6 889.7,981.8M798.5,962.5 805.6,968.1 812.4,972.2 829.1,979.1 854.2,985.5 889.7,991.8M687.8,766.4 712.1,772.1 730,778.4 742.9,786 752.7,796M720.9,766.3 735.6,772.5 745.5,779.3 751.9,787 758.9,800.1M743.1,766.4 750.3,771.7 755.2,778 757.7,784.5 759.6,795.3M763.4,766 767.5,770.3 768.8,774 763.5,789.1 762.4,795 762.9,796.5M785.8,796.6 786.6,796.4 786.2,791.5 782.2,775 783.7,770.3 787.8,766M788.1,792.7 788.3,781.7 789.2,776.8 792.1,771.6 798,766.1M790.2,792.4 792.4,783.7 795.4,777.4 800.7,771.5 808.2,766.5M794.2,788 798.2,781 802.9,775.9 810.3,770.8 819.3,766.4M791.6,799.6 800.1,787.3 809,779.3 822.3,772.5 841.4,766.4M844.9,770.4 863.4,766.4M687.8,995.1 714,988.9 731.8,982.3 738.8,978.4 744.4,974.2 749.4,969.3 755,962.2M720.9,995.2 733.9,989.9 744,983.6 750.8,976.3 756.4,965.7M743,995.1 750.4,989.9 755.5,983.7 758,977.2 760.4,962.4 761.3,962.3M763.3,995.4 768.4,990.6 769.9,987 769.2,984.1 763.6,971.3 762.5,964.4 763.3,964.3M786.4,963.8 785.8,970.6 781.3,985.9 782.9,990.5 787.9,995.4M787.4,963.3 787.7,979.1 788.5,984 792,990 798,995.3M790.3,970.2 792.4,979 795.8,985.1 801.5,990.7 809.1,995.5M794.1,973.7 798,980.6 802.9,985.7 810.3,990.8 819.3,995.1M789.9,959.9 790.8,960.1 800.1,974.3 809,982.2 822.3,989 841.4,995.1M788.4,824.7 789.3,824.8 794.4,838.9 798.2,844.8 803.2,849.7 817.3,860.9 825,868.7 825.9,868.9M784.1,828.3 783.4,831.6 780.8,835.9 777.7,838.4 774.9,839.2 771,838.4 768,835.8 765,830.7 764.4,828.7 765.1,828.6M781.1,793.8 781.8,793.6 779.1,790.8 774.4,789.2 769.7,790.8 767,793.6 767.7,793.8M725.9,879.3 822.9,879.3M724.6,886.2 739.7,893.9 760.8,903.1 768,908.3 769.5,910.9 769.6,912.9 764,926.8 762.9,932.7 763.7,932.8M721,892.4 721.9,892.5 725.3,898.6 729.7,904.1 748.6,921.9 758.7,937.8M716.4,896.2 716,906 717,908.8 719.3,912.1 724.5,916.7 741.8,928.6 751.2,936.1M712.7,897.9 710.2,900.7 707.4,901.8 703.7,900.4 701.9,897.8M712.6,860.6 710.1,857.9 707.4,856.8 703.7,858.1 701.9,860.7M721,866.1 721.9,866 725.3,859.9 729.7,854.4 747.9,837.4 758.1,822.5 759,822.4M726.7,882.7 743.3,886.5 755.2,887.9 796.2,887.8 807.1,886.2 821.7,882.8M740,890.4 750.5,893.7 758.3,895.1 788.3,895.3 801.1,892.9 818.9,886.5M758.7,898.9 768.4,901.1 775.4,901.7 784.3,900.3 795.9,897.2M726.2,876.1 745.7,871.7 756.6,870.5 795.6,870.7 823,876M731.8,871.6 745.9,866.4 757.5,863.5 786.5,863 798.3,865.1 817.1,871.6M755.9,861.1 768.5,857.6 774.4,856.8 780.3,857.6 792.9,861.1M846.9,897.8 845.1,900.4 841.4,901.8 838.6,900.7 836.1,897.9M790.1,937.8 800.2,921.9 819.1,904.1 823.5,898.6 826.9,892.5 827.8,892.4M820.8,839.6 827.9,845.1 831.7,849.7 833,854.5 832.4,862.3M846.9,860.7 845.1,858.1 841.4,856.8 838.7,857.9 836.2,860.6M781.1,966.7 781.8,966.9 779.1,969.7 774.4,971.2 769.7,969.7 767,966.9 767.7,966.7M781.1,930.8 781.8,930.7 779.1,927.8 774.4,926.2 769.7,927.8 767,930.7 767.7,930.8M759.7,799.9 767,799.5 774.4,799.3 781.8,799.5 789.1,799.9M755.7,811.8 765.1,810.7 774.4,810.2 783.8,810.7 793.1,811.8M759.7,823.6 767,823.2 774.4,823 781.8,823.2 789.1,823.6M692.7,867.4 700,867 707.4,866.8 714.8,867 722.1,867.4M688.7,879.2 698.1,878.2 707.4,877.8 716.8,878.2 726.1,879.2M692.7,891.1 700,890.7 707.4,890.5 714.8,890.7 722.1,891.1M826.7,867.4 834,867 841.4,866.8 848.8,867 856.1,867.4M822.7,879.2 832.1,878.2 841.4,877.8 850.8,878.2 860.1,879.2M826.7,891.1 834,890.7 841.4,890.5 848.8,890.7 856.1,891.1M759.7,936.9 767,936.5 774.4,936.3 781.8,936.5 789.1,936.9M755.7,948.8 765.1,947.7 774.4,947.2 783.8,947.7 793.1,948.8M759.7,960.6 767,960.2 774.4,960 781.8,960.2 789.1,960.6" fill="none" stroke="#1c7c31" stroke-width="2.1" stroke-linejoin="round"/>
<path d="M713.4,782.4L708,783.3L709.2,778.9ZM710.2,790.9L704.8,792.1L705.8,787.6ZM705.9,799.2L700.6,800.6L701.4,796.1ZM709.9,809.4L704.6,810.9L705.4,806.4ZM707.5,818.9L702.3,820.7L702.7,816.1ZM707.7,830.2L702.5,832L702.9,827.5ZM712.3,845.1L709.4,849.8L706.9,846ZM683.5,849.8L677.9,849.7L679.9,845.5ZM680,857.9L674.5,858.2L676.2,853.9ZM678,865.7L672.6,866.8L673.7,862.3ZM677,873.4L671.7,875.1L672.3,870.5ZM676.6,880.8L671.7,883.3L671.5,878.7ZM677.2,888.2L673.1,891.8L671.8,887.4ZM678.8,896.3L674.6,899.9L673.3,895.5ZM681.2,904.2L677.6,908.4L675.7,904.2ZM686.1,913.1L682.3,917.2L680.6,912.9ZM712.5,922.1L707.1,923.1L708.2,918.6ZM707.9,933.9L703.1,936.6L702.7,932ZM710,944.2L705.3,947L704.8,942.4ZM709,953.8L704.4,956.8L703.7,952.3ZM710.8,962.7L706.3,965.8L705.5,961.3ZM711.1,971.8L706.8,975.1L705.7,970.7ZM712.5,980.9L708.2,984.4L707,979.9ZM841.2,780.9L836.9,784.4L835.8,779.9ZM844,789.8L839.6,793.1L838.6,788.6ZM844.3,798.9L839.8,802.1L839,797.5ZM844.8,808.5L840.2,811.6L839.5,807ZM847.3,818.3L842.6,821.1L842.1,816.5ZM847.1,829.7L842.3,832.4L841.9,827.8ZM841.5,848.4L836.1,847.6L838.6,843.8ZM870.8,847.2L867.2,851.4L865.3,847.3ZM874.4,855.7L870.6,859.7L868.9,855.4ZM876.6,864.3L872.3,867.7L871.2,863.3ZM877.8,872.7L873.1,875.5L872.6,871ZM878.2,881L873.1,883.1L873.3,878.5ZM877.3,889.9L871.9,890.7L873.2,886.3ZM875.8,898L870.4,898.8L871.6,894.4ZM873.1,906.7L867.6,906.7L869.5,902.5ZM868.3,915.4L862.8,915.6L864.6,911.4ZM842.1,920.6L837.8,924L836.7,919.6ZM843.9,934.2L838.8,936.2L839.1,931.6ZM846.7,945L841.5,946.8L842,942.2ZM844.8,954.4L839.6,956.2L840,951.7ZM843.9,963.7L838.6,965.1L839.4,960.6ZM843.5,973.1L838.1,974.2L839.2,969.8ZM845,983.2L839.6,984.2L840.8,979.7ZM725.7,776.9L720.3,777.4L721.8,773ZM746.7,780.1L741.3,779.2L743.9,775.4ZM756.4,781.3L752.6,777.4L756.9,775.8ZM765.5,783.3L765,777.8L769.3,779.3ZM782.9,777.9L786.3,782.2L781.8,783.3ZM789.6,774.9L790.9,780.2L786.4,779.3ZM797.7,774.8L796.1,780.1L792.7,777ZM807,773L804.3,777.8L801.6,774ZM815.3,776.1L811.9,780.5L809.8,776.4ZM857.1,767.8L852.7,771.1L851.7,766.6ZM727.6,983.8L723.7,987.8L722.1,983.4ZM744.9,983.1L741.8,987.7L739.4,983.8ZM757.6,978.2L757.9,983.7L753.7,982ZM766.4,977.7L770.5,981.4L766.3,983.2ZM782,983.6L781.2,978.1L785.6,979.4ZM788.5,984.1L785.4,979.5L790,978.8ZM798.3,987.5L793.1,985.7L796.3,982.4ZM807,988.5L801.6,987.6L804.2,983.8ZM813.9,984.7L808.4,984.5L810.5,980.4ZM805.5,851.6L800.2,850.3L803.1,846.7ZM771.3,838.4L776.7,837.3L775.6,841.8ZM771.5,788.3L777,787.7L775.6,792.1ZM777.4,879.3L772.4,881.6L772.4,877ZM761.6,903.5L756.1,903.6L757.9,899.4ZM742.8,916.4L737.6,914.7L740.7,911.3ZM730.8,921L725.4,920.1L728,916.3ZM704.4,900.7L709.9,900.2L708.3,904.5ZM704.4,857.8L708.3,854L709.9,858.3ZM742.5,842.5L740.4,847.6L737.2,844.2ZM777.2,887.9L772.2,890.2L772.2,885.6ZM782.8,895.3L777.8,897.5L777.8,892.9ZM780.3,901L775.8,904L775,899.5ZM777.6,870.6L772.6,872.9L772.6,868.3ZM777.5,863.2L772.5,865.6L772.4,861ZM777.4,856.3L772.8,859.3L772.1,854.8ZM838.8,902.7L842.7,898.8L844.3,903.2ZM810.4,912.3L808.3,917.4L805.2,914ZM832.9,851.2L827.9,848.7L831.5,845.9ZM838.8,855.8L844.2,855.3L842.7,859.7ZM771.5,972.2L775.6,968.4L777,972.8ZM771.6,925.3L777,924.7L775.6,929.1ZM777.4,810.1L772.5,812.6L772.3,808ZM710.4,877.6L705.5,880.1L705.3,875.5ZM844.4,877.6L839.5,880.1L839.3,875.5ZM777.4,947.1L772.5,949.6L772.3,945Z" fill="#22b042"/>
</g>
<clipPath id="cp11"><rect x="904.6" y="767.5" width="227.4" height="226.5"/></clipPath>
<g clip-path="url(#cp11)">
<rect x="904.6" y="767.5" width="227.4" height="226.5" fill="#1e0d0a"/>
<ellipse cx="980.3" cy="809.8" rx="40" ry="34" fill="#e4140e" filter="url(#b16)"/>
<ellipse cx="1056.3" cy="809.8" rx="40" ry="34" fill="#e4140e" filter="url(#b16)"/>
<ellipse cx="1018.3" cy="811.8" rx="30" ry="28" fill="#e4140e" filter="url(#b8)"/>
<ellipse cx="998.3" cy="811.8" rx="6" ry="15" fill="#f6e41a" filter="url(#b6)"/>
<ellipse cx="1038.3" cy="811.8" rx="6" ry="15" fill="#f6e41a" filter="url(#b6)"/>
<ellipse cx="1004.3" cy="825.8" rx="5" ry="6" fill="#f6e41a" filter="url(#b5)" opacity="0.8"/>
<ellipse cx="1032.3" cy="825.8" rx="5" ry="6" fill="#f6e41a" filter="url(#b5)" opacity="0.8"/>
<ellipse cx="1018.3" cy="777.8" rx="8" ry="14" fill="#1e0d0a" filter="url(#b8)"/>
<ellipse cx="980.3" cy="950.8" rx="40" ry="34" fill="#e4140e" filter="url(#b16)"/>
<ellipse cx="1056.3" cy="950.8" rx="40" ry="34" fill="#e4140e" filter="url(#b16)"/>
<ellipse cx="1018.3" cy="948.8" rx="30" ry="28" fill="#e4140e" filter="url(#b8)"/>
<ellipse cx="998.3" cy="948.8" rx="6" ry="15" fill="#f6e41a" filter="url(#b6)"/>
<ellipse cx="1038.3" cy="948.8" rx="6" ry="15" fill="#f6e41a" filter="url(#b6)"/>
<ellipse cx="1004.3" cy="934.8" rx="5" ry="6" fill="#f6e41a" filter="url(#b5)" opacity="0.8"/>
<ellipse cx="1032.3" cy="934.8" rx="5" ry="6" fill="#f6e41a" filter="url(#b5)" opacity="0.8"/>
<ellipse cx="1018.3" cy="982.8" rx="8" ry="14" fill="#1e0d0a" filter="url(#b8)"/>
<ellipse cx="951.3" cy="879.2" rx="30" ry="28" fill="#e4140e" filter="url(#b10)"/>
<ellipse cx="931.3" cy="879.2" rx="4" ry="10" fill="#f27812" filter="url(#b6)" opacity="0.8"/>
<ellipse cx="971.3" cy="879.2" rx="4" ry="10" fill="#f27812" filter="url(#b6)" opacity="0.8"/>
<ellipse cx="1018.3" cy="879.2" rx="30" ry="28" fill="#e4140e" filter="url(#b10)"/>
<ellipse cx="998.3" cy="879.2" rx="4" ry="10" fill="#f27812" filter="url(#b6)" opacity="0.8"/>
<ellipse cx="1038.3" cy="879.2" rx="4" ry="10" fill="#f27812" filter="url(#b6)" opacity="0.8"/>
<ellipse cx="1085.3" cy="879.2" rx="30" ry="28" fill="#e4140e" filter="url(#b10)"/>
<ellipse cx="1065.3" cy="879.2" rx="4" ry="10" fill="#f27812" filter="url(#b6)" opacity="0.8"/>
<ellipse cx="1105.3" cy="879.2" rx="4" ry="10" fill="#f27812" filter="url(#b6)" opacity="0.8"/>
<ellipse cx="1018.3" cy="879.8" rx="92" ry="18" fill="#e4140e" filter="url(#b10)"/>
<ellipse cx="970.3" cy="844.8" rx="30" ry="9" fill="#1e0d0a" filter="url(#b10)"/>
<ellipse cx="1066.3" cy="844.8" rx="30" ry="9" fill="#1e0d0a" filter="url(#b10)"/>
<ellipse cx="1018.3" cy="844.8" rx="6" ry="10" fill="#1e0d0a" filter="url(#b6)"/>
<ellipse cx="970.3" cy="916.8" rx="30" ry="9" fill="#1e0d0a" filter="url(#b10)"/>
<ellipse cx="1066.3" cy="916.8" rx="30" ry="9" fill="#1e0d0a" filter="url(#b10)"/>
<ellipse cx="1018.3" cy="916.8" rx="6" ry="10" fill="#1e0d0a" filter="url(#b6)"/>
<ellipse cx="910.3" cy="880.8" rx="14" ry="40" fill="#1e0d0a" filter="url(#b12)" opacity="0.9"/>
<ellipse cx="916.3" cy="792.8" rx="24" ry="36" fill="#1e0d0a" filter="url(#b16)"/>
<ellipse cx="916.3" cy="968.8" rx="24" ry="36" fill="#1e0d0a" filter="url(#b16)"/>
<ellipse cx="1126.3" cy="880.8" rx="14" ry="40" fill="#1e0d0a" filter="url(#b12)" opacity="0.9"/>
<ellipse cx="1120.3" cy="792.8" rx="24" ry="36" fill="#1e0d0a" filter="url(#b16)"/>
<ellipse cx="1120.3" cy="968.8" rx="24" ry="36" fill="#1e0d0a" filter="url(#b16)"/>
<circle cx="1018.3" cy="811.8" r="19.5" fill="#e01810" filter="url(#b2)"/>
<circle cx="951.3" cy="879.2" r="19.5" fill="#b81410" filter="url(#b2)"/>
<circle cx="1018.3" cy="879.2" r="19.5" fill="#d81810" filter="url(#b2)"/>
<circle cx="1085.3" cy="879.2" r="19.5" fill="#b81410" filter="url(#b2)"/>
<circle cx="1018.3" cy="948.8" r="19.5" fill="#e01810" filter="url(#b2)"/>
<g fill="none" stroke="#1c7c31" stroke-width="2.1"><circle cx="1018.3" cy="811.8" r="19.5"/><circle cx="951.3" cy="879.2" r="19.5"/><circle cx="1018.3" cy="879.2" r="19.5"/><circle cx="1085.3" cy="879.2" r="19.5"/><circle cx="1018.3" cy="948.8" r="19.5"/></g>
<path d="M903.1,771.1 932.4,777.6 957.3,785.2 974.7,792.7 1000.1,806.5M903.1,781.1 926.6,786.1 948.9,791.8 969,797.9 990.6,805.7M903.1,791.1 968.6,805.2 999.2,810.5M903.1,801.1 941.4,808.9 958.1,811.5 978.1,812.9 999.1,812.4M903.1,811.1 939.4,818.4 956.3,820.2 975.3,819.3 999.8,814.5M903.1,821.1 940.3,829.1 954.2,830.3 964.1,829.2 974.8,826.6 984.3,823.3 996.1,818M903.1,831.1 921.6,835.5 945.5,843 952.4,843.6 961.1,841.3 976.7,834.6 986.2,829.1 995.8,821.8M903.1,841.1 918.7,845 930.6,850 937.7,855.5 939.8,858.9 940.9,862.7 941.8,862.9M903.1,851.1 914.8,853.9 924.2,857.3 931.1,861.4 936.7,866.9M903.1,861.2 919.7,864.7 934.4,870.9M903.1,871.3 918,872.9 932.8,875.5M903.1,881.5 932.1,880.3M903.1,891.7 918.9,889.2 933.3,885.1M903.1,901.9 921.5,897.2 927.9,894.2 935.4,889.6M903.1,911.9 916.7,908.5 926.9,904.4 933.4,899.8 938.3,893.6M903.1,921.9 922.5,917 936.3,911.1 941.2,907.6 943.7,904.6 944.6,901.7 944.7,897.3M903.1,931.9 943,922.5 949,921.8 955,922 965.7,924.4 977.8,929 986.6,933.7 1000,942.5M903.1,941.9 938.4,934.8 954.3,933.3 963.3,933.9 973.2,935.6 982.8,938.3 994,942.5M903.1,951.9 939.5,944.8 957.3,942.8 976.3,943.2 999,946.6M903.1,961.9 960.1,951 979,949.2 999,948.6M903.1,971.9 928.6,966.6 995.8,951.1M903.1,981.9 928.6,976.5 952.7,970 971.7,963.6 992.9,954.9M903.1,991.9 933.4,985.2 957.3,977.7 975.5,969.5 993.2,958.4M1036.5,806.5 1061.9,792.7 1079.3,785.2 1104.2,777.6 1133.5,771.1M1045,806 1066.7,798.2 1086.7,792.1 1110,786.1 1133.5,781.1M1037.4,810.5 1068,805.2 1133.5,791.1M1037.5,812.4 1058.5,812.9 1078.5,811.5 1095.2,808.9 1133.5,801.1M1036.8,814.5 1061.3,819.3 1080.3,820.2 1097.2,818.4 1133.5,811.1M1040.5,818 1052.3,823.3 1061.8,826.6 1072.5,829.2 1082.4,830.3 1096.3,829.1 1133.5,821.1M1040.8,821.8 1050.4,829.1 1059.9,834.6 1075.5,841.3 1084.2,843.6 1091.1,843 1115,835.5 1133.5,831.1M1094.8,862.9 1095.7,862.7 1096.8,858.9 1098.9,855.5 1106,850 1117.9,845 1133.5,841.1M1099.9,866.9 1105.5,861.4 1112.4,857.3 1121.8,853.9 1133.5,851.1M1102.2,870.9 1116.9,864.7 1133.5,861.2M1103.8,875.5 1118.6,872.9 1133.5,871.3M1104.5,880.3 1133.5,881.5M1103.3,885.1 1117.7,889.2 1133.5,891.7M1101.2,889.6 1108.7,894.2 1115.1,897.2 1133.5,901.9M1098.3,893.6 1103.2,899.8 1109.7,904.4 1119.9,908.5 1133.5,911.9M1091.9,897.3 1092,901.7 1092.9,904.6 1095.4,907.6 1100.3,911.1 1114.1,917 1133.5,921.9M1036.6,942.5 1050,933.7 1058.8,929 1070.9,924.4 1081.6,922 1087.6,921.8 1093.6,922.5 1133.5,931.9M1041.6,942.9 1062.5,935.9 1072.3,934 1082.3,933.3 1098.2,934.8 1133.5,941.9M1037.6,946.6 1060.3,943.2 1079.3,942.8 1097.1,944.8 1133.5,951.9M1037.6,948.6 1057.6,949.2 1076.5,951 1133.5,961.9M1040.8,951.1 1108,966.6 1133.5,971.9M1043.7,954.9 1064.9,963.6 1083.9,970 1108,976.5 1133.5,981.9M1043.4,958.4 1061.1,969.5 1079.3,977.7 1103.2,985.2 1133.5,991.9M922.8,766.3 945.9,772.7 964.6,779.9 979.3,788.3 993.3,799.6M955.9,766.5 968.6,772.3 979.5,779.4 986.8,786.2 998.7,801 1000.7,803.2 1001.7,803.3M977.1,766.3 984.2,771.9 989.4,777.9 993.1,783.9 1000.4,799.2M998.7,766.2 1001.4,773.7 1002,791.7 1003.6,799.4M1009.4,766 1009.2,771 1004.1,788.2M1032,798 1032.2,791.1 1030.3,783.4 1026.2,775.4 1021.2,769.2 1018.7,767.7 1016.8,768.1 1013.2,771.6 1009.2,777.3M1034.4,796.3 1036.8,775.5 1038.3,770.7 1040.7,766.3M1038.1,790.9 1041.1,781.4 1043.6,775.9 1046.9,771 1051.8,766M1041.8,789.2 1046.2,781.3 1050.5,775.8 1055.6,771 1062.1,766.4M1049.1,783.7 1059.3,774.2 1073.2,766.3M1037.3,803.1 1052,788.2 1062.3,780.3 1076.5,772.9 1094.4,766.5M1063.7,784.8 1073.5,779.8 1085.6,775 1099.9,770.5 1116.4,766.4M933.8,995.1 954.8,988.5 971.1,980.9 982.6,973 998.5,957.8 1001,956.4M966,995.3 976.4,989.3 984.8,982.3 990.5,975.3 1000,960 1001.2,958.4 1002.1,958.3M987.5,995.6 992.1,990.4 995.6,984.3 1000.5,966M998.6,995.2 1000.4,991.7 1001.7,986.9 1002.1,968.9 1003.7,961.2M1009.2,995.5 1009.3,989.5 1005.5,978.1M1031.9,962.3 1032.4,967.1 1031.3,974 1028.9,980.6 1024.8,987.4 1018.8,994.1 1017,993.5 1013,989.1M1034.3,964.3 1036.6,986.1 1038.2,990.9 1040.7,995.1M1037.8,969.7 1040.6,979.3 1043,984.8 1046.9,990.6 1051.8,995.5M1041.4,971.5 1045.6,979.4 1049.8,985 1055.6,990.5 1062.1,995.1M1049.1,977.8 1053.9,982.9 1059.3,987.3 1073.2,995.2M1035.2,956.5 1037.6,958 1052.8,973.9 1062.3,981.2 1076.5,988.6 1094.4,995M1028.4,828 1029.2,828.1 1028.5,830 1025.5,834 1022.1,836 1018.2,836.7 1014.3,836 1010.9,833.8 1008,829.8 1007.4,827.9 1008.2,827.8M1028.9,795.7 1027.6,792.1 1025.2,789 1021.9,786.8 1018,786.1 1015.1,786.6 1011.7,788.7 1009.1,791.8 1007.8,795.3M969.8,879.3 999.8,879.1M968.4,886.5 978.6,890.3 986.5,891.6 993.5,891 1001.6,887.5M964.5,892.6 965.5,892.7 968.5,896.7 973,900.7 988.6,909.6 993.1,913.5 996,918.7 1001,934.9 1002.4,937.5 1003.3,937.7M959.3,896.5 960.7,902.9 963.5,907 968.1,910.8 985.6,922.5 990.5,927.4 997.4,936M958.9,861.6 959.8,861.5 960.1,857.5 961.2,854.7 964.3,850.8 984.2,837.4 992.8,829.1M964.6,865.9 965.5,865.8 968.5,861.8 972.9,857.8 987.5,849.1 992.1,845.2 995.2,840.1 999.6,827.9 1002.3,822.6M1036.8,879.2 1066.8,879.4M1035.4,886.4 1042.9,889.2 1049.8,890 1057.7,888.9 1067.1,885.7M1032,892.3 1032.9,892.5 1035.7,897.8 1037.7,900 1040.4,901.2 1044.4,901.6 1051.3,900.4 1057.9,898 1064,894.7 1069.4,890.3M1028.3,895.5 1029.1,895.6 1028.5,897.5 1026.2,900.7 1022.6,902.5 1018.7,903.1 1014.7,902.7 1011,901.2 1008.9,899.1 1007.6,895.6M969.4,873.2 978.9,870 986.8,868.8 993.7,869.4 1001.2,872M970.1,866.5 975,863.1 981.4,860.1 988.1,858.1 994,857.4 997,857.8 999.6,859.3 1003.7,866 1004.6,866.2M1029.1,863.1 1027.9,859.6 1025.7,857.5 1022,856.1 1018,855.7 1014.1,856.2 1010.5,857.8 1008,860.9 1007.4,862.8 1008.2,863M1032,866.2 1032.9,866 1035.7,860.8 1037.8,858.6 1040.6,857.6 1043.6,857.4 1050.5,858.6 1057.1,860.9 1069.8,868.5M1035.4,872 1042.9,869.4 1049.8,868.8 1057.7,870 1067.2,873.2M1039.2,936 1046.1,927.4 1051,922.5 1068.5,910.8 1073.1,907 1075.9,902.9 1077.3,896.5M1040.5,825.3 1051.6,836.8 1068.4,847.7 1073,851.5 1075.9,855.6 1076.8,861.5 1077.7,861.6M1028.8,965.2 1027.5,968.7 1024.9,971.8 1021.5,973.9 1018.6,974.4 1014.7,973.7 1011.4,971.5 1009,968.4 1007.7,964.8M1028.4,932.7 1029.2,932.5 1028.5,930.6 1025.6,926.6 1022.3,924.5 1018.4,923.7 1014.5,924.4 1011.1,926.5 1008.1,930.5 1007.4,932.4 1008.2,932.6M1003.6,799.9 1010.9,799.5 1018.3,799.3 1025.7,799.5 1033,799.9M999.6,811.8 1008.9,810.7 1018.3,810.2 1027.7,810.7 1037,811.8M1003.6,823.6 1010.9,823.2 1018.3,823 1025.7,823.2 1033,823.6M936.6,867.4 943.9,867 951.3,866.8 958.7,867 966,867.4M932.6,879.2 941.9,878.2 951.3,877.8 960.6,878.2 970,879.2M936.6,891.1 943.9,890.7 951.3,890.5 958.7,890.7 966,891.1M1003.6,867.4 1010.9,867 1018.3,866.8 1025.7,867 1033,867.4M999.6,879.2 1008.9,878.2 1018.3,877.8 1027.7,878.2 1037,879.2M1003.6,891.1 1010.9,890.7 1018.3,890.5 1025.7,890.7 1033,891.1M1070.6,867.4 1077.9,867 1085.3,866.8 1092.7,867 1100,867.4M1066.6,879.2 1075.9,878.2 1085.3,877.8 1094.7,878.2 1104,879.2M1070.6,891.1 1077.9,890.7 1085.3,890.5 1092.7,890.7 1100,891.1M1003.6,936.9 1010.9,936.5 1018.3,936.3 1025.7,936.5 1033,936.9M999.6,948.8 1008.9,947.7 1018.3,947.2 1027.7,947.7 1037,948.8M1003.6,960.6 1010.9,960.2 1018.3,960 1025.7,960.2 1033,960.6" fill="none" stroke="#1c7c31" stroke-width="2.1" stroke-linejoin="round"/>
<path d="M956.3,784.9L950.8,785.6L952.2,781.2ZM950.3,792.2L944.9,793.2L946.1,788.7ZM954,802.1L948.6,803.3L949.6,798.8ZM953.7,810.8L948.4,812.3L949.1,807.8ZM954.3,820L949.1,821.8L949.6,817.2ZM953.2,830.2L948,832.1L948.4,827.5ZM954.4,843.8L949.2,845.6L949.6,841ZM928.3,849L922.8,849.2L924.5,844.9ZM924.2,857.3L918.7,857.7L920.3,853.4ZM922.1,865.2L916.8,866.5L917.7,862ZM921,873.2L915.8,875L916.3,870.4ZM920.6,880.8L915.7,883.3L915.5,878.7ZM921.4,888.9L916.8,891.9L916.1,887.4ZM922.9,896.8L918.6,900.3L917.5,895.8ZM925.5,905L921.7,909L920,904.7ZM931,913.4L927.3,917.4L925.5,913.2ZM956.5,922L951.4,924.1L951.5,919.5ZM951.9,933.5L947.1,936.3L946.7,931.7ZM953.8,943.2L949.1,946L948.6,941.5ZM953.7,952.3L949.2,955.4L948.4,950.9ZM952.5,961.1L948.1,964.5L947.1,960ZM951.7,970.3L947.5,973.8L946.3,969.4ZM953,979.1L948.9,982.8L947.5,978.4ZM1086.1,783.2L1082,786.8L1080.6,782.4ZM1091.6,790.8L1087.3,794.3L1086.2,789.8ZM1088.5,800.8L1084.1,804.1L1083.1,799.6ZM1088.8,809.9L1084.2,812.9L1083.5,808.4ZM1088.3,819.4L1083.6,822.2L1083.1,817.6ZM1089.4,829.7L1084.6,832.4L1084.2,827.8ZM1088.2,843.2L1083.4,846L1083,841.4ZM1113.9,846.7L1110.2,850.7L1108.4,846.5ZM1118.1,855.2L1114.2,859.1L1112.6,854.8ZM1120.3,864L1115.9,867.3L1115,862.8ZM1121.6,872.6L1116.8,875.4L1116.4,870.8ZM1122,881.1L1116.9,883.1L1117.1,878.5ZM1121.2,889.8L1115.9,891.3L1116.6,886.7ZM1119.5,898.3L1114.1,899.3L1115.2,894.8ZM1116.7,907.2L1111.2,907.5L1112.9,903.2ZM1111.1,915.7L1105.6,915.9L1107.4,911.6ZM1086.1,921.8L1081.2,924.3L1081.1,919.7ZM1090.2,934L1085,935.9L1085.5,931.3ZM1088.7,943.9L1083.5,945.6L1084,941ZM1088.8,953.4L1083.4,954.7L1084.3,950.2ZM1090,962.5L1084.6,963.6L1085.6,959.1ZM1090.6,971.8L1085.2,972.8L1086.4,968.3ZM1089.4,980.9L1083.9,981.6L1085.3,977.2ZM963.2,779.3L957.7,779.7L959.3,775.4ZM983.9,783.5L978.6,781.8L981.8,778.4ZM992.8,783.4L988.3,780.4L992.2,778ZM1001.8,785.7L999.3,780.7L1003.9,780.6ZM1006.5,780.1L1005.7,774.6L1010.1,775.9ZM1024,772.6L1028.9,775.1L1025.4,778ZM1036.5,777.9L1038.2,783.2L1033.7,782.6ZM1044.2,774.6L1044.2,780.1L1040,778.2ZM1052.1,773.8L1050.8,779.2L1047.2,776.4ZM1062.8,772.2L1059.6,776.7L1057.3,772.7ZM1065.4,778.7L1062.1,783.1L1059.9,779ZM1092.3,772.9L1088.2,776.6L1086.8,772.2ZM973.3,979.9L969.7,984.1L967.8,979.9ZM988.9,977.2L987.6,982.6L984,979.7ZM997,979L997.9,984.4L993.5,983.2ZM1001.9,975.4L1004.2,980.5L999.6,980.4ZM1007.4,983.8L1011.1,987.8L1006.8,989.3ZM1025.8,985.7L1026.4,980.2L1030.3,982.6ZM1036.3,983.2L1033.5,978.4L1038.1,977.9ZM1043.8,986.6L1039.7,982.9L1043.9,981.1ZM1051.6,987.4L1046.8,984.8L1050.4,982ZM1062.8,989.3L1057.3,988.8L1059.6,984.8ZM1064,982.5L1058.6,981.3L1061.4,977.6ZM1015.3,836.1L1020.6,834.8L1019.7,839.3ZM1015.5,785.6L1020.9,784.3L1020,788.8ZM987.8,879.2L982.8,881.5L982.8,876.9ZM988,891.9L982.7,893.3L983.4,888.8ZM992,912.5L986.7,911L989.6,907.5ZM979.5,918.5L974.1,917.6L976.7,913.8ZM976.4,842.7L973.5,847.4L970.9,843.6ZM990.5,846.5L988.2,851.5L985.2,848ZM1054.8,879.3L1049.8,881.6L1049.8,877ZM1054.3,889.3L1049.6,892.3L1049,887.7ZM1052.8,900.1L1048.3,903.2L1047.5,898.7ZM1015.7,903.5L1020.3,900.5L1021,905.1ZM988.2,868.6L983.6,871.6L982.9,867ZM991.4,857.7L986.8,860.6L986.2,856ZM1015.1,856.1L1019.7,853.2L1020.3,857.7ZM1052.9,859L1047.6,860.4L1048.4,855.9ZM1054.3,869.5L1049,871L1049.7,866.4ZM1062,915.1L1059.2,919.8L1056.6,916ZM1063.3,844.4L1057.8,843.6L1060.3,839.7ZM1015.2,973.8L1020.5,972.5L1019.7,977ZM1015.4,923.2L1020.8,921.9L1019.9,926.4ZM1021.3,810.1L1016.4,812.6L1016.2,808ZM954.3,877.6L949.4,880.1L949.2,875.5ZM1021.3,877.6L1016.4,880.1L1016.2,875.5ZM1088.3,877.6L1083.4,880.1L1083.2,875.5ZM1021.3,947.1L1016.4,949.6L1016.2,945Z" fill="#22b042"/>
</g>
<clipPath id="cp12"><rect x="1147.8" y="767.5" width="227.4" height="226.5"/></clipPath>
<g clip-path="url(#cp12)">
<rect x="1147.8" y="767.5" width="227.4" height="226.5" fill="#1e0d0a"/>
<ellipse cx="1229.5" cy="807.8" rx="32" ry="30" fill="#e4140e" filter="url(#b14)"/>
<ellipse cx="1293.5" cy="807.8" rx="32" ry="30" fill="#e4140e" filter="url(#b14)"/>
<ellipse cx="1261.5" cy="811.8" rx="28" ry="26" fill="#e4140e" filter="url(#b8)"/>
<ellipse cx="1241.5" cy="811.8" rx="7" ry="16" fill="#f6e41a" filter="url(#b6)"/>
<ellipse cx="1281.5" cy="811.8" rx="7" ry="16" fill="#f6e41a" filter="url(#b6)"/>
<ellipse cx="1261.5" cy="777.8" rx="8" ry="14" fill="#1e0d0a" filter="url(#b8)"/>
<ellipse cx="1229.5" cy="952.8" rx="32" ry="30" fill="#e4140e" filter="url(#b14)"/>
<ellipse cx="1293.5" cy="952.8" rx="32" ry="30" fill="#e4140e" filter="url(#b14)"/>
<ellipse cx="1261.5" cy="948.8" rx="28" ry="26" fill="#e4140e" filter="url(#b8)"/>
<ellipse cx="1241.5" cy="948.8" rx="7" ry="16" fill="#f6e41a" filter="url(#b6)"/>
<ellipse cx="1281.5" cy="948.8" rx="7" ry="16" fill="#f6e41a" filter="url(#b6)"/>
<ellipse cx="1261.5" cy="982.8" rx="8" ry="14" fill="#1e0d0a" filter="url(#b8)"/>
<ellipse cx="1261.5" cy="880.8" rx="114" ry="28" fill="#e4140e" filter="url(#b10)"/>
<ellipse cx="1261.5" cy="880.8" rx="110" ry="18" fill="#f27812" filter="url(#b8)"/>
<ellipse cx="1194.5" cy="879.2" rx="26" ry="22" fill="#f6e41a" filter="url(#b8)" opacity="0.9"/>
<ellipse cx="1261.5" cy="879.2" rx="26" ry="22" fill="#f6e41a" filter="url(#b8)" opacity="0.9"/>
<ellipse cx="1328.5" cy="879.2" rx="26" ry="22" fill="#f6e41a" filter="url(#b8)" opacity="0.9"/>
<path d="M1164,863.8H1175Q1172,880.8 1175,897.8H1164Q1167,880.8 1164,863.8Z" fill="#fffbe8" filter="url(#b5)"/>
<path d="M1222,863.8H1233Q1230,880.8 1233,897.8H1222Q1225,880.8 1222,863.8Z" fill="#fffbe8" filter="url(#b5)"/>
<path d="M1290,863.8H1301Q1298,880.8 1301,897.8H1290Q1293,880.8 1290,863.8Z" fill="#fffbe8" filter="url(#b5)"/>
<path d="M1348,863.8H1359Q1356,880.8 1359,897.8H1348Q1351,880.8 1348,863.8Z" fill="#fffbe8" filter="url(#b5)"/>
<ellipse cx="1211.5" cy="842.8" rx="28" ry="8" fill="#1e0d0a" filter="url(#b10)"/>
<ellipse cx="1311.5" cy="842.8" rx="28" ry="8" fill="#1e0d0a" filter="url(#b10)"/>
<ellipse cx="1261.5" cy="842.8" rx="6" ry="10" fill="#1e0d0a" filter="url(#b6)"/>
<ellipse cx="1211.5" cy="918.8" rx="28" ry="8" fill="#1e0d0a" filter="url(#b10)"/>
<ellipse cx="1311.5" cy="918.8" rx="28" ry="8" fill="#1e0d0a" filter="url(#b10)"/>
<ellipse cx="1261.5" cy="918.8" rx="6" ry="10" fill="#1e0d0a" filter="url(#b6)"/>
<ellipse cx="1166.5" cy="800.8" rx="34" ry="34" fill="#1e0d0a" filter="url(#b16)"/>
<ellipse cx="1166.5" cy="960.8" rx="34" ry="34" fill="#1e0d0a" filter="url(#b16)"/>
<ellipse cx="1356.5" cy="800.8" rx="34" ry="34" fill="#1e0d0a" filter="url(#b16)"/>
<ellipse cx="1356.5" cy="960.8" rx="34" ry="34" fill="#1e0d0a" filter="url(#b16)"/>
<circle cx="1261.5" cy="811.8" r="19.5" fill="#e01810" filter="url(#b2)"/>
<circle cx="1194.5" cy="879.2" r="19.5" fill="#e03a10" filter="url(#b2)"/>
<circle cx="1261.5" cy="879.2" r="19.5" fill="#f07818" filter="url(#b2)"/>
<circle cx="1328.5" cy="879.2" r="19.5" fill="#e03a10" filter="url(#b2)"/>
<circle cx="1261.5" cy="948.8" r="19.5" fill="#e01810" filter="url(#b2)"/>
<g fill="none" stroke="#1c7c31" stroke-width="2.1"><circle cx="1261.5" cy="811.8" r="19.5"/><circle cx="1194.5" cy="879.2" r="19.5"/><circle cx="1261.5" cy="879.2" r="19.5"/><circle cx="1328.5" cy="879.2" r="19.5"/><circle cx="1261.5" cy="948.8" r="19.5"/></g>
<path d="M1146.3,771.1 1174.5,778.1 1200.2,786.4 1217.7,793.7 1243.4,806.8M1146.3,781.1 1181.2,790.1 1233.7,806.6M1146.4,791 1205.4,806.3 1224.1,809.5 1242,811.3M1146.4,801 1185.9,811.7 1199.7,814.5 1216.6,815.6 1235.6,814.4M1146.4,811 1184.7,822.2 1197.5,824.6 1206.5,824.7 1216.4,823.5 1226.2,821.4 1236.7,818M1146.4,821 1165.5,826.9 1189.5,836.7 1197.4,838 1206.2,836.3 1222.2,830.5 1230.2,826.6 1243.8,818.3M1146.4,830.9 1164.3,837.3 1171.4,840.9 1177.1,844.9 1180.6,848.6 1182.5,852 1183.5,855.9 1183.8,862.9 1184.7,863M1146.4,840.9 1159.6,845.6 1169.1,851 1175.6,857.2 1180.6,865.7M1146.4,851 1155.9,854 1164.1,857.7 1170,861.4 1176,866.7M1146.3,861.1 1161.8,865.3 1177.2,872.3M1146.3,871.3 1175.9,876.1M1146.3,881.6 1175.3,880.2M1146.3,891.8 1161,888.9 1176.3,884.2M1146.4,902 1162.5,896.7 1177.9,887.7M1146.4,912.1 1157.7,908.2 1166.6,903.6 1172.9,898.6 1179.2,891M1146.4,922.1 1161.4,916.7 1171.8,910.7 1177.9,904.1 1181.9,894.1M1146.4,932 1158.8,928.2 1169,924.1 1177.9,919.5 1184.3,914.8 1187.5,911 1188.5,908.1 1188.4,905.2 1186.1,896.7M1146.4,942 1187.4,929.1 1199.2,927.4 1209.1,928.7 1221.6,932.3 1230.8,936.2 1243,943M1146.4,952 1184.9,941.4 1200.7,938.9 1209.7,938.8 1219.7,939.8 1243,945.3M1146.4,962 1186,951.7 1200.7,948.6 1218.6,946.9 1237.6,947.3M1146.3,971.9 1209.3,955.8 1227.9,952 1242.8,949.9M1146.3,981.9 1168.7,976.5 1192.7,969.6 1242.7,952M1146.3,991.9 1174.5,985 1199.3,977.1 1217.6,969.2 1235.7,958.6M1279.6,806.8 1305.3,793.7 1322.8,786.4 1348.5,778.1 1376.7,771.1M1280.7,809 1341.8,790.1 1376.7,781.1M1281,811.3 1298.9,809.5 1317.6,806.3 1376.6,791M1287.4,814.4 1306.4,815.6 1323.3,814.5 1337.1,811.7 1376.6,801M1286.3,818 1296.8,821.4 1306.6,823.5 1316.5,824.7 1325.5,824.6 1338.3,822.2 1376.6,811M1279.2,818.3 1292.8,826.6 1300.8,830.5 1316.8,836.3 1325.6,838 1333.5,836.7 1357.5,826.9 1376.6,821M1338.3,863 1339.2,862.9 1339.5,855.9 1340.5,852 1342.4,848.6 1345.9,844.9 1351.6,840.9 1358.7,837.3 1376.6,830.9M1342.4,865.7 1347.4,857.2 1353.9,851 1363.4,845.6 1376.6,840.9M1346.3,867.4 1352.2,862 1358.9,857.7 1367.1,854 1376.6,851M1345.8,872.3 1361.2,865.3 1376.7,861.1M1347.1,876.1 1376.7,871.3M1347.7,880.2 1376.7,881.6M1346.7,884.2 1362,888.9 1376.7,891.8M1345.1,887.7 1360.5,896.7 1376.6,902M1343.8,891 1350.1,898.6 1356.4,903.6 1365.3,908.2 1376.6,912.1M1341.1,894.1 1345.1,904.1 1351.2,910.7 1361.6,916.7 1376.6,922.1M1336.9,896.7 1334.6,905.2 1334.5,908.1 1335.5,911 1338.7,914.8 1345.1,919.5 1354,924.1 1364.2,928.2 1376.6,932M1280,943 1292.2,936.2 1301.4,932.3 1313.9,928.7 1323.8,927.4 1335.6,929.1 1376.6,942M1280,945.3 1303.3,939.8 1313.3,938.8 1322.3,938.9 1338.1,941.4 1376.6,952M1288.4,947.1 1306.4,947 1323.3,948.8 1337,951.7 1376.6,962M1280.2,949.9 1295.1,952 1313.7,955.8 1376.7,971.9M1280.3,952 1330.3,969.6 1354.3,976.5 1376.7,981.9M1281.3,954.9 1302.7,967.8 1320.9,976.1 1346.6,984.5 1376.7,991.9M1167,766.5 1191,773.6 1209.5,781 1223.4,788.9 1236.7,799.5M1198.2,766.2 1212.8,772.7 1223.7,779.6 1231.1,786.4 1243.5,802.1 1245.1,802.9M1230.6,766 1236.1,771.7 1239.7,777.7 1246.1,799.8M1252,766.2 1253,769 1253.1,772 1248.6,787.3 1247.8,796.2M1274.6,797.7 1274.7,792.8 1273.2,786 1269.4,777.9 1263,769 1262.8,768 1263.9,766.3M1277.5,792 1279,776.1 1280.7,771.4 1284.1,766.4M1281.3,787.5 1283.5,780.8 1286.2,775.5 1289.9,770.8 1295.1,766.1M1284.8,787.6 1288.3,781.5 1292.7,776.1 1298.7,770.8 1305.4,766.5M1288.7,787 1293.9,780.9 1299.9,775.7 1307.5,770.8 1316.4,766.3M1280.3,802.8 1294.2,788.5 1304.6,780.7 1318.8,773.3 1337.6,766.5M1296,792 1307.9,784.5 1321.4,778.2 1338.4,772.2 1358.6,766.5M1177,995.2 1198.9,988 1216.1,980 1226.8,972.6 1242.6,957.4 1244.3,956.6M1209.2,995.2 1220.6,989 1229.1,982.1 1234.3,976 1243.5,960.6 1244.7,958.9 1245.6,958.8M1230.5,995.5 1236.2,989.9 1239.9,983.9 1241.9,978.3 1244.7,965.6M1251.8,995.2 1253.4,991.6 1253.5,988.6 1248.5,972.4 1247.8,966.4 1248.2,962.6M1273.9,963.2 1274.7,963.3 1274.6,968.3 1272.2,977 1267.8,984.8 1261.7,992.3 1265,995.5M1277.4,970.7 1278.7,985.6 1280.6,990.2 1284.1,995M1281.1,974.2 1283.3,980.8 1286.1,986.1 1289.9,990.8 1295.2,995.4M1284.7,974 1288.2,980.1 1292.6,985.5 1298.6,990.7 1305.4,995M1288.7,974.6 1293.8,980.7 1299.9,985.9 1307.5,990.8 1316.4,995.2M1278.2,956.9 1279.9,957.7 1294.2,973 1303.7,980.4 1317.8,987.8 1337.6,995M1276.2,824 1277.6,828.6 1278.1,834.6 1277.8,840.6 1276.7,844.4 1273.8,847 1265.8,847.7 1251.8,847.5 1247.2,845.8 1245.6,842.2 1244.8,835.3 1245.7,827.4 1246.4,824.5 1247.3,824.3M1271.6,828 1272.4,828.1 1271.7,830 1268.7,834 1265.2,835.9 1261.3,836.5 1257.4,835.8 1254.8,834.4 1252.1,831.4 1250.7,827.9M1269.4,794.1 1266.2,790.7 1261.5,789.2 1256.8,790.7 1253.6,794.1M1213,879.3 1243,879.2M1211.7,886.4 1220.8,890.1 1228.7,891.5 1236.6,890.4 1243.8,886.9M1208,892.4 1208.9,892.6 1214,899.9 1218.6,903.8 1224.8,907.1 1236.8,911.9 1240,914.3 1242,918.9 1244.6,932.6 1246.6,936.9M1203.6,896.3 1202.4,906 1203.2,908.9 1204.9,911.3 1211.2,916.3 1229.3,926.7 1239.7,936.2M1200.6,860.9 1198.2,858 1194.5,856.8 1190.9,858.3 1188.9,860.5 1189.6,860.6M1208,866.1 1208.9,865.9 1213.4,859.3 1217.8,855.3 1237.3,845.2 1239.8,842.1 1241.3,838.4M1280,879.2 1310,879.3M1278.7,886.4 1286.9,889.7 1293.9,890.6 1301.7,889.4 1311.1,886M1275.3,892.3 1276.2,892.4 1279.2,898.7 1281.7,901.9 1285.1,903.8 1289.1,904.3 1296,903.2 1302.5,900.6 1307.4,897.3 1312.8,891.4 1313.8,891.3M1271.9,895.6 1271.1,898.3 1268.7,901.5 1265.2,903.4 1261.3,903.9 1257.4,903.2 1254,901.2 1251.7,898 1251.4,895.6M1211.9,872.7 1221.2,869.3 1229.1,868.1 1236,868.9 1244.3,872.1M1213.3,864 1217.8,860.1 1223.1,857.3 1229.8,855.2 1235.7,854.7 1239.6,855.6 1242,857.4 1246.8,866.1 1247.7,866.2M1271.3,862.8 1272.1,862.6 1271.5,860.7 1269.2,857.5 1265.8,855.5 1261.8,854.8 1257.9,855.3 1254.3,857.1 1252.3,859.3 1251.1,862.8M1275.3,866.2 1276.2,866.1 1279.2,859.8 1281.7,856.7 1285.3,855 1289.3,854.7 1296.2,855.9 1302.6,858.6 1307.5,862 1313.1,867.7M1278.7,872.1 1287,868.9 1293.9,868.1 1301.8,869.3 1311.1,872.7M1279.8,939.7 1292.8,927.3 1312.7,915.7 1318.1,911.3 1319.8,908.9 1320.6,906 1319.4,896.3M1289.3,829 1296.6,834.2 1312.4,842.9 1317.9,847.2 1319.6,849.7 1320.4,852.5 1319.4,862.2M1333.4,860.6 1334.1,860.5 1332.1,858.3 1328.5,856.8 1324.8,858 1322.4,860.9M1269.4,966.4 1266.2,969.8 1261.5,971.2 1256.8,969.8 1253.6,966.4M1272.2,932.5 1270.8,929 1268.2,926.1 1265.5,924.6 1261.6,923.9 1257.7,924.5 1254.3,926.5 1251.3,930.5 1250.6,932.4 1251.4,932.6M1246.8,799.9 1254.1,799.5 1261.5,799.3 1268.9,799.5 1276.2,799.9M1242.8,811.8 1252.2,810.7 1261.5,810.2 1270.8,810.7 1280.2,811.8M1246.8,823.6 1254.1,823.2 1261.5,823 1268.9,823.2 1276.2,823.6M1179.8,867.4 1187.1,867 1194.5,866.8 1201.9,867 1209.2,867.4M1175.8,879.2 1185.2,878.2 1194.5,877.8 1203.8,878.2 1213.2,879.2M1179.8,891.1 1187.1,890.7 1194.5,890.5 1201.9,890.7 1209.2,891.1M1246.8,867.4 1254.1,867 1261.5,866.8 1268.9,867 1276.2,867.4M1242.8,879.2 1252.2,878.2 1261.5,877.8 1270.8,878.2 1280.2,879.2M1246.8,891.1 1254.1,890.7 1261.5,890.5 1268.9,890.7 1276.2,891.1M1313.8,867.4 1321.1,867 1328.5,866.8 1335.9,867 1343.2,867.4M1309.8,879.2 1319.2,878.2 1328.5,877.8 1337.8,878.2 1347.2,879.2M1313.8,891.1 1321.1,890.7 1328.5,890.5 1335.9,890.7 1343.2,891.1M1246.8,936.9 1254.1,936.5 1261.5,936.3 1268.9,936.5 1276.2,936.9M1242.8,948.8 1252.2,947.7 1261.5,947.2 1270.8,947.7 1280.2,948.8M1246.8,960.6 1254.1,960.2 1261.5,960 1268.9,960.2 1276.2,960.6" fill="none" stroke="#1c7c31" stroke-width="2.1" stroke-linejoin="round"/>
<path d="M1199.2,786L1193.7,786.7L1195.1,782.3ZM1193.1,793.9L1187.7,794.6L1189,790.2ZM1196.7,804L1191.3,805L1192.4,800.6ZM1193.3,813.2L1187.9,814.4L1188.8,809.9ZM1194.1,824L1188.7,825.3L1189.6,820.8ZM1198.8,838.3L1193.5,839.7L1194.3,835.2ZM1174.2,842.9L1168.8,841.9L1171.4,838.1ZM1169.1,851L1163.6,850.5L1165.9,846.5ZM1165,858.1L1159.5,858.1L1161.4,853.9ZM1164.9,866.7L1159.4,866.8L1161.3,862.6ZM1164.1,874.1L1158.8,875.6L1159.5,871.1ZM1163.8,880.7L1158.9,883.3L1158.7,878.7ZM1164.4,887.9L1160.2,891.5L1158.9,887.1ZM1165.5,895L1162.3,899.5L1160,895.5ZM1167.5,903.2L1164.1,907.5L1162,903.4ZM1170.9,911.2L1167.7,915.7L1165.4,911.7ZM1177.7,919.5L1174.4,923.9L1172.2,919.8ZM1198.2,927.6L1193.6,930.5L1193,926ZM1197.2,939.4L1192.7,942.5L1191.9,938ZM1194.3,949.9L1189.9,953.2L1189,948.7ZM1197.2,958.9L1192.9,962.3L1191.8,957.9ZM1197.9,967.8L1193.9,971.6L1192.4,967.2ZM1195.5,978.3L1191.4,982.1L1190,977.7ZM1329.5,784.2L1325.5,787.9L1324.1,783.5ZM1331.3,793.4L1327.2,797L1325.9,792.7ZM1332.1,802.5L1327.8,806L1326.7,801.6ZM1335.6,812L1331.2,815.2L1330.2,810.7ZM1334.8,822.9L1330.3,826.1L1329.5,821.5ZM1330.1,837.3L1325.6,840.4L1324.8,835.8ZM1353.7,839.4L1351,844.2L1348.3,840.4ZM1359.1,848L1355.9,852.5L1353.7,848.5ZM1363,855.8L1359.4,860L1357.5,855.8ZM1363.6,864.3L1360,868.4L1358.1,864.2ZM1364.9,873.2L1360.3,876.3L1359.6,871.7ZM1365.2,881L1360.1,883.1L1360.3,878.5ZM1364.4,889.6L1358.9,890.4L1360.3,886ZM1362.7,898L1357.3,897.5L1359.6,893.5ZM1360.9,905.9L1355.4,905.7L1357.5,901.6ZM1357.3,914.2L1351.9,913.7L1354.2,909.7ZM1350.6,922.3L1345.1,922L1347.2,918ZM1330.7,928.4L1325.5,930L1326.1,925.4ZM1331.7,940.4L1326.4,941.9L1327.1,937.3ZM1336,951.5L1330.6,952.7L1331.6,948.2ZM1331.6,960.4L1326.2,961.4L1327.4,956.9ZM1330.8,969.7L1325.3,970.3L1326.8,965.9ZM1329.9,979L1324.5,979.7L1325.9,975.3ZM1206.7,779.9L1201.2,780.2L1202.9,775.9ZM1227,782.6L1221.7,780.9L1224.8,777.6ZM1241.7,784.4L1238.1,780.3L1242.5,779ZM1249.6,783.9L1248.8,778.5L1253.2,779.8ZM1269.5,778.3L1273.8,781.8L1269.6,783.8ZM1279,775.6L1280.8,780.8L1276.3,780.3ZM1287.6,772.8L1287.4,778.3L1283.3,776.2ZM1295.7,773.5L1293.4,778.5L1290.4,775ZM1303.7,773.2L1300.8,777.9L1298.3,774ZM1308.6,778.6L1305.2,783L1303.1,778.9ZM1329,775.5L1325,779.4L1323.5,775ZM1216.5,979.8L1212.9,984L1211,979.8ZM1232.7,977.9L1231.2,983.2L1227.7,980.3ZM1241.6,979.2L1242.1,984.7L1237.7,983.2ZM1249.7,976.3L1253.3,980.4L1248.9,981.7ZM1268.7,983.3L1269.1,977.8L1273.1,980.1ZM1278.8,986.6L1276.1,981.8L1280.6,981.4ZM1287.5,988.8L1283.1,985.4L1287.2,983.3ZM1295.6,988.1L1290.3,986.6L1293.3,983.1ZM1303.7,988.3L1298.2,987.6L1300.7,983.7ZM1307.3,982.3L1301.8,982L1304,977.9ZM1258.3,847.6L1263.4,845.3L1263.3,849.9ZM1258.9,836.9L1263.4,833.9L1264.2,838.4ZM1258.6,788.4L1264.1,787.6L1262.8,792ZM1231,879.2L1226,881.5L1226,876.9ZM1230.7,891.9L1225.4,893.2L1226.2,888.7ZM1235.8,911.5L1230.3,911.8L1232,907.5ZM1218.6,920.6L1213.1,920.1L1215.4,916.1ZM1191.7,858L1195.4,853.9L1197.2,858.1ZM1227.1,850.4L1223.7,854.8L1221.6,850.7ZM1298,879.3L1293,881.6L1293,877ZM1297.8,890L1293.2,893L1292.5,888.4ZM1296.5,903.2L1291.9,906.2L1291.2,901.6ZM1258.5,904.3L1263.2,901.3L1263.8,905.9ZM1231.1,867.8L1226.5,870.8L1225.8,866.3ZM1235.2,854.7L1230.4,857.4L1230,852.8ZM1258.9,854.3L1264.2,852.9L1263.4,857.4ZM1296.2,855.9L1290.9,857.3L1291.7,852.8ZM1297.9,868.7L1292.6,870.2L1293.3,865.7ZM1307.4,918.8L1304.3,923.3L1301.9,919.3ZM1313.2,843.3L1307.7,842.9L1309.9,838.9ZM1325.8,855.6L1331.3,855.4L1329.4,859.7ZM1258.6,972.1L1262.8,968.5L1264.1,972.9ZM1258.2,924.4L1262.7,921.3L1263.5,925.9ZM1264.5,810.1L1259.6,812.6L1259.4,808ZM1197.5,877.6L1192.6,880.1L1192.4,875.5ZM1264.5,877.6L1259.6,880.1L1259.4,875.5ZM1331.5,877.6L1326.6,880.1L1326.4,875.5ZM1264.5,947.1L1259.6,949.6L1259.4,945Z" fill="#22b042"/>
</g>
<clipPath id="cp13"><rect x="1394.8" y="766.5" width="227.5" height="219.5"/></clipPath>
<g clip-path="url(#cp13)">
<rect x="1394.8" y="766.5" width="227.5" height="219.5" fill="#1e0d0a"/>
<ellipse cx="1420.5" cy="876.2" rx="6" ry="19" fill="#e4140e" filter="url(#b6)"/>
<ellipse cx="1462.5" cy="876.2" rx="6" ry="19" fill="#e4140e" filter="url(#b6)"/>
<ellipse cx="1420.5" cy="876.2" rx="3" ry="10" fill="#f27812" filter="url(#b5)" opacity="0.8"/>
<ellipse cx="1462.5" cy="876.2" rx="3" ry="10" fill="#f27812" filter="url(#b5)" opacity="0.8"/>
<ellipse cx="1487.5" cy="876.2" rx="6" ry="19" fill="#e4140e" filter="url(#b6)"/>
<ellipse cx="1529.5" cy="876.2" rx="6" ry="19" fill="#e4140e" filter="url(#b6)"/>
<ellipse cx="1487.5" cy="876.2" rx="4" ry="14" fill="#f6e41a" filter="url(#b5)"/>
<ellipse cx="1529.5" cy="876.2" rx="4" ry="14" fill="#f6e41a" filter="url(#b5)"/>
<ellipse cx="1554.5" cy="876.2" rx="6" ry="19" fill="#e4140e" filter="url(#b6)"/>
<ellipse cx="1596.5" cy="876.2" rx="6" ry="19" fill="#e4140e" filter="url(#b6)"/>
<ellipse cx="1554.5" cy="876.2" rx="3" ry="10" fill="#f27812" filter="url(#b5)" opacity="0.8"/>
<ellipse cx="1596.5" cy="876.2" rx="3" ry="10" fill="#f27812" filter="url(#b5)" opacity="0.8"/>
<ellipse cx="1486.5" cy="797.2" rx="12" ry="16" fill="#e4140e" filter="url(#b10)"/>
<ellipse cx="1530.5" cy="797.2" rx="12" ry="16" fill="#e4140e" filter="url(#b10)"/>
<ellipse cx="1486.5" cy="954.2" rx="12" ry="16" fill="#e4140e" filter="url(#b10)"/>
<ellipse cx="1530.5" cy="954.2" rx="12" ry="16" fill="#e4140e" filter="url(#b10)"/>
<circle cx="1508.5" cy="807.2" r="19.5" fill="#1e0d0a" filter="url(#b2)"/>
<circle cx="1441.5" cy="876.2" r="19.5" fill="#1e0d0a" filter="url(#b2)"/>
<circle cx="1508.5" cy="876.2" r="19.5" fill="#1e0d0a" filter="url(#b2)"/>
<circle cx="1575.5" cy="876.2" r="19.5" fill="#1e0d0a" filter="url(#b2)"/>
<circle cx="1508.5" cy="944.2" r="19.5" fill="#1e0d0a" filter="url(#b2)"/>
<g fill="none" stroke="#1c7c31" stroke-width="2.1"><circle cx="1508.5" cy="807.2" r="19.5"/><circle cx="1441.5" cy="876.2" r="19.5"/><circle cx="1508.5" cy="876.2" r="19.5"/><circle cx="1575.5" cy="876.2" r="19.5"/><circle cx="1508.5" cy="944.2" r="19.5"/></g>
<path d="M1393.3,770.2 1430.9,776 1458.2,782.2 1475,788.6 1491.7,799.3M1393.3,780.2 1426,785.1 1454.4,790.5 1471.8,795.1 1487.7,801.3M1393.3,790.2 1490.1,805.3M1393.3,800.2 1449.8,808 1469.7,808.9 1489.7,808.3M1393.3,810.2 1431.8,816.3 1448.8,817.6 1469.7,816.2 1490.1,811.5M1393.3,820.2 1432.7,827.3 1448.6,828.1 1460.5,826.6 1472.2,823.8 1481.4,820 1490.9,814.4M1393.3,830.2 1412.9,834.2 1436.9,841.1 1444.9,841.6 1461.3,837.2 1476.3,831.7 1483.9,826.9 1492,818.1 1492.9,818M1393.3,840.2 1409,843.5 1420.2,847.6 1427.7,852.5 1430.3,855.6 1431.8,859.3 1432.7,859.4M1393.3,850.2 1405.1,852.5 1414.6,855.6 1421.7,859.3 1426.9,863.8M1393.3,860.3 1411,863.4 1424,868.4M1393.3,870.4 1423.1,873.3M1393.3,880.6 1422.2,878.4M1393.3,890.7 1410.1,888 1424.3,883.4M1393.3,900.8 1405.1,898.5 1413.7,895.9 1420.9,892.3 1426.3,888.1M1393.3,910.8 1408,907.7 1419.3,903.6 1426.8,898.7 1431.3,892.5M1393.3,920.8 1414.8,916.2 1437.6,908.7 1443.6,908.2 1465.5,914.9 1477.6,919.7 1484.2,924.2 1492.1,933.2 1493,933.3M1393.3,930.8 1432.6,923.4 1446.6,922.5 1458.5,923.9 1471.1,926.9 1479.5,930.1 1488.2,935.1M1393.3,940.8 1431.8,934.6 1448.8,933.3 1459.8,933.7 1470.7,934.9 1490,940M1393.3,950.8 1446.8,943.2 1465.7,942.2 1484.7,942.7M1393.3,960.8 1489.2,946.1M1393.3,970.8 1425.9,965.9 1454.4,960.5 1471.8,955.9 1486.8,950.3M1393.3,980.8 1430.9,975 1458.2,968.8 1467.6,965.6 1475.9,962 1490.9,952.1M1525.4,799.3 1542.1,788.6 1558.9,782.2 1586.2,776 1623.8,770.2M1528.5,801.7 1544.3,795.5 1561.7,790.7 1590.2,785.3 1623.8,780.2M1527,805.3 1623.8,790.2M1527.4,808.3 1547.4,808.9 1567.3,808 1623.8,800.2M1527,811.5 1547.4,816.2 1568.3,817.6 1585.3,816.3 1623.8,810.2M1526.2,814.4 1535.7,820 1544.9,823.8 1556.6,826.6 1568.5,828.1 1584.4,827.3 1623.8,820.2M1524.2,818 1525.1,818.1 1533.2,826.9 1540.8,831.7 1555.8,837.2 1572.2,841.6 1580.2,841.1 1604.2,834.2 1623.8,830.2M1584.4,859.4 1585.3,859.3 1586.8,855.6 1589.4,852.5 1596.9,847.6 1608.1,843.5 1623.8,840.2M1590.2,863.8 1595.4,859.3 1602.5,855.6 1612,852.5 1623.8,850.2M1593.1,868.4 1606.1,863.4 1623.8,860.3M1594,873.3 1623.8,870.4M1594.9,878.4 1623.8,880.6M1592.8,883.4 1607,888 1623.8,890.7M1590.8,888.1 1596.2,892.3 1603.4,895.9 1612,898.5 1623.8,900.8M1585.8,892.5 1590.3,898.7 1597.8,903.6 1609.1,907.7 1623.8,910.8M1524.1,933.3 1525,933.2 1532.9,924.2 1539.5,919.7 1551.6,914.9 1573.5,908.2 1579.5,908.7 1602.3,916.2 1623.8,920.8M1526.4,936.7 1535.8,931 1545,927.2 1557.6,924 1569.5,922.5 1584.5,923.4 1623.8,930.8M1527.1,940 1546.4,934.9 1557.3,933.7 1568.3,933.3 1585.3,934.6 1623.8,940.8M1532.4,942.7 1551.4,942.2 1570.3,943.2 1623.8,950.8M1527.9,946.1 1623.8,960.8M1530.3,950.3 1545.3,955.9 1562.7,960.5 1591.2,965.9 1623.8,970.8M1526.2,952.1 1541.2,962 1549.5,965.6 1558.9,968.8 1586.2,975 1623.8,980.8M1420.9,765.5 1447.4,770.7 1465.6,776.1 1478.1,782.4 1482.8,786.1 1487.7,791.1M1465.1,765.2 1477,770.4 1485.2,776.2 1490.1,782.4 1494.5,793.6 1495.4,793.7M1487.3,765.3 1493.6,770.2 1497,775.1 1498,780 1497.2,791 1497.7,791.5M1518.5,790.8 1514,774.8 1516.1,770.3 1522.3,765.3M1520.2,784.4 1520.7,778.4 1522.6,773.9 1526.6,769.4 1532.3,765.4M1522.7,793.9 1527.5,783 1532.5,776.8 1541.6,770.6 1554.5,765.3M1528.4,789 1535.8,781 1545.2,775.2 1558.2,770.1 1576.6,765.5M1579,769 1599.7,765.4M1409.9,987 1442.4,981.3 1464.5,975 1471.9,971.9 1478.8,967.8 1484.2,963.5 1489.6,957.6M1454,987.2 1470.1,981.7 1481.4,975.4 1488.3,968.2 1494.4,957M1487.3,987.1 1494.5,981.8 1497.9,976.9 1498.7,972 1497.6,960.2M1518.3,961 1517.2,965.7 1513,974.7 1512.5,977.6 1515.1,981.8 1522.3,987.1M1519.6,968.5 1520.2,974.5 1522.3,978.9 1526.5,983.2 1532.4,987M1520.7,959 1521.5,959.2 1524.1,970.9 1527,976.1 1533.7,982 1543.4,987.2M1524.4,963.3 1528.4,971.4 1534,977.1 1542.4,982.4 1554.5,987.1M1528.4,963.5 1535,970.9 1545.2,977.3 1558.2,982.4 1576.6,987M1539.5,969.9 1549.2,975 1561.5,979.2 1578,983.2 1599.7,987.1M1517.7,824.1 1518.5,824.3 1517.9,826.2 1514.9,831.3 1511.7,833.6 1508.8,834.3 1505.8,833.8 1502.5,831.7 1500.1,828.4 1498.7,823.9M1515,789.1 1512.3,785.9 1508.5,784.8 1504.8,785.9 1502.1,789.1M1460.1,876.2 1490,876.3M1458.6,883.6 1468.1,886.6 1476,887.7 1482.9,887.2 1491.4,884.5M1454.5,889.8 1455.5,889.9 1460.5,894.7 1465.8,897.6 1473.4,900 1482.3,901.2 1488.3,900.8 1492,899.3 1494.7,896.4 1496.6,891.8 1497.4,891.6M1448.6,894 1449.5,894.1 1451.1,898.8 1454.6,902.4 1461.5,906.3 1482.7,915.1 1487.3,919 1491.1,924.8M1448.6,858.5 1449.5,858.4 1450.2,855.5 1451.7,852.9 1456.2,849 1463.3,845.4 1479.2,839.4 1485.3,835.8 1489.8,830.6 1493.7,821.4M1454.5,862.7 1455.5,862.6 1460.5,857.8 1465.8,855 1473.4,852.6 1481.4,851.5 1487.3,851.9 1491.1,853.3 1494,856 1496.6,861.2M1458.6,868.9 1468.1,865.9 1476,864.9 1483,865.4 1491.5,868.1M1527.1,876.3 1557,876.2M1525.6,883.6 1534.2,886.2 1541.1,886.7 1549.1,885.7 1557.6,883M1517.6,893.3 1516.9,898 1515.2,901.6 1512.8,903.3 1508.8,904 1504.9,903.5 1501.7,901.3 1499.6,895.7 1499.4,893.7 1500.2,893.5M1514.3,857.9 1515,857.8 1512.3,854.9 1508.5,853.8 1504.8,854.9 1502.1,857.8 1502.8,857.9M1521.7,862.9 1522.7,862.7 1525.9,858.9 1529.2,856.8 1533.1,855.7 1538,855.3 1544,856 1550.7,857.9 1555.2,860.1 1560.8,864.1M1525.6,868.9 1534.2,866.3 1541.1,865.8 1549,866.7 1557.6,869.4M1522.4,931.4 1523.3,931.3 1528,921.3 1531.9,916.9 1537.9,913.2 1553.8,907.1 1560.9,903.5 1565.4,899.6 1566.9,897 1567.6,894.1 1568.5,894M1519.7,891.6 1520.5,891.8 1522.4,896.4 1525.1,899.3 1528.8,900.8 1534.8,901.2 1543.7,900 1551.3,897.6 1556.6,894.7 1561.6,889.9 1562.6,889.8M1523.4,821.4 1527.3,830.6 1531.8,835.8 1537.9,839.4 1553.8,845.4 1560.9,849 1565.4,852.9 1566.9,855.5 1567.6,858.4 1568.5,858.5M1515,962.4 1512.3,965.6 1508.5,966.8 1504.8,965.6 1502.1,962.4M1518.4,927.7 1517,923.2 1514.7,920 1511.3,917.8 1508.4,917.3 1505.5,917.9 1502.2,920.2 1499.5,924.4 1498.6,927.2 1499.4,927.4M1493.8,795.4 1501.2,795 1508.5,794.8 1515.9,795 1523.3,795.4M1489.8,807.2 1499.2,806.2 1508.5,805.8 1517.9,806.2 1527.2,807.2M1493.8,819.1 1501.2,818.7 1508.5,818.5 1515.9,818.7 1523.3,819.1M1426.8,864.4 1434.2,864 1441.5,863.8 1448.9,864 1456.3,864.4M1422.8,876.2 1432.2,875.2 1441.5,874.8 1450.9,875.2 1460.2,876.2M1426.8,888.1 1434.2,887.7 1441.5,887.5 1448.9,887.7 1456.3,888.1M1493.8,864.4 1501.2,864 1508.5,863.8 1515.9,864 1523.3,864.4M1489.8,876.2 1499.2,875.2 1508.5,874.8 1517.9,875.2 1527.2,876.2M1493.8,888.1 1501.2,887.7 1508.5,887.5 1515.9,887.7 1523.3,888.1M1560.8,864.4 1568.2,864 1575.5,863.8 1582.9,864 1590.3,864.4M1556.8,876.2 1566.2,875.2 1575.5,874.8 1584.9,875.2 1594.2,876.2M1560.8,888.1 1568.2,887.7 1575.5,887.5 1582.9,887.7 1590.3,888.1M1493.8,932.4 1501.2,932 1508.5,931.8 1515.9,932 1523.3,932.4M1489.8,944.2 1499.2,943.2 1508.5,942.8 1517.9,943.2 1527.2,944.2M1493.8,956.1 1501.2,955.7 1508.5,955.5 1515.9,955.7 1523.3,956.1" fill="none" stroke="#1c7c31" stroke-width="2.1" stroke-linejoin="round"/>
<path d="M1447.4,779.7L1442,780.8L1443,776.4ZM1444.1,788.6L1438.8,789.9L1439.6,785.4ZM1444.7,798.2L1439.4,799.7L1440.1,795.2ZM1444.3,807.3L1439.1,808.9L1439.7,804.3ZM1444.8,817.3L1439.6,819.2L1440,814.6ZM1446.1,828L1441,830L1441.2,825.4ZM1448.7,840.5L1444.5,844L1443.3,839.6ZM1418.3,846.9L1412.8,847.4L1414.4,843.1ZM1414.1,855.4L1408.6,856.1L1410,851.7ZM1412,863.6L1406.7,865L1407.5,860.5ZM1411.2,872.1L1406,874L1406.5,869.4ZM1410.7,879.3L1405.9,882L1405.6,877.4ZM1412,887.7L1407.5,890.8L1406.7,886.2ZM1413.7,895.9L1409.6,899.5L1408.2,895.1ZM1417.2,904.4L1413.3,908.2L1411.8,903.9ZM1448.8,909.8L1443.3,910.5L1444.7,906.1ZM1444.6,922.6L1439.7,925.2L1439.4,920.6ZM1444.8,933.6L1440,936.3L1439.6,931.7ZM1441.8,943.9L1437.2,946.9L1436.5,942.3ZM1444.2,953L1439.6,956L1438.9,951.5ZM1443.6,962.5L1439.1,965.7L1438.3,961.2ZM1446.9,971.4L1442.6,974.7L1441.5,970.2ZM1575.6,778.4L1571.2,781.7L1570.2,777.2ZM1578.4,787.5L1573.9,790.7L1573,786.2ZM1578.3,797.3L1573.7,800.3L1573,795.8ZM1578.7,806.4L1574.1,809.4L1573.5,804.9ZM1578.3,816.8L1573.5,819.5L1573.1,814.9ZM1577,827.7L1572.1,830.2L1571.9,825.6ZM1574.2,842.1L1568.8,843L1569.9,838.6ZM1604.5,844.9L1600.5,848.7L1599,844.4ZM1608.7,853.6L1604.7,857.3L1603.2,852.9ZM1611,862.5L1606.5,865.7L1605.7,861.2ZM1611.9,871.6L1607.1,874.3L1606.7,869.8ZM1612.3,879.7L1607.2,881.7L1607.5,877.1ZM1611,888.7L1605.7,890.1L1606.4,885.6ZM1609.2,897.6L1603.7,898.4L1605.1,894ZM1605.5,906.4L1600,906.9L1601.6,902.5ZM1574.1,908L1570,911.7L1568.6,907.3ZM1577,923L1571.9,925L1572.2,920.4ZM1578.3,934.1L1573.2,936L1573.5,931.4ZM1581.2,944.7L1575.9,946.3L1576.6,941.7ZM1578.8,953.9L1573.5,955.4L1574.2,950.9ZM1579.4,963.6L1574,965L1574.9,960.4ZM1576,972.7L1570.6,973.8L1571.7,969.3ZM1459.4,774.3L1453.9,775L1455.2,770.6ZM1486.8,777.3L1481.4,776.3L1484,772.5ZM1497.8,779.4L1494.6,774.9L1499.1,774ZM1513.7,773.7L1517.3,777.9L1512.8,779.2ZM1525.3,770.9L1523.7,776.1L1520.2,773.1ZM1537.1,773.7L1534.3,778.4L1531.7,774.6ZM1553.1,772.1L1549.3,776.1L1547.6,771.8ZM1592.3,766.7L1587.8,769.8L1587,765.3ZM1455.4,977.6L1451.2,981.2L1449.9,976.7ZM1480.9,975.7L1477.6,980.2L1475.4,976.1ZM1498.5,973L1500,978.3L1495.4,977.5ZM1512.3,978.7L1510.9,973.4L1515.4,974.2ZM1525.2,981.8L1520,979.8L1523.3,976.6ZM1529.7,978.4L1524.4,976.8L1527.5,973.4ZM1539.1,980.3L1533.6,979.6L1536,975.7ZM1553.1,980.4L1547.6,980.7L1549.3,976.5ZM1571.7,981.7L1566.3,982.8L1567.4,978.3ZM1505.9,834.9L1510.3,831.6L1511.2,836.1ZM1505.7,783.9L1511.1,783.1L1509.8,787.5ZM1478,876.3L1473,878.6L1473.1,874ZM1478,888L1472.7,889.6L1473.3,885ZM1479.8,900.9L1474.5,902.5L1475.2,897.9ZM1472.2,910.8L1466.7,911L1468.5,906.7ZM1475.6,840.8L1471.7,844.7L1470.1,840.4ZM1479.4,851.8L1474.7,854.7L1474.1,850.2ZM1478,864.6L1473.3,867.5L1472.7,863ZM1545,876.2L1540.1,878.5L1540,873.9ZM1544.6,886.2L1539.9,889.1L1539.4,884.6ZM1505.4,903.6L1510.6,901.9L1510.1,906.5ZM1505.7,852.9L1511.1,852.1L1509.8,856.5ZM1544,856L1538.8,857.7L1539.3,853.1ZM1544.6,866.2L1539.4,867.9L1539.9,863.3ZM1546.7,909.8L1542.9,913.8L1541.2,909.5ZM1543.2,900.1L1538.6,903L1538,898.5ZM1547.2,842.9L1541.7,843.3L1543.3,839ZM1505.7,967.6L1509.8,964L1511.1,968.4ZM1505.4,917.9L1509.9,914.7L1510.8,919.2ZM1511.5,805.6L1506.7,808.1L1506.4,803.5ZM1444.5,874.6L1439.7,877.1L1439.4,872.5ZM1511.5,874.6L1506.7,877.1L1506.4,872.5ZM1578.5,874.6L1573.7,877.1L1573.4,872.5ZM1511.5,942.6L1506.7,945.1L1506.4,940.5Z" fill="#22b042"/>
</g>
<clipPath id="cp14"><rect x="1635" y="768" width="228.4" height="228"/></clipPath>
<g clip-path="url(#cp14)">
<rect x="1635" y="768" width="228.4" height="228" fill="#1e0d0a"/>
<circle cx="1749.2" cy="880.5" r="0" fill="none" stroke="#e4140e" stroke-width="0"/>
<circle cx="1749.2" cy="880.5" r="0" fill="none" stroke="#e4140e" stroke-width="0"/>

<ellipse cx="1653.2" cy="884" rx="22" ry="70" fill="#e4140e" filter="url(#b18)"/>
<ellipse cx="1845.2" cy="884" rx="22" ry="70" fill="#e4140e" filter="url(#b18)"/>
<ellipse cx="1749.2" cy="882" rx="94" ry="28" fill="#e4140e" filter="url(#b14)"/>
<ellipse cx="1662.2" cy="880.5" rx="6" ry="17" fill="#e4140e" filter="url(#b6)"/>
<ellipse cx="1702.2" cy="880.5" rx="6" ry="17" fill="#e4140e" filter="url(#b6)"/>
<ellipse cx="1729.2" cy="880.5" rx="6" ry="17" fill="#f27812" filter="url(#b6)"/>
<ellipse cx="1769.2" cy="880.5" rx="6" ry="17" fill="#f27812" filter="url(#b6)"/>
<ellipse cx="1796.2" cy="880.5" rx="6" ry="17" fill="#e4140e" filter="url(#b6)"/>
<ellipse cx="1836.2" cy="880.5" rx="6" ry="17" fill="#e4140e" filter="url(#b6)"/>
<ellipse cx="1725.2" cy="799" rx="14" ry="16" fill="#e4140e" filter="url(#b12)"/>
<ellipse cx="1773.2" cy="799" rx="14" ry="16" fill="#e4140e" filter="url(#b12)"/>
<ellipse cx="1725.2" cy="964" rx="14" ry="16" fill="#e4140e" filter="url(#b12)"/>
<ellipse cx="1773.2" cy="964" rx="14" ry="16" fill="#e4140e" filter="url(#b12)"/>
<ellipse cx="1749.2" cy="846" rx="14" ry="14" fill="#1e0d0a" filter="url(#b10)"/>
<ellipse cx="1749.2" cy="920" rx="14" ry="14" fill="#1e0d0a" filter="url(#b10)"/>
<ellipse cx="1689.2" cy="842" rx="12" ry="16" fill="#1e0d0a" filter="url(#b12)" opacity="0.9"/>
<ellipse cx="1809.2" cy="842" rx="12" ry="16" fill="#1e0d0a" filter="url(#b12)" opacity="0.9"/>
<ellipse cx="1689.2" cy="922" rx="12" ry="16" fill="#1e0d0a" filter="url(#b12)" opacity="0.9"/>
<ellipse cx="1809.2" cy="922" rx="12" ry="16" fill="#1e0d0a" filter="url(#b12)" opacity="0.9"/>
<circle cx="1749.2" cy="813" r="19.5" fill="#1e0d0a" filter="url(#b2)"/>
<circle cx="1682.2" cy="880.5" r="19.5" fill="#1e0d0a" filter="url(#b2)"/>
<circle cx="1749.2" cy="880.5" r="19.5" fill="#1e0d0a" filter="url(#b2)"/>
<circle cx="1816.2" cy="880.5" r="19.5" fill="#1e0d0a" filter="url(#b2)"/>
<circle cx="1749.2" cy="950" r="19.5" fill="#1e0d0a" filter="url(#b2)"/>
<g fill="none" stroke="#1c7c31" stroke-width="2.1"><circle cx="1749.2" cy="813" r="19.5"/><circle cx="1682.2" cy="880.5" r="19.5"/><circle cx="1749.2" cy="880.5" r="19.5"/><circle cx="1816.2" cy="880.5" r="19.5"/><circle cx="1749.2" cy="950" r="19.5"/></g>
<path d="M1633.5,771.6 1666.7,779.3 1694.4,787.7 1711.9,795 1731.7,806.5M1633.5,781.6 1682,793.9 1730.6,809.3M1633.5,791.6 1692.6,806.7 1711.3,810.1 1730.2,812.3M1633.6,801.5 1676,813.2 1689.7,816.1 1709.6,817.2 1730.5,815.3M1633.6,811.5 1675.5,824.7 1688.3,827.1 1698.3,826.9 1710.1,825.2 1719.8,822.6 1730,818.5M1633.6,821.5 1654.4,828.5 1665.3,833.5 1679.3,841.2 1685.1,842.8 1690.9,841.5 1715.3,832.6 1722.4,828.8 1730.2,822.6M1633.6,831.4 1651.3,838.1 1658.3,842 1663.1,845.7 1666.5,849.3 1668.5,852.8 1669.9,857.6 1670.6,864.5 1671.5,864.7M1633.6,841.4 1646.7,846.3 1656.1,851.9 1662.5,858.3 1668,867.7M1633.6,851.4 1644,855 1652,859 1658.6,863.6 1665.8,870.4M1633.6,861.6 1649.8,866.4 1664.1,873.5M1633.5,871.8 1648.4,873.9 1663,877.2M1633.5,882 1663.5,881.1M1633.5,892.3 1648.2,889.5 1663.6,884.9M1633.6,902.5 1649.7,897.1 1665.3,888.4M1633.6,912.6 1644,908.9 1652.8,904.3 1659.9,898.8 1666.5,891.4M1633.6,922.6 1646.7,917.7 1657,911.7 1663.3,905.3 1668.5,894.5 1669.4,894.3M1633.6,932.6 1653.3,925.3 1660.3,921.4 1665.9,917.3 1669.2,913.6 1671.5,909.1 1672.1,905.2 1671.7,897.2 1672.6,897M1633.6,942.5 1653.6,936.2 1678.5,925.8 1686.4,924.4 1697.2,926 1713.4,931 1721.5,934.9 1731.2,941.9 1732.2,942M1633.6,952.5 1675.8,940.1 1689.5,937.7 1699.5,937.7 1710.4,939.1 1720.1,941.4 1730.5,945.2M1633.6,962.5 1676.1,951.2 1690.8,948.2 1709.7,946.8 1730.6,948.2M1633.5,972.4 1693.7,957.4 1728.1,951.3M1633.5,982.4 1658.9,976.6 1686.9,968.9 1707.9,962.4 1726.6,955.4M1633.5,992.4 1668.6,984.4 1696.3,975.9 1713.7,968.2 1731.3,956.8M1766.7,806.5 1786.5,795 1804,787.7 1831.7,779.3 1864.9,771.6M1767.8,809.3 1816.4,793.9 1864.9,781.6M1768.2,812.3 1787.1,810.1 1805.8,806.7 1864.9,791.6M1767.9,815.3 1788.8,817.2 1808.7,816.1 1822.4,813.2 1864.8,801.5M1768.4,818.5 1778.6,822.6 1788.3,825.2 1800.1,826.9 1810.1,827.1 1822.9,824.7 1864.8,811.5M1766.6,821.4 1775.2,828.3 1782.2,832.2 1807.5,841.5 1813.3,842.8 1819.1,841.2 1833.1,833.5 1844,828.5 1864.8,821.5M1826.9,864.7 1827.8,864.5 1828.5,857.6 1829.9,852.8 1831.9,849.3 1835.3,845.7 1840.1,842 1847.1,838.1 1864.8,831.4M1830.4,867.7 1835.9,858.3 1842.3,851.9 1851.7,846.3 1864.8,841.4M1832.6,870.4 1839.8,863.6 1846.4,859 1854.4,855 1864.8,851.4M1834.3,873.5 1848.6,866.4 1864.8,861.6M1835.4,877.2 1850,873.9 1864.9,871.8M1834.9,881.1 1864.9,882M1834.8,884.9 1850.2,889.5 1864.9,892.3M1833.1,888.4 1848.7,897.1 1864.8,902.5M1831.9,891.4 1838.5,898.8 1845.6,904.3 1854.4,908.9 1864.8,912.6M1829,894.3 1829.9,894.5 1835.1,905.3 1841.4,911.7 1851.7,917.7 1864.8,922.6M1826.6,898.2 1826.3,905.2 1826.9,909.1 1829.2,913.6 1832.5,917.3 1838.1,921.4 1845.1,925.3 1864.8,932.6M1766.2,942 1767.2,941.9 1776.9,934.9 1785,931 1801.2,926 1812,924.4 1819.9,925.8 1844.8,936.2 1864.8,942.5M1767.9,945.2 1778.3,941.4 1788,939.1 1798.9,937.7 1808.9,937.7 1822.6,940.1 1864.8,952.5M1772.7,947.7 1791.7,946.9 1809.6,948.5 1823.3,951.4 1864.8,962.5M1768.3,951.1 1804.7,957.4 1864.9,972.4M1768.1,954 1789.6,962.1 1809.6,968.4 1838.6,976.3 1864.9,982.4M1767.1,956.8 1784.7,968.2 1802.1,975.9 1829.8,984.4 1864.9,992.4M1653.2,766.9 1681.3,774.2 1702,781.6 1716,789.2 1727.9,799.8M1685.2,767 1703.1,773.4 1716.2,780.6 1724.3,788 1733.7,801.9M1716.5,766.5 1725.7,772.5 1731.1,778.4 1733.5,783.9 1735.7,798.7 1736.6,798.9M1737.5,766.9 1747.4,773.7 1749.2,774.3 1761,766.8M1761.4,797.9 1760.8,783.1 1761.7,778.2 1765.4,772.4 1772.5,766.8M1764.7,787.2 1767,780.6 1770.5,775.8 1775.8,771.2 1783.5,766.6M1763.7,801.1 1765.1,800.2 1772.1,787 1778.1,780.4 1789,773.3 1804.7,766.8M1768.7,798.8 1777.7,788.1 1788.3,780.6 1803.8,773.7 1825.8,766.9M1779.7,791.6 1790.7,784.7 1804.5,778.8 1823.5,772.7 1846.8,766.9M1642.2,997.2 1672.4,990.1 1695.3,983 1711.6,975.5 1723.7,966.6M1674.2,997.1 1697.1,989.9 1712.5,982.7 1722.7,974.7 1732.7,961 1733.6,960.8M1695.3,997.2 1709.2,991.6 1719.4,985.3 1725.8,979 1730.7,970.4M1716.5,997.4 1725.8,991.6 1731.9,985.1 1734.3,979.6 1735.9,964.7 1736.8,964.5M1736.5,997.5 1745.2,992.5 1749,991.4 1752.9,992.4 1761.6,997.3M1760.6,965.3 1761.4,965.5 1761.4,966.5 1760,980.4 1760.7,985.3 1764.6,991.1 1772.5,997.1M1763.7,973.2 1765.4,981 1769,987 1774.9,992.3 1783.5,997.4M1764.8,966.9 1768.2,977.3 1773.3,984.7 1782,991.4 1793.7,997.1M1768.3,967 1775.1,976.9 1784.3,984.5 1797.8,991.2 1815.7,997.2M1775.8,971.5 1785.2,978.9 1797.6,985.3 1814.6,991.3 1836.8,997.2M1774.4,966.1 1786.5,975 1802.8,982.5 1826.7,989.9 1857.8,997.1M1759.6,829.4 1758.4,832.9 1755.7,835.9 1753.1,837.4 1749.2,838.1 1745.3,837.4 1742.7,836 1740.1,833 1738.8,829.4M1759.2,796.5 1758.1,792.9 1755.5,788.7 1752.4,786.1 1749.6,785.3 1746.6,785.8 1743.4,788.1 1740.6,792.2 1739.2,796 1739.6,796.4M1700.7,880.5 1730.7,880.4M1699.3,887.7 1708.6,891.3 1716.5,892.5 1723.4,891.5 1731.5,887.9M1695.7,893.7 1696.6,893.8 1701.8,901.2 1706.5,904.8 1712.9,907.6 1720.8,908.9 1726.7,908.1 1730.1,906.1 1732.4,902.8 1735.6,894.5 1736.5,894.4M1691.4,897.5 1689.4,908.1 1689.9,911 1691.7,913.5 1699.1,918.5 1719.9,928.1 1724.7,931.8 1729.5,936.8M1687.9,898.9 1688.7,899 1686.8,901.3 1683.2,903 1679.4,902 1676.5,899.3 1677.2,899.1M1687.9,862.1 1688.7,862 1686.8,859.7 1683.2,858 1679.4,859 1676.5,861.7 1677.2,861.9M1695.7,867.3 1696.6,867.2 1701.8,859.8 1706.5,856.2 1713.8,853 1722.7,851.7 1727.6,852.3 1730.9,854.5 1733,857.9 1735.4,865.5 1736.7,866.4M1767.7,880.5 1797.7,880.5M1766.4,887.6 1774.6,890.9 1781.5,892 1789.5,890.9 1798.8,887.5M1762.9,893.6 1763.8,893.7 1767.1,899.9 1770.6,903.4 1774.2,905.2 1779.1,905.8 1785,905.1 1791.5,902.5 1796.3,898.9 1801.4,892.8M1758.9,897.1 1758.3,900.4 1756,903.6 1753.5,905.3 1749.6,906.2 1745.7,905.6 1743.1,904.2 1741,902 1739.4,898.4M1699.6,873.7 1708.9,870.2 1716.8,869.2 1723.7,870.1 1732.1,873.4M1758.6,864 1759.4,863.8 1758.8,861.9 1756.2,857.7 1752.8,855.6 1748.9,855 1745,855.8 1742.5,857.4 1740.1,860.6 1739.5,863.9M1762.9,867.4 1763.8,867.3 1767.1,861.2 1770.6,857.6 1774.3,856 1779.2,855.5 1785.2,856.4 1791.6,859 1795.7,861.9 1800.9,868 1801.8,868.1M1821.2,899.1 1821.9,899.3 1819,902 1815.2,903 1811.6,901.3 1809.7,899 1810.5,898.9M1801.7,844 1806.5,847.5 1808.6,850.9 1808.8,853.9 1807,863.5M1756.3,968.1 1753,971.4 1749.2,972.5 1745.4,971.4 1742.1,968.1M1758.9,933.7 1759.7,933.6 1759.1,931.7 1756.4,927.5 1753,925.4 1749.1,924.7 1745.2,925.5 1742.6,927 1740.1,930.1 1738.8,933.6M1734.5,801.2 1741.8,800.8 1749.2,800.6 1756.6,800.8 1763.9,801.2M1730.5,813 1739.8,811.9 1749.2,811.5 1758.6,811.9 1767.9,813M1734.5,824.8 1741.8,824.4 1749.2,824.2 1756.6,824.4 1763.9,824.8M1667.5,868.7 1674.8,868.3 1682.2,868.1 1689.6,868.3 1696.9,868.7M1663.5,880.5 1672.8,879.4 1682.2,879 1691.6,879.4 1700.9,880.5M1667.5,892.3 1674.8,891.9 1682.2,891.7 1689.6,891.9 1696.9,892.3M1734.5,868.7 1741.8,868.3 1749.2,868.1 1756.6,868.3 1763.9,868.7M1730.5,880.5 1739.8,879.4 1749.2,879 1758.6,879.4 1767.9,880.5M1734.5,892.3 1741.8,891.9 1749.2,891.7 1756.6,891.9 1763.9,892.3M1801.5,868.7 1808.8,868.3 1816.2,868.1 1823.6,868.3 1830.9,868.7M1797.5,880.5 1806.8,879.4 1816.2,879 1825.6,879.4 1834.9,880.5M1801.5,892.3 1808.8,891.9 1816.2,891.7 1823.6,891.9 1830.9,892.3M1734.5,938.2 1741.8,937.8 1749.2,937.6 1756.6,937.8 1763.9,938.2M1730.5,950 1739.8,948.9 1749.2,948.5 1758.6,948.9 1767.9,950M1734.5,961.8 1741.8,961.4 1749.2,961.2 1756.6,961.4 1763.9,961.8" fill="none" stroke="#1c7c31" stroke-width="2.1" stroke-linejoin="round"/>
<path d="M1687.2,785.5L1681.7,786.2L1683,781.8ZM1685.3,795L1679.8,795.7L1681.2,791.3ZM1684.4,804.6L1679,805.5L1680.1,801.1ZM1684.3,815L1678.9,816.2L1679.8,811.7ZM1684.3,826.4L1679,827.7L1679.9,823.2ZM1685.1,842.8L1679.6,843.7L1680.8,839.3ZM1661,844.1L1655.7,842.9L1658.5,839.2ZM1656.5,852.2L1651,851.6L1653.4,847.6ZM1653.8,859.8L1648.3,859.7L1650.4,855.6ZM1652.2,867.1L1646.8,867.9L1648.1,863.5ZM1651.3,874.4L1646,875.9L1646.7,871.4ZM1651.5,881.5L1646.6,883.9L1646.4,879.3ZM1651.6,888.5L1647.5,892.1L1646.1,887.7ZM1652.7,895.5L1649.4,899.9L1647.2,895.9ZM1654.6,903.4L1651.2,907.8L1649.1,903.7ZM1657.8,911.2L1654.7,915.7L1652.4,911.7ZM1663,919.4L1660.4,924.2L1657.6,920.5ZM1686.3,924.4L1681.8,927.6L1681,923ZM1684.6,938.5L1680.1,941.7L1679.3,937.1ZM1684.4,949.5L1680,952.8L1679,948.2ZM1683.5,959.9L1679.2,963.4L1678.1,958.9ZM1683.5,969.9L1679.3,973.4L1678,969ZM1687.2,978.7L1683.1,982.3L1681.8,977.9ZM1817,783.8L1812.9,787.4L1811.5,783ZM1818.8,793.2L1814.7,796.9L1813.4,792.5ZM1819.8,803.1L1815.5,806.5L1814.4,802.1ZM1820,813.7L1815.6,817L1814.7,812.5ZM1819.9,825.2L1815.5,828.4L1814.6,823.9ZM1818.2,841.5L1813.9,845L1812.7,840.5ZM1842.1,840.5L1839.5,845.3L1836.8,841.7ZM1847.1,849.1L1843.9,853.6L1841.6,849.7ZM1850,857.2L1846.5,861.5L1844.5,857.3ZM1851.9,865.4L1847.8,869L1846.5,864.6ZM1853,873.5L1848.4,876.5L1847.7,871.9ZM1852.9,881.7L1847.8,883.8L1848,879.2ZM1852.6,890.2L1847.1,890.9L1848.4,886.5ZM1851,898.4L1845.5,898L1847.7,893.9ZM1849.2,906.2L1843.7,905.9L1845.8,901.8ZM1845.7,914.2L1840.3,913.7L1842.6,909.7ZM1841.2,923.1L1835.7,922.7L1837.9,918.7ZM1818,925.5L1812.6,926.8L1813.5,922.3ZM1819.7,939.6L1814.4,941L1815.2,936.4ZM1822.3,951.2L1817,952.4L1817.9,947.9ZM1819.8,961.2L1814.3,962.2L1815.5,957.7ZM1818.8,970.9L1813.4,971.8L1814.6,967.4ZM1816.9,980.4L1811.4,981.2L1812.8,976.8ZM1695.8,779.4L1690.3,779.9L1691.9,775.5ZM1716.1,780.6L1710.6,780.2L1712.8,776.1ZM1732.9,782.5L1728.8,778.8L1733,777ZM1752.1,775.2L1746.6,775.8L1748.1,771.5ZM1761.8,777.2L1763.3,782.5L1758.7,781.7ZM1773.9,772.8L1771.6,777.8L1768.6,774.3ZM1782.4,777.6L1779.5,782.2L1777,778.4ZM1797,776.7L1793.4,780.9L1791.5,776.7ZM1815,775.4L1810.9,779.1L1809.5,774.8ZM1687.6,985.4L1683.5,989L1682.1,984.6ZM1710.6,983.6L1707.1,987.8L1705.1,983.6ZM1718.6,985.9L1715.5,990.4L1713.1,986.5ZM1733.5,981.5L1733.7,987L1729.4,985.2ZM1751.9,990.5L1747.8,994.2L1746.4,989.8ZM1760.9,986.4L1757.8,981.8L1762.4,981.1ZM1772.3,990L1767.1,988.4L1770.1,985ZM1777.3,987.7L1771.9,986.5L1774.7,982.9ZM1791.5,988L1786,987.9L1788.1,983.8ZM1807.5,988.8L1802,989.3L1803.6,984.9ZM1817.1,986.9L1811.7,987.7L1813,983.3ZM1746.3,838.6L1750.8,835.5L1751.6,840ZM1746.2,785.9L1750.7,782.7L1751.6,787.2ZM1718.7,880.5L1713.7,882.8L1713.7,878.2ZM1718.5,892.8L1713.2,894.3L1713.9,889.8ZM1720.2,908.8L1714.9,910.3L1715.7,905.7ZM1706.5,921.9L1700.9,921.9L1702.9,917.7ZM1679.8,902.1L1685.2,901.2L1684.1,905.6ZM1679.8,858.9L1684.1,855.4L1685.2,859.9ZM1720.5,852L1716,855L1715.3,850.5ZM1785.7,880.5L1780.7,882.8L1780.7,878.2ZM1785.5,891.4L1780.9,894.4L1780.3,889.8ZM1784.6,905.1L1779.9,908L1779.3,903.5ZM1746.9,906.9L1751.2,903.5L1752.3,908ZM1718.8,868.9L1714.2,871.8L1713.5,867.3ZM1746.6,854.7L1751.9,853.1L1751.2,857.7ZM1784.7,856.3L1779.4,857.9L1780.1,853.3ZM1812.8,903.6L1817,900.1L1818.2,904.6ZM1809,855.3L1806.3,850.5L1810.8,850.1ZM1746.3,973.3L1750.5,969.8L1751.7,974.2ZM1746.6,924.3L1752,922.9L1751.2,927.4ZM1752.2,811.4L1747.3,813.9L1747.1,809.3ZM1685.2,878.9L1680.3,881.4L1680.1,876.8ZM1752.2,878.9L1747.3,881.4L1747.1,876.8ZM1819.2,878.9L1814.3,881.4L1814.1,876.8ZM1752.2,948.4L1747.3,950.9L1747.1,946.3Z" fill="#22b042"/>
</g>
<clipPath id="cp20"><rect x="660.6" y="1009.7" width="227.6" height="228.1"/></clipPath>
<g clip-path="url(#cp20)">
<rect x="660.6" y="1009.7" width="227.6" height="228.1" fill="#8e1410"/>
<ellipse cx="774.4" cy="1123.8" rx="96" ry="96" fill="#b81410" filter="url(#b36)"/>
<ellipse cx="774.4" cy="1056.2" rx="40" ry="46" fill="#e4140e" filter="url(#b18)"/>
<ellipse cx="774.4" cy="1056.2" rx="27" ry="31" fill="#ee5a18" filter="url(#b4)"/>
<ellipse cx="774.4" cy="1056.2" rx="23" ry="27" fill="#e41a10" filter="url(#b4)"/>
<ellipse cx="774.4" cy="1191.2" rx="40" ry="46" fill="#e4140e" filter="url(#b18)"/>
<ellipse cx="774.4" cy="1191.2" rx="27" ry="31" fill="#ee5a18" filter="url(#b4)"/>
<ellipse cx="774.4" cy="1191.2" rx="23" ry="27" fill="#e41a10" filter="url(#b4)"/>
<ellipse cx="706.9" cy="1123.8" rx="36" ry="38" fill="#e4140e" filter="url(#b16)"/>
<ellipse cx="841.9" cy="1123.8" rx="36" ry="38" fill="#e4140e" filter="url(#b16)"/>
<ellipse cx="774.4" cy="1069.2" rx="16" ry="9" fill="#f8a020" filter="url(#b8)"/>
<ellipse cx="774.4" cy="1178.2" rx="16" ry="9" fill="#f8a020" filter="url(#b8)"/>
<ellipse cx="762.4" cy="1052.2" rx="3.6" ry="8" fill="#1a0a08" filter="url(#b2)"/>
<ellipse cx="786.4" cy="1052.2" rx="3.6" ry="8" fill="#1a0a08" filter="url(#b2)"/>
<ellipse cx="762.4" cy="1191.2" rx="3.6" ry="8" fill="#1a0a08" filter="url(#b2)"/>
<ellipse cx="786.4" cy="1191.2" rx="3.6" ry="8" fill="#1a0a08" filter="url(#b2)"/>
<ellipse cx="694.9" cy="1124.8" rx="6.5" ry="15" fill="#1a0a08" filter="url(#b3)"/>
<ellipse cx="718.9" cy="1124.8" rx="4.5" ry="12" fill="#1a0a08" filter="url(#b3)"/>
<ellipse cx="829.9" cy="1124.8" rx="4.5" ry="12" fill="#1a0a08" filter="url(#b3)"/>
<ellipse cx="851.9" cy="1124.8" rx="6.5" ry="15" fill="#1a0a08" filter="url(#b3)"/>
<rect x="757.9" y="1102.2" width="33" height="43" rx="6" fill="#1c1410" filter="url(#b3)"/>
</g>
<clipPath id="cp21"><rect x="904.6" y="1009.7" width="227.4" height="228.1"/></clipPath>
<g clip-path="url(#cp21)">
<rect x="904.6" y="1009.7" width="227.4" height="228.1" fill="#8e1410"/>
<ellipse cx="1018.3" cy="1123.8" rx="70" ry="112" fill="#c01410" filter="url(#b32)"/>
<ellipse cx="1018.3" cy="1123.8" rx="38" ry="112" fill="#e4140e" filter="url(#b20)"/>
<ellipse cx="1018.3" cy="1082.2" rx="20" ry="15" fill="#f27812" filter="url(#b8)"/>
<ellipse cx="1018.3" cy="1056.2" rx="11" ry="20" fill="#f6e41a" filter="url(#b6)"/>
<ellipse cx="999.3" cy="1060.2" rx="3" ry="6" fill="#1a0a08" filter="url(#b2)"/>
<ellipse cx="1037.3" cy="1060.2" rx="3" ry="6" fill="#1a0a08" filter="url(#b2)"/>
<ellipse cx="1018.3" cy="1165.2" rx="20" ry="15" fill="#f27812" filter="url(#b8)"/>
<ellipse cx="1018.3" cy="1191.2" rx="11" ry="20" fill="#f6e41a" filter="url(#b6)"/>
<ellipse cx="999.3" cy="1187.2" rx="3" ry="6" fill="#1a0a08" filter="url(#b2)"/>
<ellipse cx="1037.3" cy="1187.2" rx="3" ry="6" fill="#1a0a08" filter="url(#b2)"/>
<ellipse cx="1018.3" cy="1123.8" rx="8" ry="20" fill="#f4a010" filter="url(#b6)"/>
<ellipse cx="1018.3" cy="1123.8" rx="4" ry="12" fill="#f6e41a" filter="url(#b6)"/>
<ellipse cx="999.3" cy="1123.8" rx="3.5" ry="8" fill="#1a0a08" filter="url(#b2)"/>
<ellipse cx="1037.3" cy="1123.8" rx="3.5" ry="8" fill="#1a0a08" filter="url(#b2)"/>
<ellipse cx="950.8" cy="1123.8" rx="13" ry="20" fill="#e4140e" filter="url(#b5)"/>
<ellipse cx="950.8" cy="1123.8" rx="4" ry="6" fill="#f27812" filter="url(#b6)"/>
<ellipse cx="932.8" cy="1123.8" rx="8" ry="30" fill="#1a0a08" filter="url(#b8)" opacity="0.9"/>
<ellipse cx="967.8" cy="1123.8" rx="3" ry="7" fill="#1a0a08" filter="url(#b2)"/>
<ellipse cx="1085.8" cy="1123.8" rx="13" ry="20" fill="#e4140e" filter="url(#b5)"/>
<ellipse cx="1085.8" cy="1123.8" rx="4" ry="6" fill="#f27812" filter="url(#b6)"/>
<ellipse cx="1103.8" cy="1123.8" rx="8" ry="30" fill="#1a0a08" filter="url(#b8)" opacity="0.9"/>
<ellipse cx="1068.8" cy="1123.8" rx="3" ry="7" fill="#1a0a08" filter="url(#b2)"/>
</g>
<clipPath id="cp22"><rect x="1147.8" y="1009.7" width="227.4" height="228.1"/></clipPath>
<g clip-path="url(#cp22)">
<rect x="1147.8" y="1009.7" width="227.4" height="228.1" fill="#8e1410"/>
<ellipse cx="1261.5" cy="1123.8" rx="96" ry="96" fill="#b01410" filter="url(#b36)"/>
<ellipse cx="1261.5" cy="1123.8" rx="48" ry="116" fill="#e4140e" filter="url(#b20)"/>
<ellipse cx="1261.5" cy="1123.8" rx="108" ry="44" fill="#e4140e" filter="url(#b20)"/>
<rect x="1241.5" y="1053.8" width="40" height="140" fill="#f6e41a" filter="url(#b6)"/>
<ellipse cx="1261.5" cy="1056.2" rx="31" ry="41" fill="#f27812" filter="url(#b6)"/>
<ellipse cx="1261.5" cy="1056.2" rx="28" ry="38" fill="#f6e41a" filter="url(#b5)"/>
<ellipse cx="1261.5" cy="1191.2" rx="31" ry="41" fill="#f27812" filter="url(#b6)"/>
<ellipse cx="1261.5" cy="1191.2" rx="28" ry="38" fill="#f6e41a" filter="url(#b5)"/>
<ellipse cx="1261.5" cy="1123.8" rx="27" ry="34" fill="#f27812" filter="url(#b6)"/>
<ellipse cx="1261.5" cy="1123.8" rx="24" ry="31" fill="#f6e41a" filter="url(#b5)"/>
<ellipse cx="1194" cy="1123.8" rx="26" ry="34" fill="#f27812" filter="url(#b6)"/>
<ellipse cx="1194" cy="1123.8" rx="23" ry="31" fill="#f6e41a" filter="url(#b5)"/>
<ellipse cx="1329" cy="1123.8" rx="26" ry="34" fill="#f27812" filter="url(#b6)"/>
<ellipse cx="1329" cy="1123.8" rx="23" ry="31" fill="#f6e41a" filter="url(#b5)"/>
<ellipse cx="1261.5" cy="1056.2" rx="21" ry="30.5" fill="#ffffff" filter="url(#b5)"/>
<ellipse cx="1261.5" cy="1191.2" rx="21" ry="30.5" fill="#ffffff" filter="url(#b5)"/>
<ellipse cx="1261.5" cy="1123.8" rx="18" ry="24.8" fill="#ffffff" filter="url(#b5)"/>
<ellipse cx="1194" cy="1123.8" rx="16.5" ry="22.3" fill="#ffffff" filter="url(#b5)"/>
<ellipse cx="1329" cy="1123.8" rx="16.5" ry="22.3" fill="#ffffff" filter="url(#b5)"/>
</g>
<clipPath id="cp23"><rect x="1394.8" y="1009.7" width="228.2" height="228.1"/></clipPath>
<g clip-path="url(#cp23)">
<rect x="1394.8" y="1009.7" width="228.2" height="228.1" fill="#8e1410"/>
<ellipse cx="1508.9" cy="1123.8" rx="96" ry="96" fill="#b01410" filter="url(#b36)"/>
<ellipse cx="1508.9" cy="1123.8" rx="40" ry="116" fill="#e4140e" filter="url(#b20)"/>
<ellipse cx="1508.9" cy="1123.8" rx="104" ry="50" fill="#e4140e" filter="url(#b24)"/>
<rect x="1491.9" y="1063.8" width="34" height="120" fill="#f27812" filter="url(#b6)"/>
<ellipse cx="1508.9" cy="1056.2" rx="21" ry="28.7" fill="#f27812" filter="url(#b6)"/>
<ellipse cx="1508.9" cy="1056.2" rx="19" ry="26.7" fill="#f6e41a" filter="url(#b6)"/>
<ellipse cx="1508.9" cy="1191.2" rx="21" ry="28.7" fill="#f27812" filter="url(#b6)"/>
<ellipse cx="1508.9" cy="1191.2" rx="19" ry="26.7" fill="#f6e41a" filter="url(#b6)"/>
<ellipse cx="1508.9" cy="1123.8" rx="24.4" ry="33" fill="#f27812" filter="url(#b6)"/>
<ellipse cx="1508.9" cy="1123.8" rx="22.4" ry="31" fill="#f6e41a" filter="url(#b6)"/>
<ellipse cx="1441.4" cy="1123.8" rx="22" ry="31" fill="#f27812" filter="url(#b6)"/>
<ellipse cx="1441.4" cy="1123.8" rx="20" ry="29" fill="#f6e41a" filter="url(#b6)"/>
<ellipse cx="1576.4" cy="1123.8" rx="22" ry="31" fill="#f27812" filter="url(#b6)"/>
<ellipse cx="1576.4" cy="1123.8" rx="20" ry="29" fill="#f6e41a" filter="url(#b6)"/>
<ellipse cx="1508.9" cy="1053.2" rx="5" ry="9" fill="#f8f090" filter="url(#b6)"/>
<ellipse cx="1508.9" cy="1194.2" rx="5" ry="9" fill="#f8f090" filter="url(#b6)"/>
<ellipse cx="1508.9" cy="1123.8" rx="12.6" ry="19.4" fill="#ffffff" filter="url(#b8)"/>
</g>
<clipPath id="cp24"><rect x="1635" y="1009.7" width="227.5" height="228.1"/></clipPath>
<g clip-path="url(#cp24)">
<rect x="1635" y="1009.7" width="227.5" height="228.1" fill="#8e1410"/>
<ellipse cx="1748.8" cy="1123.8" rx="96" ry="96" fill="#b01410" filter="url(#b36)"/>
<ellipse cx="1748.8" cy="1123.8" rx="112" ry="56" fill="#e4140e" filter="url(#b24)"/>
<ellipse cx="1748.8" cy="1123.8" rx="38" ry="100" fill="#e4140e" filter="url(#b20)"/>
<ellipse cx="1748.8" cy="1056.2" rx="15" ry="20" fill="#f06a14" filter="url(#b8)"/>
<ellipse cx="1748.8" cy="1191.2" rx="15" ry="20" fill="#f06a14" filter="url(#b8)"/>
<ellipse cx="1748.8" cy="1056.2" rx="10" ry="15" fill="#f08a18" filter="url(#b8)"/>
<ellipse cx="1748.8" cy="1191.2" rx="10" ry="15" fill="#f08a18" filter="url(#b8)"/>
<rect x="1653.8" y="1101.8" width="190" height="44" fill="#f07014" filter="url(#b8)"/>
<ellipse cx="1681.2" cy="1123.8" rx="27" ry="34" fill="#f27812" filter="url(#b6)"/>
<ellipse cx="1681.2" cy="1123.8" rx="25" ry="32" fill="#f6e41a" filter="url(#b6)"/>
<ellipse cx="1748.8" cy="1123.8" rx="30.2" ry="39.9" fill="#f27812" filter="url(#b6)"/>
<ellipse cx="1748.8" cy="1123.8" rx="28.2" ry="37.9" fill="#f6e41a" filter="url(#b6)"/>
<ellipse cx="1816.2" cy="1123.8" rx="27" ry="34" fill="#f27812" filter="url(#b6)"/>
<ellipse cx="1816.2" cy="1123.8" rx="25" ry="32" fill="#f6e41a" filter="url(#b6)"/>
<ellipse cx="1681.2" cy="1123.8" rx="12" ry="17" fill="#fcf6d0" filter="url(#b8)"/>
<ellipse cx="1816.2" cy="1123.8" rx="12" ry="17" fill="#fcf6d0" filter="url(#b8)"/>
<ellipse cx="1748.8" cy="1123.8" rx="17.5" ry="21" fill="#ffffff" filter="url(#b8)"/>
</g>
<linearGradient id="gStripe" x1="0" y1="0" x2="1" y2="0"><stop offset="0" stop-color="#e01810"/><stop offset="0.33" stop-color="#c81410"/><stop offset="0.5" stop-color="#2a0806"/><stop offset="0.67" stop-color="#c81410"/><stop offset="1" stop-color="#e01810"/></linearGradient>
<linearGradient id="cbE" x1="0" y1="0" x2="0" y2="1"><stop offset="0" stop-color="#fffdf0"/><stop offset="0.08" stop-color="#fbf0a0"/><stop offset="0.18" stop-color="#f5e200"/><stop offset="0.3" stop-color="#f5c000"/><stop offset="0.42" stop-color="#f07a0a"/><stop offset="0.55" stop-color="#e41a10"/><stop offset="0.68" stop-color="#e01010"/><stop offset="0.82" stop-color="#801010"/><stop offset="0.92" stop-color="#3a1410"/><stop offset="1" stop-color="#1e1210"/></linearGradient>
<linearGradient id="cbH" x1="0" y1="0" x2="0" y2="1"><stop offset="0" stop-color="#fffdf0"/><stop offset="0.1" stop-color="#fbf0a0"/><stop offset="0.17" stop-color="#f5e400"/><stop offset="0.32" stop-color="#f5d000"/><stop offset="0.42" stop-color="#f07a0a"/><stop offset="0.55" stop-color="#e41a10"/><stop offset="0.7" stop-color="#e01010"/><stop offset="0.82" stop-color="#801010"/><stop offset="0.92" stop-color="#3a1410"/><stop offset="1" stop-color="#1e1210"/></linearGradient>
<rect x="1867" y="655.2" width="15.5" height="219" fill="url(#cbE)" stroke="#bbb" stroke-width="0.6"/>
<rect x="1869" y="1014.8" width="16.3" height="220.2" fill="url(#cbH)" stroke="#bbb" stroke-width="0.6"/>
<text x="1889.8" y="662.5" font-size="28.6">2.5</text>
<text x="1889.8" y="752.6" font-size="28.6">1.5</text>
<text x="1889.8" y="846.7" font-size="28.6">0.5</text>
<text x="1889.8" y="1025.7" font-size="28.6">2</text>
<text x="1889.8" y="1082" font-size="28.6">1.5</text>
<text x="1889.8" y="1136" font-size="28.6">1</text>
<text x="1889.8" y="1199.3" font-size="28.6">0.5</text>
<text transform="translate(1972.8,758.8) rotate(-90)" font-size="29.5" text-anchor="middle" textLength="187" lengthAdjust="spacingAndGlyphs">2 log<tspan font-size="19.5" dy="6.5">10</tspan><tspan dy="-6.5"> |E|/ |E</tspan><tspan font-size="19.5" dy="6.5">0</tspan><tspan dy="-6.5">|</tspan></text>
<text transform="translate(1972.8,1122.3) rotate(-90)" font-size="29.5" text-anchor="middle" textLength="190.5" lengthAdjust="spacingAndGlyphs">2 log<tspan font-size="19.5" dy="6.5">10</tspan><tspan dy="-6.5"> |H|/ |H</tspan><tspan font-size="19.5" dy="6.5">0</tspan><tspan dy="-6.5">|</tspan></text>
</svg>
</body></html>
